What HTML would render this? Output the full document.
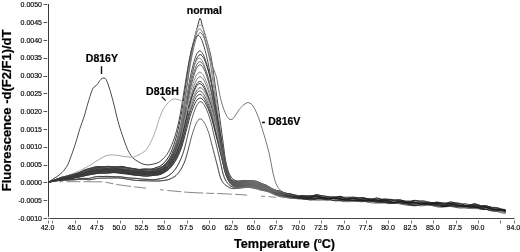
<!DOCTYPE html>
<html><head><meta charset="utf-8"><style>
html,body{margin:0;padding:0;background:#fff;}
svg{display:block;filter:grayscale(1);}
.tk{font-family:"Liberation Sans",sans-serif;font-size:7px;fill:#000;stroke:#000;stroke-width:0.15px;}
.lb{font-family:"Liberation Sans",sans-serif;font-weight:bold;font-size:10.5px;fill:#000;stroke:#000;stroke-width:0.2px;}
.ti{font-family:"Liberation Sans",sans-serif;font-weight:bold;font-size:12.7px;fill:#000;stroke:#000;stroke-width:0.2px;}
</style></head><body>
<svg width="520" height="252" viewBox="0 0 520 252">
<defs><linearGradient id="hg" gradientUnits="userSpaceOnUse" x1="48" y1="0" x2="506" y2="0"><stop offset="0" stop-color="#383838"/><stop offset="0.26" stop-color="#383838"/><stop offset="0.33" stop-color="#555"/><stop offset="0.40" stop-color="#555"/><stop offset="0.45" stop-color="#6a6a6a"/><stop offset="1" stop-color="#6a6a6a"/></linearGradient>
<linearGradient id="lg" gradientUnits="userSpaceOnUse" x1="0" y1="130" x2="0" y2="165"><stop offset="0" stop-color="#000"/><stop offset="1" stop-color="#fff"/></linearGradient><linearGradient id="xg" gradientUnits="userSpaceOnUse" x1="270" y1="0" x2="300" y2="0"><stop offset="0" stop-color="#fff"/><stop offset="1" stop-color="#000"/></linearGradient><mask id="low" maskUnits="userSpaceOnUse" x="0" y="0" width="520" height="252"><rect x="48" y="100" width="470" height="118" fill="url(#lg)"/></mask><mask id="lft" maskUnits="userSpaceOnUse" x="0" y="0" width="520" height="252"><rect x="48" y="0" width="470" height="252" fill="url(#xg)"/></mask><linearGradient id="xg2" gradientUnits="userSpaceOnUse" x1="270" y1="0" x2="300" y2="0"><stop offset="0" stop-color="#000"/><stop offset="1" stop-color="#fff"/></linearGradient><mask id="rgt" maskUnits="userSpaceOnUse" x="0" y="0" width="520" height="252"><rect x="48" y="100" width="470" height="118" fill="url(#xg2)"/></mask></defs>
<rect width="520" height="252" fill="#fff"/>
<path d="M48 182.3l1-.4l1-.4l1-.3l1-.4l1-.3l1-.3l1-.4l1-.3l1-.4l1-.4l1-.5l1-.4l1-.4l1-.3l1-.2l1-.3l1-.2l1-.2l1-.3l1-.3l1-.3l1-.3l1-.2l1-.2l1-.3l1-.2l1-.2l1-.2l1-.3l1-.3l1-.4l1-.5l1-.5l1-.5l1-.5l1-.5l1-.4l1-.3l1-.3l1-.3l1-.3l1-.3l1-.2l1-.3l1-.3l1-.3l1-.2l1-.2l1-.1l1-.1l1 0l1 0l1 .1l1 0l1 0l1-.1l1 0l1-.1l1-.1l1 0l1 0l1 .1l1 .1l1 .1l1 .1l1 .1l1-.1l1 0l1-.1l1-.1l1-.1l1-.1l1 0l1 .1l1 .1l1 .2l1 .2l1 .3l1 .2l1 .2l1 .2l1 .1l1 .2l1 .2l1 .1l1 .2l1 .2l1 .2l1 .2l1 .1l1 0l1 0l1-.1l1-.1l1-.1l1-.1l1 0l1 0l1 0l1 .1l1 0l1 0l1 0l1-.2l1-.2l1-.3l1-.3l1-.4l1-.3l1-.3l1-.4l1-.5l1-.6l1-.8l1-.9l1-1l1-1.1l1-1.2l1-1.3l1-1.4l1-1.6l1-2l1-2.1l1-2.4l1-2.7l1-2.7l1-3l1-3.5l1-3.8l1-4.2l1-4.5l1-4.8l1-5.1l1-5.8l1-6.4l1-6.8l1-6.7l1-6.5l1-6.9l1-6.9l1-6.7l1-5.9l1-5l1-4.3l1-4l1-3.8l1-3.9l1-3.9l1-3.8l1-3.5l1-4l1-2.4l1 2l1 4.1l1 3.4l1 3.4l1 3.5l1 3.5l1 3.3l1 3.3l1 3.5l1 3.9l1 4.5l1 5.6l1 6.9l1 7.5l1 7.4l1 7.1l1 7l1 7.1l1 7.1l1 7.3l1 7.5l1 7.5l1 7.6l1 8l1 7.3l1 5.4l1 4.2l1 3.5l1 2.6l1 2l1 1.7l1 1.4l1 .9l1 .6l1 .5l1 .4l1 .2l1 .1l1-.1l1-.1l1 0l1-.2l1-.1l1-.1l1 0l1 0l1 0l1 .1l1 0l1 .1l1 0l1 0l1 .1l1 0l1 .2l1 .2l1 .2l1 .4l1 .5l1 .4l1 .5l1 .4l1 .4l1 .4l1 .3l1 .4l1 .5l1 .6l1 .7l1 .7l1 .7l1 .6l1 .5l1 .4l1 .3l1 .2l1 .2l1 .1l1 .2l1 .2l1 .4l1 .4l1 .4l1 .4l1 .4l1 .2l1 .2l1 .2l1 .1l1 .1l1 .2l1 .3l1 .3l1 .3l1 .3l1 .3l1 .2l1 .1l1 0l1-.1l1-.1l1 0l1 0l1 .1l1 .3l1 .3l1 .2l1 .3l1 .1l1-.1l1-.2l1-.3l1-.4l1-.5l1-.3l1-.2l1-.1l1 .1l1 .2l1 .3l1 .2l1 .3l1 .1l1 .1l1 .1l1 .1l1 .1l1 .2l1 .3l1 .3l1 .3l1 .2l1 .1l1 0l1-.2l1-.3l1-.3l1-.4l1-.2l1 0l1 .1l1 .3l1 .4l1 .4l1 .3l1 .2l1 .1l1-.1l1-.2l1-.2l1-.3l1-.1l1-.1l1 0l1 .2l1 .1l1 .2l1 .1l1 0l1 0l1-.1l1 0l1 0l1 .2l1 .2l1 .4l1 .4l1 .3l1 .3l1 .1l1 0l1-.2l1-.3l1-.4l1-.3l1-.2l1-.1l1 .2l1 .2l1 .4l1 .4l1 .3l1 .2l1 0l1 0l1-.2l1-.1l1-.1l1-.1l1 .1l1 .1l1 .2l1 .2l1 .1l1 0l1 0l1-.1l1-.1l1 0l1 .1l1 .3l1 .4l1 .5l1 .5l1 .5l1 .3l1 .1l1 0l1-.3l1-.4l1-.4l1-.5l1-.3l1-.2l1 0l1 .1l1 .2l1 .2l1 .1l1 .1l1 0l1 0l1 0l1 .1l1 .1l1 .3l1 .3l1 .4l1 .4l1 .3l1 .1l1 0l1-.1l1-.3l1-.2l1-.2l1 0l1 .1l1 .2l1 .4l1 .4l1 .3l1 .2l1 0l1-.2l1-.3l1-.4l1-.4l1-.3l1-.2l1 0l1 .1l1 .2l1 .2l1 .2l1 .2l1 .1l1 .1l1 .1l1 .2l1 .2l1 .4l1 .4l1 .5l1 .5l1 .3l1 .2l1 0l1-.2l1-.4l1-.5l1-.4l1-.4l1-.2l1 0l1 .2l1 .3l1 .4l1 .4l1 .3l1 .2l1 .1l1 0l1 0l1 0l1 .1l1 .2l1 .3l1 .4l1 .3l1 .3l1 .2l1 .1l1 .1l1-.1l1 0l1 .1l1 .2l1 .4l1 .5l1 .5l1 .6l1 .4l1 .3l1 0l.5 0" stroke="#333" stroke-width="0.95" fill="none"/>
<path d="M48 182.3l1-.4l1-.4l1-.4l1-.3l1-.4l1-.4l1-.3l1-.3l1-.3l1-.3l1-.3l1-.3l1-.3l1-.3l1-.2l1-.3l1-.2l1-.3l1-.2l1-.3l1-.2l1-.3l1-.3l1-.2l1-.3l1-.3l1-.3l1-.4l1-.3l1-.4l1-.4l1-.4l1-.5l1-.4l1-.4l1-.4l1-.4l1-.3l1-.4l1-.3l1-.3l1-.3l1-.2l1-.1l1-.2l1-.1l1-.1l1-.1l1-.1l1-.1l1-.1l1-.1l1 0l1-.1l1-.1l1-.1l1-.1l1-.1l1-.1l1 0l1 0l1-.1l1 0l1 .1l1 0l1 0l1 0l1 .1l1 0l1 .1l1 .1l1 .1l1 .1l1 .1l1 .1l1 .1l1 .2l1 .2l1 .2l1 .1l1 .2l1 .2l1 .2l1 .2l1 .1l1 .1l1 .1l1 .1l1 0l1 0l1 0l1 .1l1 0l1 0l1 0l1 0l1 0l1 0l1 0l1 .1l1 0l1-.1l1 0l1-.1l1-.1l1-.1l1-.2l1-.1l1-.3l1-.2l1-.2l1-.4l1-.4l1-.6l1-.8l1-.9l1-1l1-1.1l1-1.2l1-1.3l1-1.3l1-1.6l1-2l1-2.1l1-2.5l1-2.6l1-2.8l1-2.9l1-3.4l1-3.7l1-4l1-4.4l1-4.8l1-5.2l1-6.1l1-6.8l1-7.1l1-7.1l1-7l1-7.3l1-7.3l1-6.9l1-6.2l1-5.5l1-5.3l1-4.8l1-4.2l1-3.6l1-3.1l1-2.1l1-1.3l1-.8l1 .3l1 1.3l1 1.7l1 2.4l1 3.1l1 3.5l1 3.8l1 4.3l1 4.7l1 5.2l1 5.5l1 6.5l1 7.3l1 7.9l1 7.7l1 7.3l1 7.1l1 7.2l1 7.2l1 7.3l1 7.4l1 7.4l1 7.8l1 7.8l1 6.5l1 4.5l1 3.8l1 3l1 2.2l1 1.8l1 1.5l1 1.1l1 .7l1 .5l1 .4l1 .3l1 .2l1 .1l1 0l1 0l1 0l1-.1l1-.1l1-.2l1-.2l1-.1l1-.1l1-.1l1 0l1 .1l1 .2l1 .2l1 .2l1 .2l1 .3l1 .2l1 .3l1 .3l1 .4l1 .4l1 .4l1 .4l1 .3l1 .3l1 .3l1 .3l1 .3l1 .4l1 .4l1 .5l1 .4l1 .5l1 .5l1 .5l1 .5l1 .5l1 .5l1 .4l1 .4l1 .4l1 .3l1 .3l1 .3l1 .2l1 .2l1 .1l1 .1l1 .1l1 0l1 .1l1 .1l1 .1l1 .1l1 .2l1 .2l1 .2l1 .3l1 .3l1 .2l1 .2l1 .3l1 .1l1 .2l1 .1l1 0l1 0l1-.1l1-.1l1-.2l1-.1l1-.1l1-.1l1-.1l1-.1l1 0l1 .1l1 .1l1 .1l1 .1l1 .1l1 0l1 .1l1 0l1 0l1 0l1-.1l1 0l1-.1l1 0l1 .1l1 .1l1 .1l1 .2l1 .3l1 .3l1 .2l1 .3l1 .3l1 .2l1 .1l1 .1l1-.1l1 0l1-.2l1-.2l1-.2l1-.2l1-.2l1-.2l1-.2l1 0l1-.1l1 .1l1 .1l1 .1l1 .2l1 .2l1 .2l1 .3l1 .2l1 .2l1 .1l1 .2l1 .1l1 .1l1 .1l1 .1l1 0l1 0l1 0l1 0l1 0l1 0l1 0l1-.1l1 0l1-.1l1 0l1 0l1 0l1 0l1 0l1 0l1 .1l1 .1l1 .1l1 .1l1 .1l1 .1l1 .1l1 .1l1 .1l1 .2l1 .1l1 .2l1 .2l1 .2l1 .2l1 .2l1 .2l1 .1l1 .2l1 .1l1 .1l1 0l1-.1l1-.1l1-.2l1-.2l1-.2l1-.3l1-.2l1-.2l1-.1l1 0l1 0l1 .1l1 .2l1 .3l1 .3l1 .4l1 .4l1 .3l1 .3l1 .3l1 .1l1 .2l1 0l1 0l1-.1l1-.1l1-.1l1-.1l1-.1l1-.1l1 0l1 0l1 .1l1 .1l1 .1l1 0l1 .1l1 0l1 0l1 0l1-.1l1 0l1-.1l1-.1l1 0l1 0l1 0l1 .2l1 .1l1 .3l1 .3l1 .3l1 .3l1 .4l1 .2l1 .3l1 .2l1 .1l1 0l1 0l1-.1l1-.2l1-.1l1-.2l1-.2l1-.2l1-.1l1-.1l1 0l1 0l1 .1l1 .2l1 .1l1 .2l1 .3l1 .2l1 .3l1 .3l1 .3l1 .3l1 .3l1 .2l1 .3l1 .2l1 .2l1 .2l1 .1l1 .1l1 .2l1 0l1 .1l1 .1l1 0l1 .1l1 0l1 .1l1 .1l1 .2l1 .1l1 .2l.5 .1" stroke="#999" stroke-width="0.95" fill="none"/>
<path d="M48 182.3l1-.4l1-.3l1-.4l1-.4l1-.4l1-.3l1-.4l1-.3l1-.4l1-.2l1-.3l1-.2l1-.3l1-.2l1-.2l1-.3l1-.3l1-.3l1-.3l1-.3l1-.3l1-.3l1-.3l1-.3l1-.2l1-.3l1-.3l1-.4l1-.4l1-.3l1-.4l1-.4l1-.4l1-.4l1-.3l1-.3l1-.3l1-.2l1-.4l1-.3l1-.4l1-.3l1-.4l1-.3l1-.3l1-.3l1-.2l1-.2l1-.1l1 0l1 0l1 .1l1 0l1 0l1 0l1 0l1-.1l1-.1l1 0l1-.1l1 0l1 0l1 .1l1 0l1 .1l1 0l1 .1l1 0l1 0l1 0l1 0l1 0l1 .1l1 .1l1 .1l1 .1l1 .1l1 .2l1 .2l1 .1l1 .1l1 .1l1 .1l1 .1l1 .1l1 .1l1 .2l1 .1l1 .2l1 .1l1 .2l1 .1l1 .1l1 .1l1 0l1 0l1-.1l1 0l1 0l1 0l1 0l1 .1l1 0l1 0l1-.1l1-.1l1-.2l1-.2l1-.3l1-.3l1-.4l1-.3l1-.5l1-.6l1-.7l1-.8l1-.9l1-1l1-1.1l1-1.2l1-1.3l1-1.5l1-1.8l1-2.2l1-2.4l1-2.6l1-2.8l1-2.9l1-3.3l1-3.6l1-4.1l1-4.4l1-4.7l1-5.2l1-6.2l1-6.8l1-7.1l1-7l1-7l1-7.2l1-7.2l1-6.6l1-5.8l1-5.4l1-5.1l1-4.6l1-4l1-3.4l1-2.9l1-1.7l1-1.2l1-.4l1 .8l1 1.5l1 1.9l1 2.9l1 3.4l1 3.6l1 4l1 4.5l1 4.9l1 5.3l1 5.9l1 7l1 7.5l1 7.6l1 7.1l1 7l1 7.1l1 7.1l1 7.2l1 7.4l1 7.3l1 7.6l1 7.8l1 6.5l1 4.5l1 3.7l1 3l1 2.2l1 1.9l1 1.5l1 1.2l1 .8l1 .5l1 .4l1 .2l1 .1l1-.1l1 0l1-.1l1 0l1-.1l1-.1l1 0l1-.1l1-.1l1-.1l1 0l1-.1l1 0l1 0l1 .1l1 .1l1 .1l1 .2l1 .2l1 .3l1 .3l1 .4l1 .5l1 .4l1 .4l1 .4l1 .3l1 .3l1 .3l1 .3l1 .4l1 .5l1 .5l1 .5l1 .6l1 .5l1 .5l1 .5l1 .5l1 .4l1 .4l1 .4l1 .3l1 .4l1 .5l1 .4l1 .5l1 .4l1 .4l1 .2l1 .1l1 .1l1 0l1 0l1 0l1 0l1 0l1 .1l1 .2l1 .2l1 .2l1 .3l1 .2l1 .1l1 0l1 0l1 0l1-.1l1 0l1 0l1 0l1 .1l1 .2l1 .1l1 .2l1 .1l1 .1l1 0l1 0l1-.1l1 0l1 0l1 0l1 .1l1 .1l1 .2l1 .2l1 .1l1 .1l1 0l1-.1l1-.2l1-.2l1-.2l1-.1l1 0l1 0l1 .2l1 .3l1 .3l1 .3l1 .2l1 .1l1 .1l1-.1l1-.2l1-.2l1-.2l1-.1l1-.1l1 0l1 .1l1 .2l1 .2l1 .2l1 .2l1 .1l1 .1l1 0l1 0l1 .1l1 0l1 .1l1 .1l1 .2l1 .2l1 .2l1 .1l1 .1l1 0l1-.1l1-.1l1-.1l1-.1l1-.1l1 0l1 .1l1 .2l1 .2l1 .2l1 .1l1 .1l1 0l1-.2l1-.2l1-.2l1-.2l1-.2l1 0l1 0l1 .3l1 .3l1 .3l1 .4l1 .3l1 .3l1 .2l1 .1l1 0l1 0l1-.1l1 0l1 .1l1 .1l1 .1l1 .2l1 .1l1 .2l1 0l1 0l1 0l1-.1l1-.1l1 0l1 0l1 .1l1 .1l1 .2l1 .2l1 .1l1 .1l1 0l1-.1l1-.1l1-.2l1-.2l1-.1l1-.1l1 .1l1 .1l1 .3l1 .3l1 .3l1 .2l1 .2l1 .1l1-.1l1-.1l1-.2l1-.2l1-.1l1 0l1 0l1 .2l1 .3l1 .3l1 .3l1 .2l1 .2l1 .2l1 0l1 .1l1-.1l1 0l1 .1l1 0l1 .1l1 .1l1 .1l1 .1l1 0l1-.1l1-.1l1-.2l1-.2l1-.2l1-.1l1 0l1 .1l1 .2l1 .3l1 .2l1 .3l1 .2l1 .1l1 0l1-.1l1-.1l1-.1l1 0l1 .1l1 .2l1 .3l1 .4l1 .4l1 .5l1 .4l1 .3l1 .2l1 .1l1 0l1 0l1-.1l1 0l1 0l1 .1l1 .1l1 .3l1 .2l1 .2l1 .2l1 .1l1 .1l1 .1l1 .1l1 .1l1 .1l1 .2l1 .3l.5 .1" stroke="#777" stroke-width="0.95" fill="none"/>
<path d="M48 182.3l1-.3l1-.3l1-.3l1-.3l1-.3l1-.4l1-.3l1-.4l1-.3l1-.4l1-.3l1-.3l1-.3l1-.2l1-.2l1-.1l1-.2l1-.1l1-.2l1-.1l1-.2l1-.2l1-.3l1-.3l1-.3l1-.3l1-.3l1-.3l1-.3l1-.4l1-.3l1-.3l1-.3l1-.3l1-.3l1-.3l1-.4l1-.3l1-.4l1-.3l1-.4l1-.4l1-.3l1-.3l1-.2l1-.2l1-.1l1-.1l1-.1l1 0l1 0l1 .1l1 0l1 0l1 0l1-.1l1-.1l1-.1l1-.1l1-.2l1-.1l1-.1l1 0l1 0l1 0l1 0l1 .1l1 .1l1 .2l1 .1l1 .2l1 .1l1 .2l1 .1l1 .2l1 .1l1 .1l1 .1l1 .1l1 .1l1 .1l1 .1l1 .2l1 .1l1 .1l1 0l1 .1l1 0l1 0l1 .1l1 0l1 0l1 0l1 0l1 .1l1 .1l1 .1l1 .2l1 .1l1 .1l1 .1l1 .1l1 0l1-.1l1-.1l1-.2l1-.3l1-.3l1-.3l1-.4l1-.5l1-.6l1-.6l1-.7l1-.8l1-.9l1-.8l1-.9l1-1l1-1l1-1.3l1-1.5l1-1.8l1-1.9l1-2.2l1-2.3l1-2.4l1-2.7l1-3l1-3.3l1-3.6l1-3.8l1-4.1l1-4.8l1-5.4l1-5.7l1-5.8l1-5.5l1-5.8l1-5.9l1-5.7l1-5.3l1-4.6l1-4.4l1-4.1l1-3.7l1-3.1l1-2.8l1-2.2l1-1.3l1-.9l1-.4l1 .6l1 1.3l1 1.5l1 2.1l1 2.7l1 2.9l1 3.2l1 3.5l1 3.9l1 4.1l1 4.5l1 5.2l1 6l1 6.3l1 6.4l1 6l1 5.9l1 5.9l1 5.9l1 6l1 6.1l1 6.2l1 6.1l1 6.5l1 5.9l1 4.4l1 3.4l1 2.8l1 2.1l1 1.6l1 1.4l1 1l1 .7l1 .5l1 .4l1 .3l1 .3l1 .1l1 .1l1 0l1 0l1-.1l1-.2l1-.1l1-.2l1-.2l1-.1l1-.1l1 .1l1 .1l1 .2l1 .2l1 .2l1 .3l1 .2l1 .2l1 .3l1 .3l1 .3l1 .4l1 .3l1 .3l1 .3l1 .4l1 .3l1 .4l1 .5l1 .5l1 .5l1 .5l1 .6l1 .4l1 .5l1 .3l1 .3l1 .2l1 .1l1 .1l1 .1l1 .1l1 .1l1 .2l1 .2l1 .3l1 .3l1 .4l1 .4l1 .5l1 .4l1 .5l1 .3l1 .4l1 .2l1 .2l1 .2l1 .1l1 .1l1 0l1 0l1 0l1 0l1 0l1 0l1 0l1-.1l1 0l1-.1l1-.2l1-.2l1-.1l1-.2l1-.2l1-.1l1-.1l1 .1l1 .1l1 .2l1 .2l1 .3l1 .4l1 .3l1 .3l1 .3l1 .2l1 0l1 0l1 0l1-.2l1-.2l1-.2l1-.1l1-.1l1-.1l1 .1l1 .1l1 .2l1 .2l1 .3l1 .2l1 .2l1 .2l1 0l1 0l1-.1l1-.2l1-.1l1-.2l1-.2l1-.2l1 0l1 0l1 0l1 .2l1 .2l1 .3l1 .2l1 .2l1 .2l1 .2l1 .1l1 0l1 0l1 0l1 0l1-.1l1 0l1 0l1 .1l1 .1l1 .1l1 .2l1 .1l1 .2l1 .1l1 0l1 0l1-.1l1-.2l1-.1l1-.1l1-.2l1 0l1 0l1 .1l1 .1l1 .3l1 .3l1 .4l1 .3l1 .3l1 .3l1 .1l1 .1l1 0l1-.2l1-.2l1-.2l1-.2l1-.3l1-.1l1-.1l1 0l1 .1l1 .3l1 .3l1 .4l1 .3l1 .4l1 .4l1 .3l1 .2l1 .1l1 0l1-.1l1-.1l1-.1l1-.2l1-.1l1-.1l1-.1l1-.1l1 0l1 0l1 0l1-.1l1 0l1 0l1-.1l1 0l1-.1l1 0l1 0l1 .1l1 .2l1 .2l1 .4l1 .4l1 .5l1 .4l1 .5l1 .4l1 .3l1 .2l1 0l1-.1l1-.2l1-.3l1-.4l1-.4l1-.4l1-.4l1-.3l1-.1l1-.1l1 .1l1 .2l1 .2l1 .3l1 .4l1 .3l1 .3l1 .2l1 .2l1 .1l1 0l1 0l1 0l1 0l1 .1l1 0l1 .1l1 .2l1 .2l1 .2l1 .2l1 .2l1 .2l1 .1l1 .1l1 0l1-.1l1 0l1-.1l1 0l1 0l1 0l1 .1l1 .2l1 .3l1 .3l1 .3l1 .3l1 .3l1 .2l1 .1l1 .1l1 .1l1-.1l1 0l1-.1l1 0l1 0l1 .1l1 .2l1 .4l.5 .2" stroke="#444" stroke-width="0.95" fill="none"/>
<path d="M48 182.3l1-.3l1-.3l1-.3l1-.3l1-.4l1-.3l1-.3l1-.3l1-.3l1-.3l1-.2l1-.3l1-.2l1-.2l1-.2l1-.1l1-.2l1-.2l1-.1l1-.2l1-.2l1-.2l1-.2l1-.3l1-.3l1-.3l1-.3l1-.4l1-.3l1-.4l1-.4l1-.4l1-.3l1-.4l1-.3l1-.3l1-.2l1-.3l1-.2l1-.3l1-.2l1-.3l1-.2l1-.2l1-.2l1-.2l1-.1l1-.2l1-.1l1-.2l1-.1l1 0l1-.1l1 0l1-.1l1 0l1-.1l1 0l1-.1l1 0l1 0l1-.1l1 0l1 0l1 0l1 0l1 0l1 0l1 0l1 .1l1 .1l1 .1l1 .1l1 .2l1 .1l1 .2l1 .2l1 .2l1 .2l1 .2l1 .2l1 .1l1 .2l1 .1l1 .2l1 0l1 .1l1 0l1 .1l1 0l1 0l1-.1l1 0l1 0l1 0l1 0l1 .1l1 0l1 0l1 0l1 .1l1-.1l1 0l1 0l1-.1l1-.1l1-.1l1-.1l1-.2l1-.2l1-.3l1-.4l1-.5l1-.7l1-.7l1-.8l1-.9l1-1l1-1l1-1l1-1.2l1-1.5l1-1.6l1-1.9l1-1.9l1-2.2l1-2.2l1-2.4l1-2.8l1-3l1-3.3l1-3.6l1-3.8l1-4.4l1-5l1-5.5l1-5.6l1-5.5l1-5.6l1-5.8l1-5.7l1-5.4l1-4.7l1-4.4l1-4.1l1-3.8l1-3.3l1-2.8l1-2.5l1-1.6l1-1.1l1-.6l1 .2l1 .9l1 1.3l1 1.7l1 2.4l1 2.6l1 2.9l1 3.2l1 3.5l1 3.8l1 4.2l1 4.5l1 5.4l1 5.9l1 6.1l1 5.8l1 5.7l1 5.6l1 5.7l1 5.7l1 5.9l1 6l1 5.9l1 6.4l1 6.1l1 5.1l1 3.6l1 3l1 2.5l1 1.7l1 1.5l1 1l1 .7l1 .4l1 .3l1 .2l1 .2l1 0l1 0l1 0l1 0l1-.1l1-.1l1-.1l1-.1l1 0l1 0l1 0l1 .1l1 .2l1 .1l1 .2l1 .2l1 .2l1 .2l1 .2l1 .2l1 .3l1 .3l1 .4l1 .3l1 .4l1 .3l1 .3l1 .4l1 .4l1 .4l1 .5l1 .5l1 .5l1 .6l1 .5l1 .5l1 .5l1 .5l1 .4l1 .3l1 .3l1 .2l1 .2l1 .2l1 .2l1 .2l1 .1l1 .2l1 .3l1 .2l1 .3l1 .3l1 .4l1 .4l1 .4l1 .3l1 .4l1 .3l1 .3l1 .2l1 .1l1 0l1 0l1-.1l1-.2l1-.2l1-.2l1-.2l1-.3l1-.1l1-.2l1-.1l1 0l1 0l1 .1l1 .1l1 .2l1 .3l1 .2l1 .3l1 .3l1 .3l1 .2l1 .2l1 .1l1 .1l1 .1l1-.1l1 0l1-.2l1-.1l1-.2l1-.1l1-.2l1-.1l1-.1l1-.1l1 0l1 0l1 .1l1 .1l1 .1l1 .2l1 .2l1 .2l1 .1l1 .2l1 .2l1 .1l1 .1l1 .1l1 .1l1 .1l1 0l1 0l1 .1l1 0l1 0l1 0l1 0l1 0l1 0l1 .1l1 0l1 0l1 0l1 0l1 0l1-.1l1 0l1 0l1 0l1-.1l1 0l1 .1l1 0l1 .1l1 .1l1 .1l1 .1l1 .2l1 .2l1 .2l1 .2l1 .2l1 .2l1 .2l1 .2l1 .1l1 .1l1 0l1 0l1 0l1-.1l1 0l1-.1l1-.1l1-.1l1-.1l1-.1l1 0l1 0l1 .1l1 0l1 .1l1 .2l1 .2l1 .1l1 .2l1 .2l1 .2l1 .2l1 .1l1 .2l1 .1l1 0l1 .1l1 0l1 .1l1 0l1-.1l1 0l1 0l1 0l1 0l1 0l1 .1l1 0l1 0l1 0l1 .1l1 0l1 0l1 0l1 .1l1 0l1 0l1 0l1 .1l1 0l1 .1l1 .1l1 .1l1 .1l1 .1l1 .2l1 .2l1 .2l1 .1l1 .2l1 .2l1 .1l1 .1l1 .1l1 0l1 0l1-.1l1-.1l1-.1l1-.2l1-.1l1-.2l1-.1l1-.1l1 0l1 0l1 .1l1 .1l1 .2l1 .2l1 .3l1 .3l1 .3l1 .4l1 .3l1 .3l1 .2l1 .2l1 .1l1 .1l1 0l1 0l1-.1l1-.1l1-.1l1-.1l1-.2l1 0l1 0l1 0l1 .1l1 .2l1 .2l1 .3l1 .4l1 .3l1 .4l1 .4l1 .4l1 .4l1 .3l1 .2l1 .2l1 .2l1 0l1 .1l1-.1l1 0l.5 0" stroke="#333" stroke-width="0.95" fill="none"/>
<path d="M48 182.3l1-.3l1-.3l1-.3l1-.3l1-.3l1-.4l1-.3l1-.3l1-.4l1-.3l1-.3l1-.4l1-.3l1-.2l1-.3l1-.2l1-.3l1-.2l1-.3l1-.2l1-.3l1-.2l1-.3l1-.2l1-.3l1-.2l1-.3l1-.3l1-.2l1-.3l1-.2l1-.3l1-.3l1-.3l1-.3l1-.4l1-.3l1-.4l1-.3l1-.4l1-.4l1-.4l1-.4l1-.3l1-.3l1-.2l1-.2l1-.2l1-.1l1 0l1-.1l1 0l1 .1l1 0l1 0l1 0l1 0l1 0l1 0l1 0l1 0l1 0l1-.1l1 0l1 0l1-.1l1 0l1 0l1 0l1 0l1 .1l1 .1l1 .1l1 .2l1 .1l1 .2l1 .2l1 .2l1 .2l1 .2l1 .1l1 .2l1 .1l1 .1l1 0l1 .1l1 0l1 0l1 0l1 .1l1 0l1 .1l1 .1l1 .1l1 .1l1 .1l1 .1l1 .1l1 .1l1 0l1 0l1-.1l1-.1l1-.2l1-.2l1-.2l1-.2l1-.3l1-.2l1-.3l1-.4l1-.4l1-.6l1-.6l1-.8l1-.8l1-.9l1-.9l1-1l1-1.1l1-1.4l1-1.6l1-1.7l1-2l1-2l1-2.2l1-2.3l1-2.6l1-2.9l1-3.1l1-3.5l1-3.6l1-4.1l1-4.8l1-5.3l1-5.5l1-5.4l1-5.3l1-5.6l1-5.6l1-5.2l1-4.7l1-4.2l1-4l1-3.6l1-3.2l1-2.7l1-2.4l1-1.7l1-.9l1-.6l1 .2l1 .9l1 1.4l1 1.7l1 2.3l1 2.7l1 2.9l1 3.2l1 3.5l1 3.8l1 4.2l1 4.5l1 5.3l1 5.8l1 6.1l1 5.9l1 5.5l1 5.5l1 5.5l1 5.6l1 5.6l1 5.8l1 5.8l1 6l1 6l1 5.2l1 3.7l1 3l1 2.6l1 1.9l1 1.6l1 1.3l1 .9l1 .7l1 .4l1 .3l1 .2l1 .2l1 0l1 0l1-.1l1-.1l1-.1l1-.2l1-.2l1-.2l1-.1l1-.1l1 0l1 .1l1 .1l1 .2l1 .2l1 .3l1 .2l1 .3l1 .2l1 .3l1 .3l1 .4l1 .3l1 .3l1 .3l1 .3l1 .2l1 .2l1 .3l1 .2l1 .4l1 .4l1 .4l1 .4l1 .5l1 .5l1 .5l1 .5l1 .5l1 .5l1 .4l1 .4l1 .3l1 .3l1 .2l1 .2l1 .1l1 .1l1 0l1 0l1 0l1 .1l1 0l1 .1l1 .1l1 .2l1 .2l1 .3l1 .2l1 .3l1 .3l1 .3l1 .2l1 .2l1 .2l1 .1l1 0l1 .1l1 0l1-.1l1 0l1-.1l1-.1l1 0l1-.1l1 0l1 0l1-.1l1 0l1-.1l1-.1l1-.1l1-.1l1-.1l1-.2l1 0l1 0l1 0l1 .1l1 .2l1 .3l1 .3l1 .4l1 .4l1 .4l1 .3l1 .3l1 .2l1 0l1 0l1-.2l1-.2l1-.3l1-.3l1-.3l1-.2l1-.2l1-.1l1 0l1 .1l1 .2l1 .3l1 .2l1 .3l1 .3l1 .2l1 .2l1 .1l1 0l1 0l1-.1l1-.1l1-.2l1-.1l1 0l1-.1l1 .1l1 .1l1 .1l1 .1l1 .2l1 .2l1 .2l1 .1l1 .1l1 .1l1 0l1 .1l1-.1l1 0l1 0l1 0l1 0l1 .1l1 .1l1 0l1 .1l1 .1l1 .1l1 .1l1 0l1 0l1 0l1 0l1-.1l1 0l1 0l1 0l1 .1l1 .1l1 .2l1 .2l1 .2l1 .3l1 .3l1 .3l1 .2l1 .2l1 .2l1 .1l1 0l1-.1l1 0l1-.2l1-.1l1-.2l1-.2l1-.2l1-.1l1-.1l1-.1l1-.1l1 0l1 .1l1 .1l1 .1l1 .2l1 .2l1 .3l1 .3l1 .3l1 .3l1 .3l1 .3l1 .2l1 .2l1 .2l1 0l1 0l1-.1l1-.2l1-.2l1-.3l1-.2l1-.3l1-.2l1-.1l1-.1l1 0l1 .1l1 .1l1 .2l1 .3l1 .3l1 .2l1 .3l1 .2l1 .1l1 .2l1 0l1 .1l1 0l1 0l1 .1l1 0l1 .1l1 0l1 .1l1 .2l1 .1l1 .1l1 .1l1 0l1 0l1 0l1-.1l1-.1l1-.1l1 0l1-.1l1 .1l1 .1l1 .1l1 .3l1 .3l1 .3l1 .4l1 .3l1 .3l1 .3l1 .2l1 .1l1 0l1 0l1-.1l1-.1l1-.1l1-.1l1 .1l1 .1l1 .2l1 .2l1 .4l1 .5l1 .4l1 .5l1 .5l1 .4l.5 .1" stroke="#888" stroke-width="0.95" fill="none"/>
<path d="M48 182.3l1-.3l1-.3l1-.2l1-.3l1-.3l1-.2l1-.3l1-.2l1-.2l1-.2l1-.3l1-.2l1-.2l1-.2l1-.2l1-.2l1-.2l1-.2l1-.2l1-.2l1-.2l1-.3l1-.2l1-.3l1-.2l1-.3l1-.3l1-.3l1-.3l1-.3l1-.3l1-.3l1-.3l1-.2l1-.3l1-.2l1-.3l1-.2l1-.2l1-.2l1-.3l1-.2l1-.3l1-.2l1-.2l1-.2l1-.2l1-.2l1-.2l1-.1l1-.1l1-.1l1 0l1-.1l1 0l1-.1l1 0l1-.1l1 0l1-.1l1 0l1 0l1 0l1 0l1 0l1 0l1 0l1 0l1 .1l1 0l1 .2l1 .1l1 .1l1 .2l1 .1l1 .2l1 .2l1 .2l1 .1l1 .2l1 .1l1 .2l1 .1l1 .1l1 .1l1 .1l1 .1l1 0l1 0l1 .1l1 0l1 .1l1 0l1 0l1 .1l1 0l1 .1l1 0l1 0l1 0l1 0l1-.1l1-.1l1-.1l1-.1l1-.1l1-.2l1-.2l1-.2l1-.2l1-.3l1-.4l1-.5l1-.6l1-.7l1-.7l1-.9l1-.8l1-1l1-1l1-1.2l1-1.4l1-1.7l1-1.8l1-2l1-2.1l1-2.2l1-2.5l1-2.7l1-3l1-3.3l1-3.5l1-3.8l1-4.4l1-5l1-5.2l1-5.3l1-5.2l1-5.4l1-5.4l1-5.3l1-4.8l1-4.3l1-4.1l1-3.8l1-3.4l1-2.9l1-2.6l1-2.1l1-1.3l1-.9l1-.3l1 .4l1 1.1l1 1.3l1 1.9l1 2.4l1 2.6l1 2.9l1 3.2l1 3.5l1 3.8l1 4.1l1 4.7l1 5.4l1 5.8l1 5.7l1 5.4l1 5.4l1 5.3l1 5.4l1 5.5l1 5.6l1 5.6l1 5.6l1 6l1 5.5l1 4.1l1 3.2l1 2.6l1 2.1l1 1.6l1 1.3l1 .9l1 .7l1 .4l1 .3l1 .3l1 .1l1 .1l1 .1l1 0l1 0l1-.1l1 0l1-.2l1-.1l1-.1l1 0l1-.1l1 .1l1 .1l1 .1l1 .2l1 .2l1 .2l1 .2l1 .2l1 .3l1 .3l1 .3l1 .4l1 .3l1 .3l1 .3l1 .3l1 .2l1 .3l1 .3l1 .4l1 .4l1 .4l1 .5l1 .5l1 .5l1 .5l1 .5l1 .5l1 .4l1 .5l1 .4l1 .4l1 .3l1 .3l1 .3l1 .3l1 .3l1 .2l1 .2l1 .2l1 .2l1 .1l1 .2l1 .2l1 .1l1 .1l1 .1l1 .1l1 .1l1 0l1 .1l1 0l1 0l1 0l1 0l1 0l1 0l1 .1l1 0l1 0l1 0l1 0l1 0l1 .1l1 0l1 0l1 .1l1 0l1 0l1 .1l1 0l1 .1l1 0l1 .1l1 .1l1 .1l1 .1l1 .1l1 .1l1 .1l1 .1l1 .1l1 .1l1 .1l1 .1l1 0l1 .1l1 .1l1 0l1 0l1 0l1 0l1 0l1 0l1-.1l1 0l1-.1l1 0l1-.1l1 0l1-.1l1 0l1 0l1 0l1 0l1 .1l1 0l1 .1l1 .1l1 .1l1 .2l1 .1l1 .2l1 .1l1 .2l1 .2l1 .1l1 .2l1 .2l1 .1l1 .1l1 .1l1 .1l1 .1l1 0l1 0l1 0l1 0l1 0l1-.1l1 0l1-.1l1-.1l1 0l1-.1l1-.1l1 0l1 0l1 0l1 0l1 0l1 .1l1 .1l1 .1l1 .1l1 .1l1 .2l1 .2l1 .2l1 .1l1 .2l1 .2l1 .2l1 .2l1 .1l1 .2l1 .1l1 .1l1 .1l1 .1l1 0l1 0l1 .1l1 0l1 0l1-.1l1 0l1 0l1-.1l1 0l1 0l1 0l1-.1l1 0l1 0l1 0l1 .1l1 0l1 0l1 .1l1 .1l1 0l1 .1l1 .1l1 .1l1 0l1 .1l1 .1l1 .1l1 .1l1 .1l1 .1l1 .1l1 .1l1 .1l1 0l1 .1l1 .1l1 .1l1 .1l1 .1l1 0l1 .1l1 .1l1 .1l1 .1l1 0l1 .1l1 0l1 .1l1 0l1 .1l1 0l1 0l1 0l1 0l1 0l1 0l1 0l1 0l1 0l1 0l1 0l1 .1l1 0l1 .1l1 0l1 .1l1 .1l1 .2l1 .1l1 .2l1 .2l1 .2l1 .2l1 .3l1 .2l1 .3l1 .2l1 .3l1 .2l1 .2l1 .2l1 .2l1 .2l1 .2l1 .1l1 .2l1 .1l1 .1l1 .1l1 .1l1 0l1 .1l1 0l1 .1l1 .1l.5 0" stroke="#666" stroke-width="0.95" fill="none"/>
<path d="M48 182.3l1-.3l1-.3l1-.3l1-.3l1-.3l1-.2l1-.3l1-.2l1-.2l1-.2l1-.2l1-.3l1-.2l1-.3l1-.2l1-.3l1-.2l1-.2l1-.1l1-.2l1-.2l1-.2l1-.2l1-.3l1-.3l1-.4l1-.3l1-.4l1-.4l1-.3l1-.3l1-.3l1-.2l1-.2l1-.2l1-.3l1-.2l1-.2l1-.3l1-.3l1-.3l1-.3l1-.3l1-.2l1-.3l1-.1l1-.2l1-.2l1-.1l1-.2l1-.1l1-.1l1-.1l1-.1l1-.1l1 0l1 0l1 0l1 .1l1 0l1 .1l1 .1l1 .1l1 0l1 0l1 0l1-.1l1 0l1 0l1 0l1 .1l1 .1l1 .2l1 .1l1 .1l1 .1l1 .1l1 0l1 .1l1 0l1 .1l1 0l1 .2l1 .1l1 .2l1 .2l1 .2l1 .2l1 .1l1 .2l1 .1l1 .1l1 0l1 .1l1 .1l1 0l1 .1l1 .1l1 .1l1 0l1 0l1-.1l1-.1l1-.2l1-.2l1-.3l1-.3l1-.2l1-.3l1-.2l1-.3l1-.3l1-.5l1-.5l1-.6l1-.7l1-.8l1-.8l1-.9l1-1l1-1.1l1-1.4l1-1.5l1-1.7l1-1.9l1-1.9l1-2.1l1-2.3l1-2.6l1-2.9l1-3.1l1-3.4l1-3.7l1-4.1l1-4.7l1-5.1l1-5.2l1-5l1-5.1l1-5.2l1-5.2l1-4.8l1-4.2l1-4l1-3.7l1-3.4l1-3l1-2.5l1-2.2l1-1.4l1-.8l1-.5l1 .3l1 1.1l1 1.3l1 1.8l1 2.3l1 2.6l1 2.8l1 3.1l1 3.5l1 3.7l1 4l1 4.5l1 5.3l1 5.7l1 5.8l1 5.5l1 5.2l1 5.3l1 5.2l1 5.4l1 5.4l1 5.5l1 5.4l1 5.9l1 5.7l1 4.5l1 3.4l1 2.9l1 2.3l1 1.7l1 1.3l1 1.1l1 .7l1 .4l1 .3l1 .3l1 .2l1 .1l1 0l1 0l1 0l1-.1l1-.1l1-.2l1-.3l1-.2l1-.2l1-.2l1-.1l1 0l1 .1l1 .2l1 .3l1 .3l1 .3l1 .4l1 .3l1 .4l1 .5l1 .4l1 .4l1 .3l1 .4l1 .3l1 .4l1 .4l1 .4l1 .4l1 .4l1 .4l1 .3l1 .3l1 .3l1 .2l1 .2l1 .3l1 .2l1 .3l1 .3l1 .3l1 .4l1 .3l1 .2l1 .2l1 .2l1 .1l1 .1l1 .2l1 .1l1 .2l1 .3l1 .3l1 .3l1 .3l1 .3l1 .2l1 .1l1 .1l1-.1l1 0l1-.1l1-.1l1 0l1 .1l1 .1l1 .1l1 .2l1 .1l1 .2l1 0l1 0l1-.1l1-.1l1-.1l1-.2l1 0l1 0l1 0l1 .2l1 .1l1 .2l1 .1l1 .1l1 0l1-.1l1-.1l1-.1l1-.1l1 0l1 0l1 .2l1 .1l1 .3l1 .2l1 .1l1 .1l1 0l1-.1l1-.1l1-.2l1-.2l1-.1l1 0l1 .1l1 .1l1 .3l1 .2l1 .3l1 .2l1 .2l1 .1l1 .1l1 0l1 0l1 .1l1 .1l1 .2l1 .2l1 .2l1 .2l1 .1l1 .1l1-.1l1-.2l1-.2l1-.4l1-.3l1-.3l1-.3l1-.1l1 0l1 0l1 .2l1 .2l1 .2l1 .1l1 .2l1 .1l1 .1l1 0l1 .2l1 .2l1 .2l1 .4l1 .4l1 .4l1 .3l1 .3l1 .2l1 0l1-.1l1-.1l1-.2l1-.3l1-.2l1-.1l1 0l1 0l1 .1l1 .1l1 .2l1 .1l1 0l1 0l1-.1l1 0l1-.1l1 0l1 .1l1 .1l1 .2l1 .3l1 .3l1 .2l1 .2l1 .1l1-.1l1-.1l1-.1l1-.2l1-.1l1-.1l1 0l1 .1l1 .2l1 .2l1 .3l1 .2l1 .1l1 .1l1 0l1 0l1-.1l1 0l1 0l1 0l1 .2l1 .2l1 .3l1 .2l1 .2l1 .1l1 .1l1-.1l1-.1l1-.2l1-.1l1-.2l1 0l1 .1l1 .1l1 .2l1 .2l1 .1l1 .1l1 0l1 0l1-.2l1-.2l1-.1l1-.2l1 0l1 .1l1 .1l1 .2l1 .3l1 .3l1 .2l1 .2l1 .2l1 .1l1 0l1 .1l1 .1l1 .2l1 .2l1 .3l1 .4l1 .4l1 .3l1 .2l1 .2l1 0l1-.1l1-.2l1-.3l1-.2l1-.2l1-.1l1-.1l1 .1l1 .1l1 .2l1 .2l1 .1l1 .2l1 .1l1 .1l1 .1l1 .1l1 .3l1 .3l1 .4l1 .5l1 .6l.5 .3" stroke="#555" stroke-width="0.95" fill="none"/>
<path d="M48 182.3l1-.3l1-.2l1-.3l1-.3l1-.2l1-.3l1-.3l1-.2l1-.3l1-.3l1-.2l1-.2l1-.1l1-.2l1-.1l1-.1l1-.1l1-.2l1-.1l1-.2l1-.2l1-.2l1-.3l1-.2l1-.3l1-.3l1-.3l1-.3l1-.3l1-.3l1-.3l1-.3l1-.2l1-.3l1-.2l1-.1l1-.2l1-.2l1-.3l1-.3l1-.3l1-.3l1-.3l1-.4l1-.2l1-.3l1-.1l1-.2l1 0l1-.1l1 0l1 0l1 0l1 0l1-.1l1-.1l1-.1l1-.1l1-.1l1-.1l1 0l1 0l1 .1l1 0l1 .1l1 0l1 .1l1 0l1 0l1 0l1 .1l1 0l1 .1l1 .2l1 .1l1 .2l1 .2l1 .2l1 .2l1 .2l1 .2l1 .1l1 .2l1 .1l1 .1l1 0l1 0l1 0l1 0l1 0l1 0l1 0l1 0l1 .1l1 .1l1 .1l1 .1l1 .2l1 .1l1 .1l1 .1l1 0l1-.1l1-.1l1-.2l1-.3l1-.2l1-.3l1-.3l1-.3l1-.3l1-.4l1-.4l1-.6l1-.5l1-.7l1-.7l1-.9l1-.8l1-1l1-1.1l1-1.4l1-1.5l1-1.6l1-1.8l1-1.8l1-2l1-2.2l1-2.5l1-2.8l1-3l1-3.2l1-3.5l1-4.2l1-4.6l1-4.9l1-4.8l1-4.8l1-5l1-5.1l1-4.7l1-4.3l1-3.9l1-3.6l1-3.4l1-3l1-2.6l1-2.2l1-1.8l1-1.1l1-.7l1-.3l1 .5l1 .9l1 1.2l1 1.8l1 2.1l1 2.3l1 2.5l1 2.9l1 3.1l1 3.4l1 3.7l1 4.4l1 4.9l1 5.2l1 5.1l1 4.9l1 4.8l1 4.9l1 4.9l1 5l1 5.2l1 5.2l1 5.3l1 5.5l1 4.9l1 3.6l1 2.9l1 2.4l1 1.8l1 1.4l1 1.1l1 .8l1 .4l1 .2l1 .1l1 .1l1 .1l1 0l1 .1l1 0l1 .1l1 0l1-.1l1 0l1-.1l1-.1l1-.1l1 0l1 0l1 .1l1 .1l1 .2l1 .2l1 .3l1 .2l1 .2l1 .3l1 .3l1 .3l1 .4l1 .4l1 .3l1 .3l1 .3l1 .3l1 .3l1 .4l1 .4l1 .4l1 .5l1 .5l1 .6l1 .6l1 .6l1 .6l1 .6l1 .5l1 .5l1 .3l1 .3l1 .2l1 .1l1 .1l1 0l1 .1l1 .1l1 .2l1 .3l1 .4l1 .3l1 .4l1 .4l1 .3l1 .2l1 .2l1 0l1 0l1 0l1-.1l1 0l1 0l1 0l1 .2l1 .1l1 .2l1 .2l1 .1l1 .1l1 0l1-.1l1-.1l1-.1l1-.2l1-.1l1-.1l1 0l1 0l1 .1l1 .1l1 .1l1 .1l1 .1l1 .1l1 .1l1 .1l1 .1l1 0l1 .1l1 0l1 0l1 0l1 .1l1 0l1 0l1 .1l1 .1l1 .2l1 .2l1 .2l1 .2l1 .1l1 .1l1 0l1-.1l1-.2l1-.3l1-.2l1-.3l1-.2l1 0l1 .1l1 .2l1 .3l1 .4l1 .4l1 .4l1 .3l1 .2l1 .1l1-.1l1-.1l1-.2l1-.2l1-.2l1-.1l1 0l1 0l1 .1l1 .1l1 .1l1 .1l1 0l1 0l1-.1l1-.1l1 0l1 0l1 0l1 .1l1 .2l1 .3l1 .3l1 .4l1 .3l1 .3l1 .2l1 .2l1 .1l1 .1l1-.1l1-.1l1-.2l1-.2l1-.2l1-.3l1-.2l1-.2l1-.1l1-.1l1 .1l1 .2l1 .3l1 .4l1 .5l1 .4l1 .4l1 .4l1 .2l1 .1l1 0l1-.1l1-.1l1-.2l1-.2l1-.1l1 0l1 0l1 0l1 .1l1 0l1 .1l1-.1l1-.1l1-.2l1-.1l1-.2l1 0l1 .1l1 .2l1 .3l1 .4l1 .5l1 .5l1 .5l1 .3l1 .3l1 0l1 0l1-.2l1-.3l1-.3l1-.4l1-.3l1-.3l1-.1l1-.1l1 0l1 0l1 .2l1 .2l1 .2l1 .3l1 .3l1 .3l1 .3l1 .2l1 .2l1 .2l1 .1l1 0l1 0l1 0l1-.1l1 0l1-.1l1 0l1 0l1 .1l1 0l1 .1l1 0l1-.1l1 0l1-.1l1-.1l1 0l1 0l1 .2l1 .2l1 .4l1 .5l1 .6l1 .5l1 .5l1 .4l1 .2l1 .1l1-.1l1-.2l1-.3l1-.2l1-.2l1-.1l1 0l1 .1l1 .3l1 .3l1 .4l1 .4l1 .3l1 .3l1 .3l1 .2l1 .1l1 .1l.5 .1" stroke="#888" stroke-width="0.95" fill="none"/>
<path d="M48 182.3l1-.3l1-.2l1-.3l1-.2l1-.3l1-.2l1-.2l1-.3l1-.2l1-.3l1-.2l1-.2l1-.1l1-.1l1-.1l1-.1l1-.1l1-.2l1-.2l1-.3l1-.3l1-.4l1-.3l1-.3l1-.2l1-.2l1-.1l1-.1l1-.1l1-.2l1-.2l1-.2l1-.3l1-.3l1-.3l1-.3l1-.3l1-.2l1-.2l1-.2l1-.1l1-.2l1-.2l1-.2l1-.3l1-.3l1-.3l1-.3l1-.3l1-.2l1-.1l1-.1l1 0l1-.1l1 0l1 0l1-.1l1 0l1 0l1 0l1 0l1 .1l1 .1l1 .1l1 .1l1 .1l1 0l1-.1l1 0l1-.1l1-.1l1-.1l1 .1l1 .1l1 .2l1 .3l1 .4l1 .3l1 .3l1 .3l1 .2l1 .1l1 .1l1 0l1 0l1 0l1 .1l1 0l1 .1l1 .2l1 0l1 .1l1 0l1 0l1-.1l1 0l1-.1l1 0l1 0l1 0l1 0l1 0l1-.1l1-.1l1-.1l1-.1l1-.2l1-.2l1-.1l1-.1l1-.1l1-.2l1-.3l1-.4l1-.6l1-.6l1-.8l1-.9l1-.9l1-1l1-1.1l1-1.3l1-1.4l1-1.5l1-1.6l1-1.7l1-1.8l1-2l1-2.3l1-2.6l1-2.8l1-3.1l1-3.3l1-3.8l1-4.3l1-4.6l1-4.6l1-4.5l1-4.7l1-4.8l1-4.7l1-4.3l1-3.9l1-3.6l1-3.4l1-3.1l1-2.6l1-2.3l1-1.9l1-1.2l1-.8l1-.4l1 .2l1 .9l1 1l1 1.6l1 2l1 2.3l1 2.5l1 2.8l1 3.1l1 3.4l1 3.5l1 4l1 4.7l1 4.9l1 4.9l1 4.7l1 4.6l1 4.7l1 4.7l1 4.8l1 4.9l1 5.1l1 5.1l1 5.4l1 5.1l1 3.9l1 3l1 2.4l1 1.9l1 1.4l1 1.2l1 .9l1 .5l1 .4l1 .3l1 .2l1 .1l1 0l1 0l1-.1l1 0l1-.1l1-.1l1-.1l1 0l1 0l1 0l1 .1l1 0l1 .1l1 .1l1 .2l1 .1l1 .2l1 .2l1 .3l1 .4l1 .5l1 .5l1 .6l1 .4l1 .3l1 .1l1 0l1 0l1 .1l1 .1l1 .2l1 .4l1 .5l1 .6l1 .7l1 .6l1 .7l1 .5l1 .4l1 .4l1 .3l1 .2l1 .2l1 .2l1 .3l1 .2l1 .3l1 .2l1 .2l1 .1l1 .2l1 .1l1 .2l1 .3l1 .3l1 .4l1 .5l1 .4l1 .4l1 .3l1 .1l1 0l1-.2l1-.2l1-.2l1-.2l1-.1l1 0l1 .2l1 .2l1 .2l1 .1l1 0l1-.1l1-.3l1-.3l1-.5l1-.3l1-.3l1-.1l1 .1l1 .3l1 .4l1 .4l1 .5l1 .3l1 .2l1 .1l1 0l1 0l1 0l1-.1l1 .1l1 0l1 .1l1 .1l1 0l1 0l1-.1l1-.1l1-.1l1 .1l1 .1l1 .3l1 .4l1 .4l1 .5l1 .3l1 .1l1 0l1-.2l1-.4l1-.5l1-.4l1-.4l1-.1l1 0l1 .2l1 .3l1 .3l1 .2l1 .1l1 0l1-.2l1-.3l1-.3l1-.2l1-.1l1 .1l1 .3l1 .4l1 .5l1 .4l1 .5l1 .3l1 .2l1 .1l1 0l1-.1l1 0l1 0l1 0l1 .1l1 0l1 0l1-.1l1-.1l1-.2l1-.2l1-.1l1 0l1 .2l1 .3l1 .5l1 .5l1 .4l1 .3l1 .1l1 0l1-.3l1-.5l1-.5l1-.4l1-.3l1-.1l1 0l1 .3l1 .4l1 .4l1 .4l1 .2l1 .1l1 0l1-.1l1-.1l1-.1l1 0l1 .2l1 .3l1 .4l1 .4l1 .4l1 .3l1 .1l1 .1l1-.1l1-.1l1-.1l1 0l1-.1l1 0l1 0l1 0l1-.1l1-.1l1-.3l1-.3l1-.2l1-.2l1 0l1 .2l1 .4l1 .5l1 .5l1 .5l1 .3l1 .2l1-.1l1-.3l1-.5l1-.5l1-.4l1-.2l1-.1l1 .2l1 .3l1 .5l1 .5l1 .4l1 .3l1 .2l1 .1l1-.1l1 0l1 0l1 0l1 .2l1 .3l1 .2l1 .3l1 .2l1 .1l1 0l1-.1l1-.2l1-.1l1-.1l1 0l1 0l1 .1l1 .1l1 .1l1 0l1-.2l1-.1l1-.2l1-.2l1 0l1 .2l1 .3l1 .6l1 .6l1 .8l1 .6l1 .5l1 .2l1 0l1-.2l1-.3l1-.3l1-.3l1-.1l1 .1l1 .4l1 .4l1 .6l1 .6l1 .6l.5 .2" stroke="#777" stroke-width="0.95" fill="none"/>
<path d="M48 182.3l1-.3l1-.3l1-.2l1-.3l1-.3l1-.2l1-.2l1-.2l1-.3l1-.2l1-.3l1-.4l1-.3l1-.3l1-.3l1-.2l1-.1l1-.1l1-.1l1 0l1-.1l1-.1l1-.2l1-.2l1-.3l1-.3l1-.4l1-.3l1-.3l1-.3l1-.3l1-.3l1-.2l1-.3l1-.3l1-.4l1-.3l1-.3l1-.4l1-.3l1-.2l1-.3l1-.1l1-.2l1-.1l1-.2l1-.1l1-.2l1-.2l1-.2l1-.1l1-.1l1 0l1 0l1 0l1 0l1 .1l1 0l1 0l1 0l1-.1l1-.2l1-.1l1-.1l1-.1l1-.1l1 0l1 .1l1 .1l1 .2l1 .2l1 .2l1 .1l1 .2l1 .1l1 .1l1 .1l1 .2l1 .2l1 .2l1 .2l1 .2l1 .1l1 .1l1 .1l1-.1l1 0l1-.1l1 0l1 0l1 .1l1 .1l1 .2l1 .2l1 .2l1 .2l1 .1l1 0l1 0l1-.1l1-.2l1-.1l1-.2l1-.1l1-.1l1-.1l1-.1l1-.1l1-.1l1-.2l1-.2l1-.4l1-.5l1-.5l1-.6l1-.6l1-.6l1-.6l1-.7l1-.8l1-1l1-1.2l1-1.4l1-1.6l1-1.7l1-1.8l1-1.9l1-2.1l1-2.2l1-2.5l1-2.6l1-2.9l1-3.1l1-3.6l1-4.1l1-4.4l1-4.4l1-4.3l1-4.5l1-4.5l1-4.3l1-4l1-3.4l1-3.3l1-3l1-2.8l1-2.3l1-2.1l1-1.8l1-1l1-.8l1-.3l1 .4l1 .9l1 1.2l1 1.7l1 2.1l1 2.2l1 2.5l1 2.8l1 2.9l1 3.2l1 3.5l1 4l1 4.6l1 4.9l1 4.9l1 4.7l1 4.6l1 4.6l1 4.6l1 4.6l1 4.7l1 4.7l1 4.6l1 5l1 4.5l1 3.4l1 2.7l1 2.4l1 1.8l1 1.4l1 1.2l1 .9l1 .6l1 .3l1 .3l1 .2l1 .1l1 0l1 .1l1 0l1 .1l1 0l1-.1l1-.1l1-.2l1-.2l1-.3l1-.2l1-.1l1 0l1 .1l1 .2l1 .3l1 .4l1 .3l1 .4l1 .4l1 .3l1 .4l1 .3l1 .3l1 .2l1 .3l1 .2l1 .3l1 .4l1 .4l1 .5l1 .4l1 .5l1 .3l1 .4l1 .3l1 .3l1 .3l1 .4l1 .4l1 .4l1 .5l1 .4l1 .4l1 .2l1 .2l1 .2l1 0l1 .1l1 .1l1 .2l1 .2l1 .3l1 .4l1 .3l1 .4l1 .2l1 .1l1 0l1-.1l1-.1l1-.1l1-.1l1-.1l1 .1l1 .3l1 .2l1 .3l1 .3l1 .2l1 .1l1 0l1-.1l1-.2l1-.2l1-.1l1 0l1 0l1 0l1 .1l1 0l1-.1l1-.1l1-.1l1-.3l1-.1l1-.1l1 0l1 .2l1 .4l1 .4l1 .6l1 .5l1 .4l1 .2l1 .1l1-.1l1-.3l1-.3l1-.3l1-.2l1-.1l1 0l1 .1l1 .1l1 .2l1 0l1 .1l1-.1l1-.1l1-.1l1-.1l1 0l1 .2l1 .2l1 .3l1 .4l1 .4l1 .2l1 .1l1 0l1-.1l1-.2l1-.2l1-.2l1 0l1 0l1 .2l1 .2l1 .2l1 .2l1 0l1 0l1-.2l1-.2l1-.3l1-.2l1-.1l1 .1l1 .2l1 .4l1 .4l1 .5l1 .3l1 .3l1 .1l1 0l1-.1l1-.2l1-.1l1-.1l1 0l1 .1l1 .2l1 .2l1 .1l1 .1l1 0l1-.1l1-.2l1-.1l1-.1l1 .1l1 .2l1 .3l1 .4l1 .4l1 .3l1 .2l1 .1l1-.1l1-.3l1-.3l1-.4l1-.2l1-.2l1 .1l1 .2l1 .3l1 .3l1 .4l1 .3l1 .2l1 .1l1 0l1-.1l1-.1l1 0l1 .1l1 .1l1 .2l1 .1l1 .2l1 0l1-.1l1-.2l1-.3l1-.3l1-.2l1-.2l1 .1l1 .2l1 .3l1 .4l1 .5l1 .4l1 .3l1 .1l1 0l1-.1l1-.2l1-.1l1-.1l1 0l1 .2l1 .2l1 .2l1 .3l1 .1l1 0l1-.1l1-.3l1-.3l1-.2l1-.2l1-.1l1 .1l1 .2l1 .3l1 .4l1 .3l1 .3l1 .1l1 .1l1 0l1 0l1 .1l1 .1l1 .3l1 .3l1 .3l1 .4l1 .2l1 .1l1 0l1-.3l1-.3l1-.3l1-.3l1-.2l1-.1l1 .2l1 .4l1 .5l1 .5l1 .5l1 .5l1 .3l1 .2l1 .1l1 0l1 .1l1 .1l1 .1l1 .3l1 .2l1 .3l1 .3l.5 .1" stroke="#444" stroke-width="0.95" fill="none"/>
<path d="M48 182.3l1-.2l1-.3l1-.2l1-.3l1-.2l1-.2l1-.3l1-.2l1-.1l1-.2l1-.2l1-.1l1-.2l1-.1l1-.1l1-.1l1-.2l1-.1l1-.2l1-.2l1-.2l1-.2l1-.3l1-.2l1-.3l1-.3l1-.3l1-.3l1-.3l1-.3l1-.2l1-.3l1-.2l1-.2l1-.2l1-.1l1-.1l1-.2l1-.1l1-.1l1-.2l1-.2l1-.3l1-.2l1-.3l1-.3l1-.2l1-.3l1-.3l1-.2l1-.2l1-.1l1-.1l1-.1l1-.1l1 0l1 0l1 0l1 0l1 .1l1 0l1 .1l1 .1l1 .1l1 .1l1 .1l1 0l1 .1l1 0l1 .1l1 0l1 .1l1 0l1 .1l1 .1l1 0l1 .1l1 .1l1 .1l1 .1l1 .2l1 .1l1 .2l1 .1l1 .2l1 .1l1 .1l1 .1l1 .1l1 .1l1 .1l1 .1l1 .1l1 0l1 0l1 .1l1 0l1 0l1 0l1-.1l1 0l1-.1l1 0l1-.1l1-.1l1-.1l1-.1l1-.1l1-.1l1-.2l1-.3l1-.3l1-.5l1-.5l1-.6l1-.7l1-.7l1-.8l1-.8l1-.9l1-1l1-1.3l1-1.4l1-1.5l1-1.6l1-1.7l1-1.8l1-2l1-2.2l1-2.5l1-2.6l1-2.9l1-3.1l1-3.7l1-4.1l1-4.2l1-4.2l1-4.3l1-4.5l1-4.4l1-4.3l1-3.9l1-3.4l1-3.4l1-3.1l1-2.7l1-2.3l1-2.1l1-1.7l1-.9l1-.7l1-.1l1 .5l1 .9l1 1.2l1 1.7l1 2l1 2.1l1 2.5l1 2.6l1 3l1 3.1l1 3.4l1 4l1 4.4l1 4.7l1 4.5l1 4.4l1 4.3l1 4.4l1 4.4l1 4.5l1 4.5l1 4.6l1 4.8l1 4.8l1 4.2l1 3.1l1 2.5l1 2.1l1 1.7l1 1.3l1 1l1 .8l1 .5l1 .4l1 .2l1 .2l1 .2l1 0l1 0l1 .1l1-.1l1 0l1-.1l1-.1l1-.1l1-.2l1 0l1-.1l1 0l1 .1l1 .1l1 .1l1 .2l1 .1l1 .2l1 .1l1 .2l1 .2l1 .3l1 .4l1 .3l1 .4l1 .3l1 .4l1 .4l1 .4l1 .5l1 .5l1 .6l1 .6l1 .7l1 .6l1 .6l1 .6l1 .5l1 .5l1 .3l1 .3l1 .3l1 .1l1 .1l1 0l1 0l1 0l1 0l1 0l1 .1l1 .1l1 .1l1 .3l1 .3l1 .3l1 .4l1 .4l1 .5l1 .4l1 .4l1 .4l1 .3l1 .3l1 .2l1 .1l1 0l1 0l1-.2l1-.1l1-.3l1-.3l1-.2l1-.3l1-.3l1-.3l1-.2l1-.1l1-.1l1 0l1 .1l1 .2l1 .2l1 .2l1 .3l1 .3l1 .3l1 .3l1 .2l1 .3l1 .1l1 .2l1 0l1 .1l1-.1l1 0l1-.1l1-.1l1-.1l1-.1l1-.1l1 0l1 0l1 0l1 0l1 0l1 .1l1 .1l1 .1l1 .1l1 .1l1 .1l1 0l1 .1l1 0l1 0l1 .1l1 0l1 0l1 0l1 0l1 .1l1 0l1 .1l1 .1l1 .2l1 .1l1 .1l1 .2l1 .1l1 .1l1 .1l1 .1l1 0l1 .1l1-.1l1 0l1-.1l1-.1l1-.1l1-.1l1-.1l1 0l1-.1l1 .1l1 0l1 .1l1 .1l1 .2l1 .2l1 .3l1 .2l1 .3l1 .2l1 .2l1 .2l1 .2l1 .1l1 .1l1 0l1 0l1 0l1-.1l1-.1l1-.1l1-.1l1-.1l1 0l1-.1l1 0l1 .1l1 0l1 .1l1 .2l1 .1l1 .2l1 .2l1 .1l1 .2l1 .1l1 .1l1 .1l1 0l1 0l1 .1l1-.1l1 0l1 0l1 0l1 0l1 0l1 .1l1 0l1 .1l1 .1l1 .2l1 .1l1 .2l1 .1l1 .1l1 .1l1 .1l1 .1l1 0l1-.1l1 0l1-.1l1-.1l1-.1l1-.1l1-.1l1 0l1 0l1 0l1 .1l1 .1l1 .2l1 .2l1 .2l1 .3l1 .3l1 .2l1 .3l1 .2l1 .2l1 .1l1 0l1 .1l1-.1l1-.1l1-.1l1-.2l1-.2l1-.1l1-.2l1-.1l1 0l1 0l1 0l1 .2l1 .2l1 .2l1 .4l1 .3l1 .4l1 .4l1 .3l1 .4l1 .3l1 .2l1 .2l1 .1l1 .1l1 0l1 0l1-.1l1-.1l1 0l1-.1l1 0l1 0l1 .1l1 .1l1 .2l1 .2l1 .3l1 .3l1 .4l1 .4l.5 .2" stroke="#333" stroke-width="0.95" fill="none"/>
<path d="M48 182.3l1-.2l1-.2l1-.2l1-.2l1-.2l1-.3l1-.2l1-.2l1-.2l1-.2l1-.2l1-.2l1-.1l1-.2l1-.1l1-.1l1-.1l1-.1l1-.1l1-.1l1-.2l1-.2l1-.2l1-.2l1-.2l1-.3l1-.3l1-.3l1-.3l1-.3l1-.3l1-.3l1-.2l1-.3l1-.1l1-.2l1-.1l1-.1l1-.2l1-.1l1-.2l1-.1l1-.3l1-.2l1-.2l1-.3l1-.2l1-.2l1-.2l1-.2l1-.2l1-.1l1 0l1-.1l1-.1l1 0l1 0l1-.1l1 0l1 0l1 0l1 0l1-.1l1 0l1 0l1 0l1 0l1 0l1 .1l1 0l1 .2l1 .1l1 .2l1 .2l1 .2l1 .2l1 .2l1 .2l1 .2l1 .2l1 .2l1 .1l1 .1l1 .1l1 0l1 .1l1-.1l1 0l1 0l1 0l1 0l1 0l1 0l1 .1l1 0l1 .1l1 .2l1 .1l1 .1l1 0l1 .1l1 0l1-.1l1 0l1-.1l1-.2l1-.2l1-.2l1-.2l1-.2l1-.2l1-.3l1-.4l1-.5l1-.5l1-.5l1-.6l1-.6l1-.7l1-.7l1-.9l1-1.1l1-1.3l1-1.4l1-1.5l1-1.7l1-1.7l1-2l1-2.1l1-2.4l1-2.6l1-2.7l1-2.9l1-3.4l1-3.8l1-4.2l1-4.2l1-4l1-4.2l1-4.3l1-4.2l1-3.8l1-3.5l1-3.2l1-3l1-2.7l1-2.4l1-2l1-1.8l1-1.1l1-.7l1-.4l1 .2l1 .8l1 1l1 1.4l1 1.9l1 2.1l1 2.3l1 2.5l1 2.8l1 3l1 3.2l1 3.6l1 4.2l1 4.5l1 4.6l1 4.5l1 4.3l1 4.3l1 4.3l1 4.4l1 4.5l1 4.6l1 4.6l1 4.9l1 4.7l1 3.8l1 2.9l1 2.4l1 2l1 1.4l1 1.2l1 .9l1 .6l1 .3l1 .3l1 .1l1 .1l1-.1l1 0l1-.1l1-.2l1-.1l1-.2l1-.1l1-.2l1-.1l1-.1l1 .1l1 0l1 .2l1 .2l1 .2l1 .3l1 .2l1 .2l1 .3l1 .2l1 .3l1 .3l1 .4l1 .3l1 .3l1 .3l1 .2l1 .3l1 .3l1 .3l1 .4l1 .5l1 .4l1 .5l1 .4l1 .5l1 .4l1 .4l1 .3l1 .4l1 .2l1 .2l1 .2l1 .2l1 .1l1 .2l1 .1l1 .2l1 .1l1 .2l1 .2l1 .2l1 .2l1 .2l1 .2l1 .2l1 .1l1 .1l1 .2l1 .1l1 .1l1 .1l1 .1l1 .1l1 .1l1 .2l1 .1l1 .2l1 .2l1 .2l1 .2l1 .1l1 .1l1 0l1-.1l1-.1l1-.1l1-.2l1-.3l1-.3l1-.3l1-.2l1-.3l1-.2l1-.1l1 0l1 .1l1 .1l1 .2l1 .3l1 .3l1 .4l1 .4l1 .3l1 .4l1 .2l1 .3l1 .1l1 .1l1-.1l1 0l1-.1l1-.2l1-.1l1-.2l1-.1l1-.1l1 0l1 0l1 0l1 .1l1 .1l1 .2l1 .1l1 .1l1 .1l1 .1l1 .1l1 0l1 0l1 0l1-.1l1-.1l1 0l1-.1l1 0l1 0l1 0l1 0l1 .1l1 .2l1 .1l1 .2l1 .2l1 .1l1 .2l1 .1l1 .1l1 .2l1 0l1 .1l1 .1l1 0l1 .1l1 0l1 .1l1 .1l1 .1l1 .1l1 0l1 .1l1 .1l1 0l1 0l1 0l1 0l1-.1l1-.2l1-.1l1-.1l1-.2l1-.1l1 0l1 0l1 0l1 .2l1 .2l1 .3l1 .3l1 .4l1 .4l1 .4l1 .4l1 .4l1 .3l1 .2l1 .1l1 0l1 0l1-.2l1-.2l1-.3l1-.4l1-.3l1-.3l1-.3l1-.2l1-.1l1-.1l1 .1l1 .1l1 .2l1 .2l1 .3l1 .4l1 .3l1 .3l1 .2l1 .3l1 .1l1 .1l1 .1l1 0l1 0l1-.1l1 0l1-.1l1 0l1 0l1 0l1 0l1 .1l1 .1l1 .1l1 .1l1 .1l1 .2l1 0l1 .1l1 .1l1 0l1 0l1 0l1-.1l1 0l1 0l1 0l1 0l1 0l1 .1l1 .1l1 0l1 .2l1 .1l1 .1l1 .1l1 .1l1 .1l1 .1l1 0l1 .1l1 .1l1 .1l1 .1l1 .2l1 .2l1 .2l1 .3l1 .3l1 .3l1 .3l1 .4l1 .2l1 .3l1 .2l1 .1l1 .1l1 0l1-.1l1-.2l1-.2l1-.2l1-.2l1-.2l1-.1l1-.1l1 .1l1 .1l.5 .1" stroke="#666" stroke-width="0.95" fill="none"/>
<path d="M48 182.3l1-.3l1-.2l1-.3l1-.2l1-.2l1-.2l1-.3l1-.2l1-.3l1-.3l1-.3l1-.3l1-.2l1-.2l1-.1l1-.1l1-.1l1 0l1-.1l1-.1l1-.1l1-.2l1-.2l1-.3l1-.3l1-.3l1-.3l1-.3l1-.2l1-.2l1-.2l1-.2l1-.2l1-.2l1-.3l1-.3l1-.3l1-.3l1-.3l1-.3l1-.3l1-.2l1-.3l1-.2l1-.1l1-.2l1-.2l1-.1l1-.2l1-.2l1-.1l1-.2l1-.1l1-.1l1 0l1 0l1 0l1 .1l1 .1l1 0l1 .1l1 0l1-.1l1-.1l1-.1l1-.1l1 0l1-.1l1 .1l1 .1l1 .1l1 .2l1 .3l1 .2l1 .2l1 .2l1 .2l1 .1l1 .1l1 .1l1 .1l1 .1l1 .2l1 .1l1 .2l1 .1l1 .1l1 .1l1 0l1 0l1-.1l1-.1l1-.1l1 0l1-.1l1 0l1 .1l1 .1l1 .1l1 .2l1 .1l1 .1l1 0l1 0l1-.1l1-.1l1-.2l1-.1l1-.2l1-.2l1-.2l1-.2l1-.3l1-.5l1-.5l1-.5l1-.7l1-.7l1-.8l1-.8l1-1l1-1.2l1-1.2l1-1.4l1-1.4l1-1.5l1-1.6l1-1.7l1-2l1-2.3l1-2.4l1-2.6l1-2.9l1-3.3l1-3.8l1-3.9l1-4l1-3.9l1-4l1-4.1l1-3.9l1-3.6l1-3.1l1-3.1l1-2.8l1-2.6l1-2.2l1-1.9l1-1.6l1-.9l1-.7l1-.2l1 .4l1 .9l1 1.1l1 1.5l1 1.9l1 2l1 2.2l1 2.4l1 2.6l1 2.8l1 3.1l1 3.5l1 4.1l1 4.3l1 4.4l1 4.2l1 4.1l1 4.2l1 4.1l1 4.2l1 4.2l1 4.3l1 4.3l1 4.5l1 4.2l1 3.2l1 2.5l1 2.1l1 1.8l1 1.3l1 1.2l1 .8l1 .6l1 .3l1 .2l1 .1l1 .1l1 0l1 0l1 0l1 0l1-.1l1 0l1 0l1-.1l1-.1l1-.1l1-.1l1-.1l1-.1l1 0l1 .1l1 .1l1 .1l1 .3l1 .2l1 .4l1 .4l1 .5l1 .4l1 .4l1 .4l1 .2l1 .3l1 .2l1 .3l1 .3l1 .4l1 .5l1 .6l1 .6l1 .6l1 .5l1 .4l1 .4l1 .3l1 .2l1 .1l1 .2l1 .1l1 .2l1 .3l1 .4l1 .4l1 .4l1 .4l1 .3l1 .3l1 .2l1 .2l1 .1l1 .1l1 .1l1 .1l1 .1l1 .2l1 .2l1 .2l1 .2l1 0l1 0l1-.1l1-.2l1-.3l1-.3l1-.2l1-.2l1-.1l1 .1l1 .2l1 .3l1 .3l1 .4l1 .3l1 .3l1 .1l1 .1l1-.1l1 0l1-.1l1 0l1 0l1 .1l1 .1l1 .2l1 .2l1 .2l1 0l1-.1l1-.1l1-.3l1-.3l1-.3l1-.2l1-.1l1 0l1 .1l1 .3l1 .3l1 .3l1 .3l1 .1l1 .1l1 0l1-.1l1-.1l1-.2l1-.1l1 .1l1 .1l1 .2l1 .3l1 .4l1 .3l1 .2l1 .2l1 0l1-.1l1-.2l1-.2l1-.2l1-.1l1 0l1 .1l1 .1l1 .2l1 .3l1 .2l1 .1l1 0l1-.1l1-.1l1-.2l1-.2l1-.2l1 0l1 .1l1 .2l1 .3l1 .3l1 .4l1 .3l1 .1l1 .1l1-.1l1-.2l1-.2l1-.2l1-.2l1-.1l1 .1l1 .1l1 .3l1 .3l1 .3l1 .3l1 .2l1 .1l1 .1l1-.1l1 0l1 0l1 .1l1 .1l1 .3l1 .3l1 .3l1 .4l1 .2l1 .1l1-.1l1-.2l1-.3l1-.4l1-.5l1-.3l1-.3l1-.2l1 0l1 .2l1 .2l1 .3l1 .3l1 .2l1 .2l1 .1l1 0l1 0l1 .1l1 .1l1 .2l1 .2l1 .4l1 .3l1 .4l1 .3l1 .2l1 .1l1-.1l1-.2l1-.3l1-.4l1-.3l1-.3l1-.1l1 .1l1 .1l1 .3l1 .3l1 .3l1 .2l1 .1l1 0l1 0l1-.2l1-.1l1-.1l1-.1l1 .1l1 .2l1 .2l1 .3l1 .2l1 .3l1 .1l1 0l1-.1l1-.2l1-.2l1-.2l1-.1l1 0l1 .2l1 .3l1 .4l1 .5l1 .4l1 .4l1 .2l1 .2l1 0l1-.1l1-.1l1-.1l1 0l1 .1l1 .2l1 .2l1 .4l1 .3l1 .3l1 .3l1 .1l1 0l1-.1l1-.2l1-.2l1-.1l1-.1l1 .1l1 .2l1 .3l1 .4l1 .4l1 .4l.5 .1" stroke="#555" stroke-width="0.95" fill="none"/>
<path d="M48 182.3l1-.2l1-.2l1-.2l1-.1l1-.2l1-.2l1-.1l1-.2l1-.3l1-.2l1-.3l1-.2l1-.2l1-.1l1-.1l1-.1l1-.1l1-.1l1 0l1-.1l1-.2l1-.2l1-.2l1-.2l1-.2l1-.3l1-.2l1-.3l1-.2l1-.2l1-.2l1-.2l1-.2l1-.2l1-.2l1-.3l1-.2l1-.2l1-.3l1-.2l1-.2l1-.2l1-.1l1-.2l1-.2l1-.1l1-.2l1-.2l1-.2l1-.2l1-.2l1-.1l1-.2l1-.1l1 0l1-.1l1 0l1 .1l1 0l1 .1l1 .1l1 0l1 0l1 0l1 0l1-.1l1 0l1 0l1 0l1 .1l1 .1l1 .1l1 .2l1 .2l1 .1l1 .1l1 .1l1 .1l1 .1l1 .1l1 0l1 .1l1 .2l1 .2l1 .2l1 .2l1 .2l1 .2l1 .1l1 .1l1 .1l1 0l1 0l1-.1l1 0l1 0l1-.1l1 .1l1 0l1 0l1 0l1 .1l1-.1l1 0l1-.1l1-.2l1-.1l1-.2l1-.2l1-.2l1-.3l1-.3l1-.3l1-.4l1-.4l1-.6l1-.5l1-.7l1-.7l1-.8l1-.9l1-1.1l1-1.3l1-1.4l1-1.4l1-1.5l1-1.5l1-1.8l1-1.9l1-2.2l1-2.3l1-2.5l1-2.8l1-3.3l1-3.7l1-3.8l1-3.8l1-3.9l1-4l1-4l1-3.9l1-3.4l1-3.1l1-2.9l1-2.7l1-2.5l1-2.1l1-1.9l1-1.5l1-.9l1-.6l1-.3l1 .4l1 .8l1 1l1 1.5l1 1.8l1 1.9l1 2.1l1 2.4l1 2.5l1 2.7l1 2.9l1 3.4l1 3.9l1 4.1l1 4.1l1 3.9l1 4l1 4l1 4.1l1 4.1l1 4.2l1 4.2l1 4.3l1 4.4l1 3.9l1 2.8l1 2.2l1 2l1 1.5l1 1.1l1 1l1 .8l1 .5l1 .3l1 .2l1 .2l1 0l1 0l1 0l1-.1l1-.1l1-.1l1-.1l1-.1l1-.1l1 0l1 .1l1 0l1 .2l1 .1l1 .2l1 .1l1 .1l1 .1l1 .1l1 .1l1 .2l1 .3l1 .3l1 .5l1 .4l1 .5l1 .4l1 .3l1 .4l1 .2l1 .3l1 .3l1 .4l1 .3l1 .4l1 .5l1 .5l1 .6l1 .5l1 .6l1 .5l1 .4l1 .3l1 .3l1 .1l1 .2l1 .2l1 .1l1 .2l1 .3l1 .3l1 .4l1 .4l1 .3l1 .4l1 .3l1 .2l1 .1l1 0l1-.1l1-.1l1-.1l1-.1l1-.1l1 0l1 .1l1 .1l1 .2l1 .1l1 .2l1 0l1 .1l1-.1l1 0l1-.1l1 0l1 0l1 .1l1 .1l1 .2l1 .2l1 .2l1 .1l1 .1l1-.1l1-.1l1-.2l1-.2l1-.3l1-.2l1 0l1 0l1 .2l1 .2l1 .4l1 .4l1 .3l1 .3l1 .2l1 0l1 0l1-.1l1-.1l1-.2l1-.1l1-.1l1 .1l1 0l1 .2l1 .1l1 .2l1 .1l1 0l1-.1l1-.1l1-.1l1-.1l1-.1l1 0l1 .1l1 .2l1 .2l1 .3l1 .3l1 .2l1 .2l1 0l1-.1l1-.1l1-.3l1-.2l1-.2l1-.1l1 .1l1 .1l1 .2l1 .4l1 .3l1 .4l1 .3l1 .2l1 .1l1 0l1-.1l1-.1l1-.2l1-.1l1-.1l1 .1l1 0l1 .1l1 .2l1 .1l1 0l1 0l1-.1l1-.1l1-.1l1-.1l1-.1l1 .1l1 .1l1 .3l1 .4l1 .4l1 .4l1 .4l1 .3l1 .2l1 0l1 0l1-.2l1-.2l1-.2l1-.2l1-.1l1 0l1 .1l1 .2l1 .2l1 .2l1 .2l1 .1l1 0l1-.1l1-.1l1-.1l1-.2l1-.1l1 0l1 .1l1 .1l1 .2l1 .2l1 .2l1 .2l1 0l1 0l1-.1l1-.1l1-.2l1 0l1 0l1 .1l1 .3l1 .3l1 .5l1 .4l1 .4l1 .3l1 .2l1 0l1-.1l1-.2l1-.3l1-.3l1-.3l1-.1l1-.1l1 0l1 .1l1 .1l1 .2l1 .1l1 .1l1 0l1 0l1 0l1-.1l1 0l1 .1l1 .1l1 .2l1 .4l1 .3l1 .4l1 .3l1 .3l1 .1l1 0l1 0l1-.2l1-.2l1-.1l1-.1l1 .1l1 .1l1 .3l1 .4l1 .4l1 .4l1 .4l1 .2l1 .2l1 0l1-.1l1-.1l1-.1l1-.1l1 0l1 .1l1 .2l1 .2l1 .3l1 .4l1 .2l1 .3l1 .2l1 .1l.5 0" stroke="#444" stroke-width="0.95" fill="none"/>
<path d="M48 182.3l1-.2l1-.2l1-.2l1-.2l1-.2l1-.1l1-.2l1-.1l1-.1l1-.1l1-.2l1-.1l1-.1l1-.1l1-.1l1-.1l1-.2l1-.1l1-.1l1-.2l1-.2l1-.2l1-.2l1-.3l1-.2l1-.3l1-.2l1-.2l1-.2l1-.1l1-.2l1-.2l1-.2l1-.3l1-.2l1-.2l1-.3l1-.2l1-.2l1-.3l1-.1l1-.2l1-.2l1-.2l1-.2l1-.1l1-.2l1-.1l1-.2l1-.1l1 0l1-.1l1 0l1 0l1 0l1 0l1 0l1 0l1-.1l1-.1l1-.1l1-.1l1-.1l1-.1l1-.1l1 0l1 0l1 .1l1 .1l1 .2l1 .1l1 .1l1 .2l1 .1l1 .1l1 .1l1 .1l1 .1l1 .1l1 .1l1 .2l1 .2l1 .1l1 .2l1 .1l1 .2l1 0l1 .1l1 .1l1 .1l1 .1l1 .1l1 .1l1 .1l1 .2l1 .1l1 0l1 .1l1-.1l1 0l1-.1l1-.2l1-.1l1-.1l1-.2l1-.1l1 0l1-.1l1-.1l1-.1l1-.2l1-.3l1-.3l1-.5l1-.5l1-.6l1-.6l1-.7l1-.6l1-.7l1-.8l1-1l1-1.1l1-1.2l1-1.3l1-1.5l1-1.5l1-1.6l1-1.9l1-2l1-2.2l1-2.4l1-2.5l1-3l1-3.4l1-3.6l1-3.7l1-3.7l1-3.7l1-3.9l1-3.9l1-3.5l1-3.1l1-2.9l1-2.7l1-2.4l1-2.1l1-1.8l1-1.6l1-1l1-.6l1-.4l1 .2l1 .6l1 .9l1 1.2l1 1.6l1 1.8l1 2l1 2.2l1 2.5l1 2.6l1 2.9l1 3.2l1 3.7l1 4l1 4.1l1 4l1 3.8l1 3.9l1 4l1 4l1 4.1l1 4.1l1 4.1l1 4.4l1 4.1l1 3.2l1 2.4l1 2l1 1.6l1 1.2l1 1l1 .8l1 .5l1 .4l1 .2l1 .2l1 .2l1 0l1 0l1 0l1-.1l1-.1l1-.2l1-.2l1-.1l1-.2l1-.1l1 0l1 0l1 0l1 .1l1 .1l1 .1l1 .2l1 .2l1 .2l1 .3l1 .5l1 .5l1 .6l1 .5l1 .5l1 .4l1 .3l1 .2l1 .3l1 .2l1 .3l1 .3l1 .3l1 .4l1 .5l1 .4l1 .5l1 .5l1 .4l1 .3l1 .3l1 .3l1 .2l1 .2l1 .2l1 .2l1 .2l1 .2l1 .2l1 .2l1 .1l1 .1l1 .1l1 .1l1 0l1 0l1 .1l1 .2l1 .2l1 .3l1 .3l1 .3l1 .3l1 .3l1 .2l1 .1l1 0l1 0l1-.1l1-.1l1-.1l1 0l1-.1l1 0l1 .1l1 0l1 0l1 .1l1 0l1-.1l1 0l1 0l1 0l1 0l1 .1l1 .2l1 .1l1 .2l1 .1l1 0l1 0l1-.2l1-.2l1-.2l1-.2l1-.1l1-.1l1 0l1 .2l1 .2l1 .3l1 .2l1 .3l1 .2l1 .2l1 .1l1 0l1 0l1-.1l1 0l1 .1l1 0l1 .2l1 .1l1 .1l1 .2l1 .1l1 0l1 0l1 0l1 0l1 .1l1 .1l1 .1l1 .1l1 .2l1 .1l1 .1l1 0l1-.1l1-.2l1-.2l1-.4l1-.3l1-.2l1-.2l1 0l1 0l1 .2l1 .2l1 .3l1 .4l1 .2l1 .3l1 .2l1 .1l1 .1l1 .1l1 .1l1 .1l1 .2l1 .2l1 .1l1 .2l1 .1l1 0l1 0l1 0l1-.1l1 0l1 0l1 0l1 .2l1 .2l1 .2l1 .2l1 .2l1 .1l1 0l1-.1l1-.1l1-.3l1-.2l1-.3l1-.1l1-.1l1 0l1 .2l1 .1l1 .3l1 .2l1 .2l1 .1l1 .1l1 .1l1 0l1 0l1 .1l1 .1l1 .1l1 .1l1 .1l1 .1l1 .1l1 0l1 0l1-.1l1 0l1 0l1 0l1 .1l1 .2l1 .3l1 .4l1 .3l1 .3l1 .3l1 .1l1 0l1-.1l1-.2l1-.3l1-.3l1-.2l1-.2l1-.1l1 0l1 0l1 .1l1 .1l1 0l1 .1l1 0l1 0l1 .1l1 0l1 .2l1 .1l1 .3l1 .2l1 .3l1 .2l1 .1l1 .2l1 0l1 0l1 0l1 0l1 0l1 .2l1 .2l1 .3l1 .4l1 .4l1 .3l1 .3l1 .2l1 .1l1 0l1-.1l1-.2l1-.1l1-.2l1-.1l1 0l1 0l1 .2l1 .1l1 .2l1 .1l1 .2l1 .1l1 .2l1 .2l1 .2l1 .2l1 .4l1 .3l.5 .2" stroke="#333" stroke-width="0.95" fill="none"/>
<path d="M48 182.3l1-.3l1-.3l1-.2l1-.3l1-.2l1-.2l1-.3l1-.1l1-.2l1-.1l1-.1l1-.1l1 0l1-.1l1-.1l1 0l1-.1l1-.1l1 0l1-.1l1 0l1 0l1 0l1 0l1 0l1-.1l1 0l1-.1l1-.1l1-.2l1-.1l1-.1l1-.1l1-.1l1-.1l1 0l1 0l1 0l1 0l1 0l1 0l1-.1l1-.3l1-.3l1-.3l1-.3l1-.2l1-.2l1-.1l1-.1l1-.1l1 0l1 .1l1 0l1 0l1 0l1-.1l1 0l1 0l1 0l1 .1l1 0l1 .1l1 0l1 .1l1 0l1 .1l1 0l1 0l1 0l1 0l1 .1l1 0l1 .1l1 .1l1 .2l1 .1l1 .2l1 .1l1 .1l1 .2l1 0l1 .1l1 .1l1 0l1 .1l1 0l1 .1l1 .1l1 .1l1 .2l1 .1l1 .1l1 .1l1 0l1 .1l1 0l1 .1l1 0l1 .1l1 .1l1 .1l1 0l1 .1l1 0l1 0l1-.1l1-.1l1-.2l1-.2l1-.2l1-.2l1-.2l1-.2l1-.2l1-.3l1-.3l1-.4l1-.5l1-.6l1-.7l1-.7l1-.7l1-.8l1-1.1l1-1.2l1-1.3l1-1.4l1-1.6l1-1.6l1-1.9l1-2.1l1-2.3l1-2.6l1-2.7l1-3.1l1-3.7l1-4.2l1-4.1l1-4.1l1-4.2l1-4.3l1-3.9l1-3.5l1-3.2l1-3l1-2.7l1-2.4l1-2l1-1.6l1-.9l1-.6l1 0l1 .5l1 .9l1 1.4l1 1.8l1 2l1 2.3l1 2.5l1 2.8l1 3l1 3.4l1 4l1 4.4l1 4.4l1 4.3l1 4l1 4.1l1 4.2l1 4.2l1 4.4l1 4.3l1 4.6l1 4.3l1 3.1l1 2.3l1 1.9l1 1.5l1 1.2l1 1.1l1 .9l1 .6l1 .5l1 .4l1 .1l1 .1l1 0l1 0l1 0l1-.1l1 0l1-.1l1-.1l1-.1l1-.1l1-.1l1-.1l1 0l1 0l1 0l1 .1l1 .1l1 .1l1 .1l1 .2l1 .2l1 .3l1 .2l1 .4l1 .4l1 .3l1 .3l1 .3l1 .2l1 .1l1 .1l1 .2l1 .2l1 .3l1 .3l1 .4l1 .5l1 .4l1 .5l1 .5l1 .5l1 .4l1 .4l1 .3l1 .3l1 .3l1 .3l1 .3l1 .3l1 .3l1 .3l1 .3l1 .3l1 .2l1 .2l1 .1l1 .1l1 0l1 .1l1 0l1 .1l1 .1l1 0l1 .1l1 .1l1 0l1-.1l1 0l1-.1l1-.1l1-.2l1 0l1-.1l1 0l1 .1l1 .1l1 .2l1 .2l1 .1l1 .2l1 .1l1 .1l1 0l1 0l1 0l1 .1l1 .1l1 .1l1 .1l1 .2l1 .2l1 .1l1 .1l1 0l1 0l1-.1l1-.1l1-.1l1-.1l1 0l1 0l1 0l1 .1l1 .1l1 .1l1 .1l1 0l1 0l1 0l1-.1l1-.1l1 0l1 0l1 .1l1 .1l1 .2l1 .1l1 .2l1 .2l1 .1l1 0l1 0l1 0l1-.1l1-.1l1 0l1 0l1 .1l1 .1l1 .2l1 .1l1 .2l1 .1l1 0l1 0l1 0l1-.1l1 0l1 0l1 .1l1 .1l1 .2l1 .2l1 .2l1 .2l1 .2l1 .1l1 0l1 0l1 0l1-.1l1 0l1 0l1 0l1 .1l1 .1l1 .1l1 .1l1 0l1 0l1 0l1-.1l1-.1l1-.1l1-.1l1-.1l1 0l1 .1l1 .2l1 .2l1 .2l1 .2l1 .2l1 .2l1 .1l1 .1l1 0l1 .1l1 .1l1 .2l1 .2l1 .2l1 .3l1 .2l1 .2l1 .2l1 0l1 0l1-.1l1-.1l1-.2l1-.1l1-.1l1-.1l1 0l1 0l1 0l1 0l1-.1l1 0l1-.1l1-.1l1-.2l1-.1l1-.1l1 0l1 .1l1 .2l1 .2l1 .3l1 .3l1 .3l1 .2l1 .2l1 .2l1 .1l1 .1l1 .1l1 .1l1 .2l1 .2l1 .2l1 .2l1 .2l1 .1l1 .1l1 0l1 0l1-.2l1-.2l1-.1l1-.2l1-.1l1-.1l1 0l1 0l1 .1l1 .1l1 0l1 0l1 0l1 0l1 0l1-.1l1 .1l1 .1l1 .2l1 .3l1 .3l1 .3l1 .4l1 .3l1 .3l1 .2l1 .2l1 .1l1 .1l1 .1l1 .2l1 .1l1 .2l1 .3l1 .2l1 .3l1 .2l1 .1l1 .1l1 .1l1 0l1-.1l1 0l.5 0" stroke="#555" stroke-width="0.95" fill="none"/>
<path d="M48 182.3l1-.3l1-.2l1-.3l1-.2l1-.3l1-.2l1-.2l1-.1l1-.2l1-.1l1-.1l1 0l1 0l1 0l1-.1l1 0l1 0l1 .1l1 0l1 0l1 0l1-.1l1 0l1 0l1-.1l1-.1l1 0l1-.1l1-.1l1-.1l1-.1l1 0l1-.1l1 0l1 0l1 0l1 .1l1 .1l1 .1l1 .1l1 0l1 .1l1-.2l1-.2l1-.2l1-.3l1-.1l1-.2l1-.2l1-.1l1-.1l1 0l1 0l1-.1l1 0l1 0l1 0l1 0l1-.1l1 0l1 0l1 0l1 0l1 0l1-.1l1 0l1 0l1 0l1 0l1 0l1 .1l1 .1l1 .1l1 .1l1 .1l1 .2l1 .1l1 .2l1 .2l1 .2l1 .1l1 .2l1 .2l1 .1l1 .2l1 .1l1 .1l1 .1l1 0l1 .1l1 .1l1 0l1 0l1 .1l1 0l1 0l1 0l1 .1l1 0l1 0l1 .1l1 0l1 .1l1 0l1 0l1 0l1 0l1 0l1 0l1 0l1 0l1-.1l1-.1l1-.1l1-.1l1-.2l1-.2l1-.1l1-.2l1-.2l1-.3l1-.4l1-.4l1-.5l1-.6l1-.6l1-.6l1-.8l1-1l1-1.1l1-1.3l1-1.4l1-1.5l1-1.8l1-2l1-2.2l1-2.5l1-3l1-3.5l1-3.9l1-3.7l1-3.9l1-3.9l1-3.7l1-3.3l1-2.9l1-2.7l1-2.3l1-2l1-1.6l1-.8l1-.6l1 .1l1 .7l1 .9l1 1.5l1 1.8l1 2l1 2.3l1 2.7l1 2.8l1 3.5l1 4l1 4l1 3.9l1 3.8l1 3.8l1 3.8l1 3.9l1 3.9l1 4.2l1 3.9l1 2.6l1 2l1 1.6l1 1.1l1 1l1 .8l1 .6l1 .7l1 .6l1 .5l1 .3l1 .3l1 .1l1 0l1-.1l1-.1l1 0l1-.1l1-.1l1-.1l1-.1l1-.1l1-.2l1-.1l1-.1l1-.1l1-.1l1 0l1 .1l1 .1l1 .2l1 .2l1 .2l1 .2l1 .2l1 .2l1 .2l1 .3l1 .3l1 .4l1 .2l1 .3l1 .2l1 .1l1 .2l1 .3l1 .2l1 .3l1 .4l1 .4l1 .5l1 .4l1 .5l1 .5l1 .4l1 .5l1 .4l1 .3l1 .3l1 .3l1 .2l1 .2l1 .1l1 .1l1 .1l1 .1l1 .1l1 .2l1 .1l1 .1l1 .1l1 .1l1 .2l1 .1l1 .1l1 .1l1 .1l1 .1l1 .1l1 0l1 .1l1 .1l1 0l1 .1l1 .1l1 0l1 .1l1 .1l1 .1l1 .1l1 .1l1 0l1 .1l1 .1l1 0l1 .1l1 0l1 0l1 0l1 0l1 0l1-.1l1-.1l1 0l1-.1l1-.1l1-.1l1-.1l1 0l1 0l1 0l1 0l1 .1l1 .1l1 .2l1 .2l1 .2l1 .2l1 .2l1 .2l1 .2l1 .2l1 .1l1 .2l1 0l1 .1l1 0l1 0l1-.1l1-.1l1-.1l1-.2l1-.1l1-.1l1-.1l1-.1l1-.1l1 0l1 0l1 .1l1 0l1 .2l1 .1l1 .2l1 .2l1 .3l1 .2l1 .2l1 .2l1 .2l1 .1l1 .2l1 .1l1 0l1 .1l1 0l1 0l1-.1l1 0l1-.1l1 0l1-.1l1-.1l1 0l1-.1l1 0l1 0l1 0l1 0l1 0l1 .1l1 0l1 .1l1 .1l1 .1l1 .2l1 .1l1 .2l1 .2l1 .2l1 .2l1 .2l1 .2l1 .2l1 .2l1 .2l1 .1l1 .2l1 .1l1 0l1 .1l1 0l1 0l1-.1l1-.1l1-.1l1-.2l1-.1l1-.2l1-.1l1-.2l1-.1l1-.1l1 0l1 0l1 0l1 .1l1 .2l1 .2l1 .2l1 .2l1 .3l1 .3l1 .3l1 .2l1 .3l1 .2l1 .2l1 .1l1 .1l1 0l1 0l1-.1l1-.1l1-.1l1-.1l1-.1l1-.2l1-.1l1-.1l1-.1l1 0l1 0l1 0l1 .1l1 .1l1 .2l1 .1l1 .2l1 .2l1 .2l1 .2l1 .2l1 .2l1 .1l1 .2l1 .1l1 .1l1 .1l1 0l1 .1l1 0l1 0l1 0l1 0l1 0l1 0l1 0l1 0l1 0l1 .1l1 0l1 0l1 .1l1 .1l1 .1l1 .1l1 .1l1 .2l1 .1l1 .2l1 .2l1 .3l1 .3l1 .2l1 .3l1 .4l1 .3l1 .3l1 .3l1 .3l1 .2l1 .3l1 .2l1 .1l.5 .1" stroke="#666" stroke-width="0.95" fill="none"/>
<path d="M48 182.3l1-.6l1-.7l1-.6l1-.7l1-.6l1-.7l1-.6l1-.6l1-.6l1-.7l1-.8l1-.8l1-.9l1-.9l1-1.1l1-1.1l1-1.3l1-1.4l1-1.5l1-1.9l1-2.4l1-2.6l1-2.8l1-2.7l1-2.8l1-3l1-3l1-3.1l1-3.2l1-3.5l1-3.5l1-3.3l1-2.9l1-2.7l1-2.8l1-2.9l1-3.4l1-3.6l1-3.6l1-3.5l1-3.2l1-3.2l1-3.3l1-2.8l1-2.1l1-1.2l1-.8l1-.7l1-.9l1-1.3l1-1.6l1-1.5l1-1.1l1-.8l1-.4l1 .1l1 .1l1 1.2l1 2.1l1 2.5l1 3l1 3.2l1 3.4l1 3.6l1 3.8l1 3.9l1 4.1l1 4.2l1 4.2l1 3.9l1 3.5l1 3.3l1 3.1l1 3l1 2.9l1 2.9l1 2.9l1 2.7l1 2.6l1 2.2l1 1.9l1 1.7l1 1.5l1 1.4l1 1.1l1 .9l1 .7l1 .7l1 .6l1 .7l1 .5l1 .6l1 .5l1 .5l1 .3l1 .3l1 .3l1 .1l1 .1l1 0l1 0l1-.2l1-.1l1-.2l1-.2l1-.2l1-.2l1-.3l1-.3l1-.4l1-.5l1-.8l1-.7l1-.9l1-.9l1-1l1-1.1l1-1.1l1-1.3l1-1.6l1-1.8l1-2.1l1-2.2l1-2.3l1-2.5l1-2.8l1-3.1l1-3.4l1-3.7l1-4.1l1-4.4l1-4.8l1-5.7l1-6.1l1-6.3l1-6.2l1-6.2l1-6.3l1-6.2l1-5.9l1-5.1l1-4.7l1-4.5l1-4.1l1-3.6l1-3.1l1-2.7l1-1.8l1-1.1l1-.6l1 .2l1 1.1l1 1.7l1 2.1l1 2.9l1 3.2l1 3.5l1 3.8l1 4.2l1 4.5l1 4.9l1 5.3l1 6.1l1 6.9l1 7l1 6.8l1 6.5l1 6.3l1 6.3l1 6.4l1 6.5l1 6.6l1 6.6l1 7l1 6.9l1 5.8l1 3.9l1 3.4l1 2.7l1 2.1l1 1.7l1 1.5l1 1.1l1 .9l1 .6l1 .4l1 .3l1 .2l1 0l1 0l1 0l1-.1l1-.1l1-.2l1-.3l1-.2l1-.2l1-.1l1-.1l1 0l1 .1l1 .1l1 .2l1 .2l1 .2l1 .2l1 .2l1 .2l1 .3l1 .3l1 .4l1 .5l1 .5l1 .5l1 .5l1 .4l1 .4l1 .4l1 .4l1 .3l1 .4l1 .3l1 .3l1 .3l1 .4l1 .3l1 .4l1 .4l1 .5l1 .4l1 .4l1 .4l1 .3l1 .3l1 .2l1 .2l1 .2l1 .1l1 .1l1 .2l1 .2l1 .3l1 .3l1 .3l1 .4l1 .3l1 .3l1 .3l1 .2l1 .2l1 0l1 0l1-.1l1-.2l1-.1l1-.1l1 0l1 0l1 0l1 .1l1 .1l1 .1l1 .1l1 0l1 0l1-.1l1-.1l1-.1l1-.1l1-.1l1-.1l1 0l1 .1l1 .2l1 .2l1 .2l1 .3l1 .2l1 .2l1 .1l1 0l1-.1l1-.1l1-.1l1-.1l1-.1l1 0l1 0l1 .2l1 .1l1 .3l1 .2l1 .2l1 .1l1 .1l1 0l1 0l1-.1l1-.1l1-.1l1 0l1 0l1 .1l1 .2l1 .2l1 .2l1 .2l1 .2l1 .1l1 .1l1-.1l1-.1l1-.2l1-.2l1-.2l1-.2l1-.1l1-.1l1 .1l1 .1l1 .1l1 .2l1 .2l1 .2l1 .1l1 .1l1 .1l1 0l1 0l1 0l1 0l1 .1l1 .2l1 .3l1 .3l1 .3l1 .3l1 .3l1 .3l1 .1l1 .1l1-.1l1-.1l1-.2l1-.2l1-.3l1-.1l1-.2l1 0l1 0l1 .1l1 .1l1 .1l1 .1l1 .1l1 0l1-.1l1 0l1-.1l1 0l1 0l1 0l1 .2l1 .2l1 .3l1 .4l1 .4l1 .4l1 .3l1 .3l1 .2l1 0l1 0l1-.1l1-.1l1-.2l1-.1l1-.1l1-.1l1 0l1 .1l1 .1l1 .1l1 0l1 0l1 0l1-.1l1-.2l1-.2l1-.1l1-.2l1 0l1 0l1 .1l1 .2l1 .3l1 .3l1 .4l1 .3l1 .3l1 .2l1 .2l1 0l1 0l1-.1l1 0l1-.1l1 0l1 0l1 .1l1 .2l1 .2l1 .1l1 .2l1 .1l1 0l1 0l1-.1l1-.1l1-.2l1-.1l1-.2l1 0l1 .1l1 .1l1 .2l1 .3l1 .3l1 .3l1 .3l1 .2l1 .2l1 0l1 .1l1-.1l1 0l1-.1l1 .1l1 .1l1 .1l1 .3l1 .3l1 .3l1 .3l1 .3l1 .2l1 .2l1 .1l1 0l1 .1l1 0l1 0l1 .1l1 .2l1 .3l1 .3l1 .4l.5 .2" stroke="#4a4a4a" stroke-width="1.0" fill="none"/>
<path d="M48 182.3l1-.3l1-.3l1-.3l1-.3l1-.3l1-.3l1-.3l1-.4l1-.3l1-.3l1-.4l1-.3l1-.3l1-.4l1-.4l1-.3l1-.4l1-.4l1-.3l1-.4l1-.4l1-.4l1-.4l1-.4l1-.4l1-.4l1-.5l1-.4l1-.4l1-.5l1-.4l1-.5l1-.5l1-.5l1-.5l1-.5l1-.5l1-.5l1-.6l1-.5l1-.6l1-.6l1-.6l1-.7l1-.6l1-.7l1-.7l1-.6l1-.6l1-.6l1-.6l1-.6l1-.6l1-.6l1-.6l1-.5l1-.4l1-.4l1-.3l1-.2l1-.1l1-.2l1-.1l1 0l1 0l1 .1l1 .1l1 .1l1 .1l1 .1l1 .1l1 .2l1 .3l1 .2l1 .2l1 .1l1 .1l1 .1l1 .1l1 .1l1 .1l1 .1l1 .1l1 0l1 0l1-.2l1-.4l1-.5l1-.4l1-.4l1-.5l1-.6l1-.5l1-.6l1-.7l1-.7l1-.8l1-1l1-1.3l1-1.5l1-1.7l1-1.8l1-1.9l1-2.2l1-2.2l1-2.5l1-2.6l1-2.9l1-3.2l1-3.5l1-3.2l1-2.7l1-2.5l1-2.3l1-2l1-1.8l1-1.5l1-1.4l1-1.2l1-1.1l1-1l1-.9l1-.8l1-.7l1-.3l1-.1l1-.1l1 0l1 .2l1 .3l1 .3l1 .4l1 .6l1 .6l1 .8l1-.1l1 1.4l1 1.5l1 1.9l1 2l1 2.3l1-2.4l1-3.4l1-3.1l1-2.9l1-2.8l1-2.3l1-2l1-1.8l1-1.3l1-.7l1-.5l1 .1l1 .7l1 1l1 1.3l1 1.7l1 2l1 2.2l1 2.4l1 2.7l1 2.8l1 3.1l1 3.4l1 4l1 4.4l1 4.6l1 4.3l1 4.2l1 4.3l1 4.2l1 4.3l1 4.4l1 4.4l1 4.5l1 4.6l1 4.6l1 3.9l1 2.8l1 2.3l1 1.9l1 1.4l1 1.1l1 .8l1 .5l1 .3l1 .3l1 .1l1 .2l1 .1l1 0l1 0l1 .1l1-.1l1-.1l1-.1l1-.1l1-.2l1-.1l1-.1l1-.1l1 0l1 .1l1 .2l1 .2l1 .2l1 .4l1 .3l1 .4l1 .6l1 .5l1 .6l1 .5l1 .4l1 .3l1 .2l1 .2l1 .1l1 .1l1 .2l1 .2l1 .2l1 .3l1 .4l1 .5l1 .5l1 .5l1 .6l1 .6l1 .5l1 .4l1 .4l1 .4l1 .2l1 .2l1 .1l1 0l1 .1l1 0l1 .2l1 .1l1 .3l1 .3l1 .4l1 .4l1 .5l1 .4l1 .4l1 .3l1 .3l1 .1l1 0l1-.2l1-.2l1-.3l1-.3l1-.3l1-.2l1-.3l1-.1l1-.1l1 .1l1 .1l1 .2l1 .2l1 .2l1 .2l1 .2l1 .1l1 0l1 0l1-.2l1-.1l1-.1l1-.2l1 0l1 0l1 .1l1 .2l1 .2l1 .4l1 .4l1 .4l1 .4l1 .3l1 .3l1 .1l1 0l1 0l1-.2l1-.2l1-.3l1-.3l1-.3l1-.2l1-.2l1-.1l1 0l1 .1l1 .1l1 .1l1 .1l1 .2l1 .1l1 .1l1 .1l1 0l1 0l1 0l1 0l1 0l1 .1l1 0l1 .2l1 .1l1 .2l1 .3l1 .2l1 .2l1 .3l1 .2l1 .2l1 .1l1 .1l1 0l1 0l1-.1l1 0l1-.1l1-.1l1-.1l1-.1l1-.1l1-.1l1-.1l1-.1l1 0l1-.1l1 0l1 0l1 .1l1 .1l1 .1l1 .2l1 .1l1 .3l1 .2l1 .2l1 .3l1 .2l1 .2l1 .1l1 .2l1 .1l1 0l1 .1l1 0l1 .1l1 0l1 .1l1 .1l1 .2l1 .1l1 .1l1 .1l1 .1l1 .1l1 0l1-.1l1-.2l1-.2l1-.2l1-.3l1-.3l1-.2l1-.2l1-.1l1 0l1 .1l1 .2l1 .3l1 .4l1 .4l1 .3l1 .4l1 .3l1 .3l1 .1l1 .1l1-.1l1 0l1-.2l1-.1l1-.1l1 0l1 0l1 .2l1 .1l1 .3l1 .3l1 .3l1 .2l1 .2l1 .2l1 0l1-.1l1-.3l1-.3l1-.4l1-.4l1-.3l1-.3l1-.2l1-.1l1 0l1 .2l1 .4l1 .4l1 .5l1 .5l1 .5l1 .4l1 .3l1 .2l1 .1l1 0l1-.1l1-.2l1-.1l1-.1l1-.1l1 0l1 .2l1 .2l1 .4l1 .4l1 .4l1 .4l1 .4l1 .3l1 .1l1 .1l1-.1l1-.2l1-.2l1-.3l1-.3l1-.2l1-.2l1 0l1 .1l1 .2l1 .4l1 .5l1 .5l1 .6l1 .6l.5 .2" stroke="#aaa" stroke-width="1.0" fill="none"/>
<path d="M48 182.3l1-.3l1-.3l1-.3l1-.3l1-.2l1-.3l1-.3l1-.3l1-.2l1-.2l1-.3l1-.2l1-.3l1-.2l1-.2l1-.2l1-.1l1-.2l1-.1l1-.1l1-.1l1-.1l1-.2l1-.1l1-.2l1-.3l1-.3l1-.3l1-.4l1-.4l1-.4l1-.5l1-.4l1-.4l1-.3l1-.3l1-.2l1-.2l1-.2l1-.2l1-.1l1-.2l1-.2l1-.1l1-.3l1-.2l1-.2l1-.2l1-.2l1-.2l1-.1l1-.1l1 0l1-.1l1 0l1 0l1 0l1 0l1 0l1 0l1 0l1-.1l1 0l1-.1l1 0l1 0l1 0l1 0l1 .1l1 .1l1 .1l1 .2l1 .2l1 .2l1 .1l1 .2l1 .1l1 0l1 .1l1 0l1 .1l1 0l1 .1l1 .1l1 .1l1 .2l1 .1l1 .2l1 .2l1 .2l1 .2l1 .2l1 .1l1 .1l1 0l1 0l1 0l1 0l1-.1l1-.2l1-.1l1-.2l1-.2l1-.1l1-.2l1-.2l1-.2l1-.3l1-.2l1-.3l1-.3l1-.5l1-.6l1-.8l1-.8l1-.9l1-.9l1-1.1l1-1.1l1-1.1l1-1.4l1-1.7l1-2l1-2.2l1-2.5l1-2.6l1-2.8l1-3.1l1-3.5l1-3.8l1-4.1l1-4.4l1-4.7l1-5.3l1-6.1l1-6.6l1-6.7l1-6.4l1-6.6l1-6.8l1-6.7l1-6.2l1-5.5l1-5.2l1-4.8l1-4.4l1-3.9l1-3.4l1-2.9l1-1.9l1-1.2l1-.7l1 .2l1 1.2l1 1.6l1 2.5l1 2.4l1 3.6l1 3.8l1 3.9l1 3.6l1 3.2l1 2.7l1 3l1 2.9l1 2.9l1 2.8l1 2.7l1 3.7l1 5.7l1 6l1 4.8l1 4.4l1 3.7l1 3.1l1 2.8l1 2.5l1 2.1l1 1.9l1 1.5l1 1.2l1 .5l1-.1l1-.1l1-.7l1-1.3l1-1.3l1-1.5l1-1.6l1-1.6l1-1.5l1-1.2l1-1.2l1-1l1-1l1-.8l1-.7l1-.7l1-.5l1-.1l1 .2l1 .4l1 .6l1 .8l1 1.4l1 1.7l1 1.8l1 2l1 2.3l1 2.5l1 2.7l1 2.9l1 3.2l1 3.2l1 3.2l1 3.3l1 3.3l1 3.5l1 3.5l1 3.7l1 4l1 4.7l1 5.2l1 5.1l1 5.2l1 4.1l1 3.6l1 2.9l1 2.2l1 1.5l1 1.3l1 1.1l1 1l1 .9l1 .8l1 .8l1 .6l1 .5l1 .4l1 .4l1 .3l1 .3l1 .3l1 .4l1 .2l1 .2l1 .1l1 .1l1 .1l1 0l1 .1l1 .2l1 .1l1 .1l1 .2l1 .1l1 .1l1 0l1 .1l1-.1l1 0l1 0l1 0l1 0l1 .1l1 0l1 .2l1 .1l1 .1l1 .1l1 .1l1 0l1-.1l1-.1l1-.2l1-.3l1-.2l1-.3l1-.2l1-.1l1 0l1 .1l1 .2l1 .4l1 .4l1 .5l1 .4l1 .5l1 .3l1 .3l1 .2l1 0l1-.1l1-.1l1-.3l1-.2l1-.2l1-.2l1-.1l1-.1l1 0l1 0l1 0l1 .1l1 .1l1 .1l1 0l1 0l1 0l1 0l1 0l1 0l1 .1l1 .2l1 .1l1 .3l1 .3l1 .3l1 .2l1 .2l1 .2l1 0l1 0l1-.1l1-.2l1-.3l1-.2l1-.2l1-.2l1-.1l1 .1l1 .1l1 .3l1 .3l1 .3l1 .4l1 .4l1 .2l1 .2l1 .1l1 0l1-.1l1-.1l1-.2l1-.2l1-.2l1-.2l1 0l1 0l1 .1l1 .2l1 .2l1 .2l1 .3l1 .2l1 .1l1 .2l1 .1l1 0l1 .1l1 0l1 .1l1 .1l1 .1l1 .1l1 .2l1 .2l1 .1l1 .2l1 0l1-.1l1-.1l1-.2l1-.3l1-.3l1-.3l1-.2l1-.2l1-.1l1 .1l1 .1l1 .3l1 .4l1 .5l1 .5l1 .5l1 .4l1 .3l1 .2l1 .1l1-.1l1-.1l1-.2l1-.2l1-.2l1-.2l1-.1l1-.1l1 0l1 0l1 .1l1 .2l1 .1l1 .1l1 0l1 .1l1 0l1 0l1 0l1 0l1 0l1 .1l1 .1l1 .2l1 .3l1 .3l1 .2l1 .3l1 .2l1 .1l1 0l1 0l1-.2l1-.1l1-.2l1-.2l1-.1l1 0l1 0l1 .2l1 .3l1 .4l1 .4l1 .4l1 .5l1 .3l1 .3l1 .2l1 0l1 0l1-.1l1-.2l1-.2l1-.2l1-.1l1-.1l1 .1l1 .1l1 .3l1 .3l1 .3l1 .4l1 .4l1 .3l1 .3l1 .3l1 .2l.5 .1" stroke="#777" stroke-width="1.0" fill="none"/>
<g mask="url(#low)"><g mask="url(#lft)" fill="none" stroke="url(#hg)" stroke-width="0.65"><path d="M48 182.3l1-.4l1-.4l1-.3l1-.4l1-.3l1-.3l1-.4l1-.3l1-.4l1-.4l1-.5l1-.4l1-.4l1-.3l1-.2l1-.3l1-.2l1-.2l1-.3l1-.3l1-.3l1-.3l1-.2l1-.2l1-.3l1-.2l1-.2l1-.2l1-.3l1-.3l1-.4l1-.5l1-.5l1-.5l1-.5l1-.5l1-.4l1-.3l1-.3l1-.3l1-.3l1-.3l1-.2l1-.3l1-.3l1-.3l1-.2l1-.2l1-.1l1-.1l1 0l1 0l1 .1l1 0l1 0l1-.1l1 0l1-.1l1-.1l1 0l1 0l1 .1l1 .1l1 .1l1 .1l1 .1l1-.1l1 0l1-.1l1-.1l1-.1l1-.1l1 0l1 .1l1 .1l1 .2l1 .2l1 .3l1 .2l1 .2l1 .2l1 .1l1 .2l1 .2l1 .1l1 .2l1 .2l1 .2l1 .2l1 .1l1 0l1 0l1-.1l1-.1l1-.1l1-.1l1 0l1 0l1 0l1 .1l1 0l1 0l1 0l1-.2l1-.2l1-.3l1-.3l1-.4l1-.3l1-.3l1-.4l1-.5l1-.6l1-.8l1-.9l1-1l1-1.1l1-1.2l1-1.3l1-1.4l1-1.6l1-2l1-2.1l1-2.4l1-2.7l1-2.7l1-3l1-3.5l1-3.8l1-4.2l1-4.5l1-4.8l1-5.1l1-5.8l1-6.4l1-6.8l1-6.7l1-6.5l1-6.9l1-6.9l1-6.7l1-5.9l1-5l1-4.3l1-4l1-3.8l1-3.9l1-3.9l1-3.8l1-3.5l1-4l1-2.4l1 2l1 4.1l1 3.4l1 3.4l1 3.5l1 3.5l1 3.3l1 3.3l1 3.5l1 3.9l1 4.5l1 5.6l1 6.9l1 7.5l1 7.4l1 7.1l1 7l1 7.1l1 7.1l1 7.3l1 7.5l1 7.5l1 7.6l1 8l1 7.3l1 5.4l1 4.2l1 3.5l1 2.6l1 2l1 1.7l1 1.4l1 .9l1 .6l1 .5l1 .4l1 .2l1 .1l1-.1l1-.1l1 0l1-.2l1-.1l1-.1l1 0l1 0l1 0l1 .1l1 0l1 .1l1 0l1 0l1 .1l1 0l1 .2l1 .2l1 .2l1 .4l1 .5l1 .4l1 .5l1 .4l1 .4l1 .4l1 .3l1 .4l1 .5l1 .6l1 .7l1 .7l1 .7l1 .6l1 .5l1 .4l1 .3l1 .2l1 .2l1 .1l1 .2l1 .2l1 .4l1 .4l1 .4l1 .4l1 .4l1 .2l1 .2l1 .2l1 .1l1 .1l1 .2l1 .3l1 .3l1 .3l1 .3l1 .3l1 .2l1 .1l1 0l1-.1l1-.1l1 0l1 0l1 .1l1 .3l1 .3l1 .2l1 .3l1 .1l1-.1l1-.2l1-.3l1-.4l1-.5l1-.3l1-.2l1-.1l1 .1l1 .2l1 .3l1 .2l1 .3l1 .1l1 .1l1 .1l1 .1l1 .1l1 .2l1 .3l1 .3l1 .3l1 .2l1 .1l1 0l1-.2l1-.3l1-.3l1-.4l1-.2l1 0l1 .1l1 .3l1 .4l1 .4l1 .3l1 .2l1 .1l1-.1l1-.2l1-.2l1-.3l1-.1l1-.1l1 0l1 .2l1 .1l1 .2l1 .1l1 0l1 0l1-.1l1 0l1 0l1 .2l1 .2l1 .4l1 .4l1 .3l1 .3l1 .1l1 0l1-.2l1-.3l1-.4l1-.3l1-.2l1-.1l1 .2l1 .2l1 .4l1 .4l1 .3l1 .2l1 0l1 0l1-.2l1-.1l1-.1l1-.1l1 .1l1 .1l1 .2l1 .2l1 .1l1 0l1 0l1-.1l1-.1l1 0l1 .1l1 .3l1 .4l1 .5l1 .5l1 .5l1 .3l1 .1l1 0l1-.3l1-.4l1-.4l1-.5l1-.3l1-.2l1 0l1 .1l1 .2l1 .2l1 .1l1 .1l1 0l1 0l1 0l1 .1l1 .1l1 .3l1 .3l1 .4l1 .4l1 .3l1 .1l1 0l1-.1l1-.3l1-.2l1-.2l1 0l1 .1l1 .2l1 .4l1 .4l1 .3l1 .2l1 0l1-.2l1-.3l1-.4l1-.4l1-.3l1-.2l1 0l1 .1l1 .2l1 .2l1 .2l1 .2l1 .1l1 .1l1 .1l1 .2l1 .2l1 .4l1 .4l1 .5l1 .5l1 .3l1 .2l1 0l1-.2l1-.4l1-.5l1-.4l1-.4l1-.2l1 0l1 .2l1 .3l1 .4l1 .4l1 .3l1 .2l1 .1l1 0l1 0l1 0l1 .1l1 .2l1 .3l1 .4l1 .3l1 .3l1 .2l1 .1l1 .1l1-.1l1 0l1 .1l1 .2l1 .4l1 .5l1 .5l1 .6l1 .4l1 .3l1 0l.5 0"/><path d="M48 182.3l1-.4l1-.4l1-.4l1-.3l1-.4l1-.4l1-.3l1-.3l1-.3l1-.3l1-.3l1-.3l1-.3l1-.3l1-.2l1-.3l1-.2l1-.3l1-.2l1-.3l1-.2l1-.3l1-.3l1-.2l1-.3l1-.3l1-.3l1-.4l1-.3l1-.4l1-.4l1-.4l1-.5l1-.4l1-.4l1-.4l1-.4l1-.3l1-.4l1-.3l1-.3l1-.3l1-.2l1-.1l1-.2l1-.1l1-.1l1-.1l1-.1l1-.1l1-.1l1-.1l1 0l1-.1l1-.1l1-.1l1-.1l1-.1l1-.1l1 0l1 0l1-.1l1 0l1 .1l1 0l1 0l1 0l1 .1l1 0l1 .1l1 .1l1 .1l1 .1l1 .1l1 .1l1 .1l1 .2l1 .2l1 .2l1 .1l1 .2l1 .2l1 .2l1 .2l1 .1l1 .1l1 .1l1 .1l1 0l1 0l1 0l1 .1l1 0l1 0l1 0l1 0l1 0l1 0l1 0l1 .1l1 0l1-.1l1 0l1-.1l1-.1l1-.1l1-.2l1-.1l1-.3l1-.2l1-.2l1-.4l1-.4l1-.6l1-.8l1-.9l1-1l1-1.1l1-1.2l1-1.3l1-1.3l1-1.6l1-2l1-2.1l1-2.5l1-2.6l1-2.8l1-2.9l1-3.4l1-3.7l1-4l1-4.4l1-4.8l1-5.2l1-6.1l1-6.8l1-7.1l1-7.1l1-7l1-7.3l1-7.3l1-6.9l1-6.2l1-5.5l1-5.3l1-4.8l1-4.2l1-3.6l1-3.1l1-2.1l1-1.3l1-.8l1 .3l1 1.3l1 1.7l1 2.4l1 3.1l1 3.5l1 3.8l1 4.3l1 4.7l1 5.2l1 5.5l1 6.5l1 7.3l1 7.9l1 7.7l1 7.3l1 7.1l1 7.2l1 7.2l1 7.3l1 7.4l1 7.4l1 7.8l1 7.8l1 6.5l1 4.5l1 3.8l1 3l1 2.2l1 1.8l1 1.5l1 1.1l1 .7l1 .5l1 .4l1 .3l1 .2l1 .1l1 0l1 0l1 0l1-.1l1-.1l1-.2l1-.2l1-.1l1-.1l1-.1l1 0l1 .1l1 .2l1 .2l1 .2l1 .2l1 .3l1 .2l1 .3l1 .3l1 .4l1 .4l1 .4l1 .4l1 .3l1 .3l1 .3l1 .3l1 .3l1 .4l1 .4l1 .5l1 .4l1 .5l1 .5l1 .5l1 .5l1 .5l1 .5l1 .4l1 .4l1 .4l1 .3l1 .3l1 .3l1 .2l1 .2l1 .1l1 .1l1 .1l1 0l1 .1l1 .1l1 .1l1 .1l1 .2l1 .2l1 .2l1 .3l1 .3l1 .2l1 .2l1 .3l1 .1l1 .2l1 .1l1 0l1 0l1-.1l1-.1l1-.2l1-.1l1-.1l1-.1l1-.1l1-.1l1 0l1 .1l1 .1l1 .1l1 .1l1 .1l1 0l1 .1l1 0l1 0l1 0l1-.1l1 0l1-.1l1 0l1 .1l1 .1l1 .1l1 .2l1 .3l1 .3l1 .2l1 .3l1 .3l1 .2l1 .1l1 .1l1-.1l1 0l1-.2l1-.2l1-.2l1-.2l1-.2l1-.2l1-.2l1 0l1-.1l1 .1l1 .1l1 .1l1 .2l1 .2l1 .2l1 .3l1 .2l1 .2l1 .1l1 .2l1 .1l1 .1l1 .1l1 .1l1 0l1 0l1 0l1 0l1 0l1 0l1 0l1-.1l1 0l1-.1l1 0l1 0l1 0l1 0l1 0l1 0l1 .1l1 .1l1 .1l1 .1l1 .1l1 .1l1 .1l1 .1l1 .1l1 .2l1 .1l1 .2l1 .2l1 .2l1 .2l1 .2l1 .2l1 .1l1 .2l1 .1l1 .1l1 0l1-.1l1-.1l1-.2l1-.2l1-.2l1-.3l1-.2l1-.2l1-.1l1 0l1 0l1 .1l1 .2l1 .3l1 .3l1 .4l1 .4l1 .3l1 .3l1 .3l1 .1l1 .2l1 0l1 0l1-.1l1-.1l1-.1l1-.1l1-.1l1-.1l1 0l1 0l1 .1l1 .1l1 .1l1 0l1 .1l1 0l1 0l1 0l1-.1l1 0l1-.1l1-.1l1 0l1 0l1 0l1 .2l1 .1l1 .3l1 .3l1 .3l1 .3l1 .4l1 .2l1 .3l1 .2l1 .1l1 0l1 0l1-.1l1-.2l1-.1l1-.2l1-.2l1-.2l1-.1l1-.1l1 0l1 0l1 .1l1 .2l1 .1l1 .2l1 .3l1 .2l1 .3l1 .3l1 .3l1 .3l1 .3l1 .2l1 .3l1 .2l1 .2l1 .2l1 .1l1 .1l1 .2l1 0l1 .1l1 .1l1 0l1 .1l1 0l1 .1l1 .1l1 .2l1 .1l1 .2l.5 .1"/><path d="M48 182.3l1-.4l1-.3l1-.4l1-.4l1-.4l1-.3l1-.4l1-.3l1-.4l1-.2l1-.3l1-.2l1-.3l1-.2l1-.2l1-.3l1-.3l1-.3l1-.3l1-.3l1-.3l1-.3l1-.3l1-.3l1-.2l1-.3l1-.3l1-.4l1-.4l1-.3l1-.4l1-.4l1-.4l1-.4l1-.3l1-.3l1-.3l1-.2l1-.4l1-.3l1-.4l1-.3l1-.4l1-.3l1-.3l1-.3l1-.2l1-.2l1-.1l1 0l1 0l1 .1l1 0l1 0l1 0l1 0l1-.1l1-.1l1 0l1-.1l1 0l1 0l1 .1l1 0l1 .1l1 0l1 .1l1 0l1 0l1 0l1 0l1 0l1 .1l1 .1l1 .1l1 .1l1 .1l1 .2l1 .2l1 .1l1 .1l1 .1l1 .1l1 .1l1 .1l1 .1l1 .2l1 .1l1 .2l1 .1l1 .2l1 .1l1 .1l1 .1l1 0l1 0l1-.1l1 0l1 0l1 0l1 0l1 .1l1 0l1 0l1-.1l1-.1l1-.2l1-.2l1-.3l1-.3l1-.4l1-.3l1-.5l1-.6l1-.7l1-.8l1-.9l1-1l1-1.1l1-1.2l1-1.3l1-1.5l1-1.8l1-2.2l1-2.4l1-2.6l1-2.8l1-2.9l1-3.3l1-3.6l1-4.1l1-4.4l1-4.7l1-5.2l1-6.2l1-6.8l1-7.1l1-7l1-7l1-7.2l1-7.2l1-6.6l1-5.8l1-5.4l1-5.1l1-4.6l1-4l1-3.4l1-2.9l1-1.7l1-1.2l1-.4l1 .8l1 1.5l1 1.9l1 2.9l1 3.4l1 3.6l1 4l1 4.5l1 4.9l1 5.3l1 5.9l1 7l1 7.5l1 7.6l1 7.1l1 7l1 7.1l1 7.1l1 7.2l1 7.4l1 7.3l1 7.6l1 7.8l1 6.5l1 4.5l1 3.7l1 3l1 2.2l1 1.9l1 1.5l1 1.2l1 .8l1 .5l1 .4l1 .2l1 .1l1-.1l1 0l1-.1l1 0l1-.1l1-.1l1 0l1-.1l1-.1l1-.1l1 0l1-.1l1 0l1 0l1 .1l1 .1l1 .1l1 .2l1 .2l1 .3l1 .3l1 .4l1 .5l1 .4l1 .4l1 .4l1 .3l1 .3l1 .3l1 .3l1 .4l1 .5l1 .5l1 .5l1 .6l1 .5l1 .5l1 .5l1 .5l1 .4l1 .4l1 .4l1 .3l1 .4l1 .5l1 .4l1 .5l1 .4l1 .4l1 .2l1 .1l1 .1l1 0l1 0l1 0l1 0l1 0l1 .1l1 .2l1 .2l1 .2l1 .3l1 .2l1 .1l1 0l1 0l1 0l1-.1l1 0l1 0l1 0l1 .1l1 .2l1 .1l1 .2l1 .1l1 .1l1 0l1 0l1-.1l1 0l1 0l1 0l1 .1l1 .1l1 .2l1 .2l1 .1l1 .1l1 0l1-.1l1-.2l1-.2l1-.2l1-.1l1 0l1 0l1 .2l1 .3l1 .3l1 .3l1 .2l1 .1l1 .1l1-.1l1-.2l1-.2l1-.2l1-.1l1-.1l1 0l1 .1l1 .2l1 .2l1 .2l1 .2l1 .1l1 .1l1 0l1 0l1 .1l1 0l1 .1l1 .1l1 .2l1 .2l1 .2l1 .1l1 .1l1 0l1-.1l1-.1l1-.1l1-.1l1-.1l1 0l1 .1l1 .2l1 .2l1 .2l1 .1l1 .1l1 0l1-.2l1-.2l1-.2l1-.2l1-.2l1 0l1 0l1 .3l1 .3l1 .3l1 .4l1 .3l1 .3l1 .2l1 .1l1 0l1 0l1-.1l1 0l1 .1l1 .1l1 .1l1 .2l1 .1l1 .2l1 0l1 0l1 0l1-.1l1-.1l1 0l1 0l1 .1l1 .1l1 .2l1 .2l1 .1l1 .1l1 0l1-.1l1-.1l1-.2l1-.2l1-.1l1-.1l1 .1l1 .1l1 .3l1 .3l1 .3l1 .2l1 .2l1 .1l1-.1l1-.1l1-.2l1-.2l1-.1l1 0l1 0l1 .2l1 .3l1 .3l1 .3l1 .2l1 .2l1 .2l1 0l1 .1l1-.1l1 0l1 .1l1 0l1 .1l1 .1l1 .1l1 .1l1 0l1-.1l1-.1l1-.2l1-.2l1-.2l1-.1l1 0l1 .1l1 .2l1 .3l1 .2l1 .3l1 .2l1 .1l1 0l1-.1l1-.1l1-.1l1 0l1 .1l1 .2l1 .3l1 .4l1 .4l1 .5l1 .4l1 .3l1 .2l1 .1l1 0l1 0l1-.1l1 0l1 0l1 .1l1 .1l1 .3l1 .2l1 .2l1 .2l1 .1l1 .1l1 .1l1 .1l1 .1l1 .1l1 .2l1 .3l.5 .1"/><path d="M48 182.3l1-.3l1-.3l1-.3l1-.3l1-.3l1-.4l1-.3l1-.4l1-.3l1-.4l1-.3l1-.3l1-.3l1-.2l1-.2l1-.1l1-.2l1-.1l1-.2l1-.1l1-.2l1-.2l1-.3l1-.3l1-.3l1-.3l1-.3l1-.3l1-.3l1-.4l1-.3l1-.3l1-.3l1-.3l1-.3l1-.3l1-.4l1-.3l1-.4l1-.3l1-.4l1-.4l1-.3l1-.3l1-.2l1-.2l1-.1l1-.1l1-.1l1 0l1 0l1 .1l1 0l1 0l1 0l1-.1l1-.1l1-.1l1-.1l1-.2l1-.1l1-.1l1 0l1 0l1 0l1 0l1 .1l1 .1l1 .2l1 .1l1 .2l1 .1l1 .2l1 .1l1 .2l1 .1l1 .1l1 .1l1 .1l1 .1l1 .1l1 .1l1 .2l1 .1l1 .1l1 0l1 .1l1 0l1 0l1 .1l1 0l1 0l1 0l1 0l1 .1l1 .1l1 .1l1 .2l1 .1l1 .1l1 .1l1 .1l1 0l1-.1l1-.1l1-.2l1-.3l1-.3l1-.3l1-.4l1-.5l1-.6l1-.6l1-.7l1-.8l1-.9l1-.8l1-.9l1-1l1-1l1-1.3l1-1.5l1-1.8l1-1.9l1-2.2l1-2.3l1-2.4l1-2.7l1-3l1-3.3l1-3.6l1-3.8l1-4.1l1-4.8l1-5.4l1-5.7l1-5.8l1-5.5l1-5.8l1-5.9l1-5.7l1-5.3l1-4.6l1-4.4l1-4.1l1-3.7l1-3.1l1-2.8l1-2.2l1-1.3l1-.9l1-.4l1 .6l1 1.3l1 1.5l1 2.1l1 2.7l1 2.9l1 3.2l1 3.5l1 3.9l1 4.1l1 4.5l1 5.2l1 6l1 6.3l1 6.4l1 6l1 5.9l1 5.9l1 5.9l1 6l1 6.1l1 6.2l1 6.1l1 6.5l1 5.9l1 4.4l1 3.4l1 2.8l1 2.1l1 1.6l1 1.4l1 1l1 .7l1 .5l1 .4l1 .3l1 .3l1 .1l1 .1l1 0l1 0l1-.1l1-.2l1-.1l1-.2l1-.2l1-.1l1-.1l1 .1l1 .1l1 .2l1 .2l1 .2l1 .3l1 .2l1 .2l1 .3l1 .3l1 .3l1 .4l1 .3l1 .3l1 .3l1 .4l1 .3l1 .4l1 .5l1 .5l1 .5l1 .5l1 .6l1 .4l1 .5l1 .3l1 .3l1 .2l1 .1l1 .1l1 .1l1 .1l1 .1l1 .2l1 .2l1 .3l1 .3l1 .4l1 .4l1 .5l1 .4l1 .5l1 .3l1 .4l1 .2l1 .2l1 .2l1 .1l1 .1l1 0l1 0l1 0l1 0l1 0l1 0l1 0l1-.1l1 0l1-.1l1-.2l1-.2l1-.1l1-.2l1-.2l1-.1l1-.1l1 .1l1 .1l1 .2l1 .2l1 .3l1 .4l1 .3l1 .3l1 .3l1 .2l1 0l1 0l1 0l1-.2l1-.2l1-.2l1-.1l1-.1l1-.1l1 .1l1 .1l1 .2l1 .2l1 .3l1 .2l1 .2l1 .2l1 0l1 0l1-.1l1-.2l1-.1l1-.2l1-.2l1-.2l1 0l1 0l1 0l1 .2l1 .2l1 .3l1 .2l1 .2l1 .2l1 .2l1 .1l1 0l1 0l1 0l1 0l1-.1l1 0l1 0l1 .1l1 .1l1 .1l1 .2l1 .1l1 .2l1 .1l1 0l1 0l1-.1l1-.2l1-.1l1-.1l1-.2l1 0l1 0l1 .1l1 .1l1 .3l1 .3l1 .4l1 .3l1 .3l1 .3l1 .1l1 .1l1 0l1-.2l1-.2l1-.2l1-.2l1-.3l1-.1l1-.1l1 0l1 .1l1 .3l1 .3l1 .4l1 .3l1 .4l1 .4l1 .3l1 .2l1 .1l1 0l1-.1l1-.1l1-.1l1-.2l1-.1l1-.1l1-.1l1-.1l1 0l1 0l1 0l1-.1l1 0l1 0l1-.1l1 0l1-.1l1 0l1 0l1 .1l1 .2l1 .2l1 .4l1 .4l1 .5l1 .4l1 .5l1 .4l1 .3l1 .2l1 0l1-.1l1-.2l1-.3l1-.4l1-.4l1-.4l1-.4l1-.3l1-.1l1-.1l1 .1l1 .2l1 .2l1 .3l1 .4l1 .3l1 .3l1 .2l1 .2l1 .1l1 0l1 0l1 0l1 0l1 .1l1 0l1 .1l1 .2l1 .2l1 .2l1 .2l1 .2l1 .2l1 .1l1 .1l1 0l1-.1l1 0l1-.1l1 0l1 0l1 0l1 .1l1 .2l1 .3l1 .3l1 .3l1 .3l1 .3l1 .2l1 .1l1 .1l1 .1l1-.1l1 0l1-.1l1 0l1 0l1 .1l1 .2l1 .4l.5 .2"/><path d="M48 182.3l1-.3l1-.3l1-.3l1-.3l1-.4l1-.3l1-.3l1-.3l1-.3l1-.3l1-.2l1-.3l1-.2l1-.2l1-.2l1-.1l1-.2l1-.2l1-.1l1-.2l1-.2l1-.2l1-.2l1-.3l1-.3l1-.3l1-.3l1-.4l1-.3l1-.4l1-.4l1-.4l1-.3l1-.4l1-.3l1-.3l1-.2l1-.3l1-.2l1-.3l1-.2l1-.3l1-.2l1-.2l1-.2l1-.2l1-.1l1-.2l1-.1l1-.2l1-.1l1 0l1-.1l1 0l1-.1l1 0l1-.1l1 0l1-.1l1 0l1 0l1-.1l1 0l1 0l1 0l1 0l1 0l1 0l1 0l1 .1l1 .1l1 .1l1 .1l1 .2l1 .1l1 .2l1 .2l1 .2l1 .2l1 .2l1 .2l1 .1l1 .2l1 .1l1 .2l1 0l1 .1l1 0l1 .1l1 0l1 0l1-.1l1 0l1 0l1 0l1 0l1 .1l1 0l1 0l1 0l1 .1l1-.1l1 0l1 0l1-.1l1-.1l1-.1l1-.1l1-.2l1-.2l1-.3l1-.4l1-.5l1-.7l1-.7l1-.8l1-.9l1-1l1-1l1-1l1-1.2l1-1.5l1-1.6l1-1.9l1-1.9l1-2.2l1-2.2l1-2.4l1-2.8l1-3l1-3.3l1-3.6l1-3.8l1-4.4l1-5l1-5.5l1-5.6l1-5.5l1-5.6l1-5.8l1-5.7l1-5.4l1-4.7l1-4.4l1-4.1l1-3.8l1-3.3l1-2.8l1-2.5l1-1.6l1-1.1l1-.6l1 .2l1 .9l1 1.3l1 1.7l1 2.4l1 2.6l1 2.9l1 3.2l1 3.5l1 3.8l1 4.2l1 4.5l1 5.4l1 5.9l1 6.1l1 5.8l1 5.7l1 5.6l1 5.7l1 5.7l1 5.9l1 6l1 5.9l1 6.4l1 6.1l1 5.1l1 3.6l1 3l1 2.5l1 1.7l1 1.5l1 1l1 .7l1 .4l1 .3l1 .2l1 .2l1 0l1 0l1 0l1 0l1-.1l1-.1l1-.1l1-.1l1 0l1 0l1 0l1 .1l1 .2l1 .1l1 .2l1 .2l1 .2l1 .2l1 .2l1 .2l1 .3l1 .3l1 .4l1 .3l1 .4l1 .3l1 .3l1 .4l1 .4l1 .4l1 .5l1 .5l1 .5l1 .6l1 .5l1 .5l1 .5l1 .5l1 .4l1 .3l1 .3l1 .2l1 .2l1 .2l1 .2l1 .2l1 .1l1 .2l1 .3l1 .2l1 .3l1 .3l1 .4l1 .4l1 .4l1 .3l1 .4l1 .3l1 .3l1 .2l1 .1l1 0l1 0l1-.1l1-.2l1-.2l1-.2l1-.2l1-.3l1-.1l1-.2l1-.1l1 0l1 0l1 .1l1 .1l1 .2l1 .3l1 .2l1 .3l1 .3l1 .3l1 .2l1 .2l1 .1l1 .1l1 .1l1-.1l1 0l1-.2l1-.1l1-.2l1-.1l1-.2l1-.1l1-.1l1-.1l1 0l1 0l1 .1l1 .1l1 .1l1 .2l1 .2l1 .2l1 .1l1 .2l1 .2l1 .1l1 .1l1 .1l1 .1l1 .1l1 0l1 0l1 .1l1 0l1 0l1 0l1 0l1 0l1 0l1 .1l1 0l1 0l1 0l1 0l1 0l1-.1l1 0l1 0l1 0l1-.1l1 0l1 .1l1 0l1 .1l1 .1l1 .1l1 .1l1 .2l1 .2l1 .2l1 .2l1 .2l1 .2l1 .2l1 .2l1 .1l1 .1l1 0l1 0l1 0l1-.1l1 0l1-.1l1-.1l1-.1l1-.1l1-.1l1 0l1 0l1 .1l1 0l1 .1l1 .2l1 .2l1 .1l1 .2l1 .2l1 .2l1 .2l1 .1l1 .2l1 .1l1 0l1 .1l1 0l1 .1l1 0l1-.1l1 0l1 0l1 0l1 0l1 0l1 .1l1 0l1 0l1 0l1 .1l1 0l1 0l1 0l1 .1l1 0l1 0l1 0l1 .1l1 0l1 .1l1 .1l1 .1l1 .1l1 .1l1 .2l1 .2l1 .2l1 .1l1 .2l1 .2l1 .1l1 .1l1 .1l1 0l1 0l1-.1l1-.1l1-.1l1-.2l1-.1l1-.2l1-.1l1-.1l1 0l1 0l1 .1l1 .1l1 .2l1 .2l1 .3l1 .3l1 .3l1 .4l1 .3l1 .3l1 .2l1 .2l1 .1l1 .1l1 0l1 0l1-.1l1-.1l1-.1l1-.1l1-.2l1 0l1 0l1 0l1 .1l1 .2l1 .2l1 .3l1 .4l1 .3l1 .4l1 .4l1 .4l1 .4l1 .3l1 .2l1 .2l1 .2l1 0l1 .1l1-.1l1 0l.5 0"/><path d="M48 182.3l1-.3l1-.3l1-.3l1-.3l1-.3l1-.4l1-.3l1-.3l1-.4l1-.3l1-.3l1-.4l1-.3l1-.2l1-.3l1-.2l1-.3l1-.2l1-.3l1-.2l1-.3l1-.2l1-.3l1-.2l1-.3l1-.2l1-.3l1-.3l1-.2l1-.3l1-.2l1-.3l1-.3l1-.3l1-.3l1-.4l1-.3l1-.4l1-.3l1-.4l1-.4l1-.4l1-.4l1-.3l1-.3l1-.2l1-.2l1-.2l1-.1l1 0l1-.1l1 0l1 .1l1 0l1 0l1 0l1 0l1 0l1 0l1 0l1 0l1 0l1-.1l1 0l1 0l1-.1l1 0l1 0l1 0l1 0l1 .1l1 .1l1 .1l1 .2l1 .1l1 .2l1 .2l1 .2l1 .2l1 .2l1 .1l1 .2l1 .1l1 .1l1 0l1 .1l1 0l1 0l1 0l1 .1l1 0l1 .1l1 .1l1 .1l1 .1l1 .1l1 .1l1 .1l1 .1l1 0l1 0l1-.1l1-.1l1-.2l1-.2l1-.2l1-.2l1-.3l1-.2l1-.3l1-.4l1-.4l1-.6l1-.6l1-.8l1-.8l1-.9l1-.9l1-1l1-1.1l1-1.4l1-1.6l1-1.7l1-2l1-2l1-2.2l1-2.3l1-2.6l1-2.9l1-3.1l1-3.5l1-3.6l1-4.1l1-4.8l1-5.3l1-5.5l1-5.4l1-5.3l1-5.6l1-5.6l1-5.2l1-4.7l1-4.2l1-4l1-3.6l1-3.2l1-2.7l1-2.4l1-1.7l1-.9l1-.6l1 .2l1 .9l1 1.4l1 1.7l1 2.3l1 2.7l1 2.9l1 3.2l1 3.5l1 3.8l1 4.2l1 4.5l1 5.3l1 5.8l1 6.1l1 5.9l1 5.5l1 5.5l1 5.5l1 5.6l1 5.6l1 5.8l1 5.8l1 6l1 6l1 5.2l1 3.7l1 3l1 2.6l1 1.9l1 1.6l1 1.3l1 .9l1 .7l1 .4l1 .3l1 .2l1 .2l1 0l1 0l1-.1l1-.1l1-.1l1-.2l1-.2l1-.2l1-.1l1-.1l1 0l1 .1l1 .1l1 .2l1 .2l1 .3l1 .2l1 .3l1 .2l1 .3l1 .3l1 .4l1 .3l1 .3l1 .3l1 .3l1 .2l1 .2l1 .3l1 .2l1 .4l1 .4l1 .4l1 .4l1 .5l1 .5l1 .5l1 .5l1 .5l1 .5l1 .4l1 .4l1 .3l1 .3l1 .2l1 .2l1 .1l1 .1l1 0l1 0l1 0l1 .1l1 0l1 .1l1 .1l1 .2l1 .2l1 .3l1 .2l1 .3l1 .3l1 .3l1 .2l1 .2l1 .2l1 .1l1 0l1 .1l1 0l1-.1l1 0l1-.1l1-.1l1 0l1-.1l1 0l1 0l1-.1l1 0l1-.1l1-.1l1-.1l1-.1l1-.1l1-.2l1 0l1 0l1 0l1 .1l1 .2l1 .3l1 .3l1 .4l1 .4l1 .4l1 .3l1 .3l1 .2l1 0l1 0l1-.2l1-.2l1-.3l1-.3l1-.3l1-.2l1-.2l1-.1l1 0l1 .1l1 .2l1 .3l1 .2l1 .3l1 .3l1 .2l1 .2l1 .1l1 0l1 0l1-.1l1-.1l1-.2l1-.1l1 0l1-.1l1 .1l1 .1l1 .1l1 .1l1 .2l1 .2l1 .2l1 .1l1 .1l1 .1l1 0l1 .1l1-.1l1 0l1 0l1 0l1 0l1 .1l1 .1l1 0l1 .1l1 .1l1 .1l1 .1l1 0l1 0l1 0l1 0l1-.1l1 0l1 0l1 0l1 .1l1 .1l1 .2l1 .2l1 .2l1 .3l1 .3l1 .3l1 .2l1 .2l1 .2l1 .1l1 0l1-.1l1 0l1-.2l1-.1l1-.2l1-.2l1-.2l1-.1l1-.1l1-.1l1-.1l1 0l1 .1l1 .1l1 .1l1 .2l1 .2l1 .3l1 .3l1 .3l1 .3l1 .3l1 .3l1 .2l1 .2l1 .2l1 0l1 0l1-.1l1-.2l1-.2l1-.3l1-.2l1-.3l1-.2l1-.1l1-.1l1 0l1 .1l1 .1l1 .2l1 .3l1 .3l1 .2l1 .3l1 .2l1 .1l1 .2l1 0l1 .1l1 0l1 0l1 .1l1 0l1 .1l1 0l1 .1l1 .2l1 .1l1 .1l1 .1l1 0l1 0l1 0l1-.1l1-.1l1-.1l1 0l1-.1l1 .1l1 .1l1 .1l1 .3l1 .3l1 .3l1 .4l1 .3l1 .3l1 .3l1 .2l1 .1l1 0l1 0l1-.1l1-.1l1-.1l1-.1l1 .1l1 .1l1 .2l1 .2l1 .4l1 .5l1 .4l1 .5l1 .5l1 .4l.5 .1"/><path d="M48 182.3l1-.3l1-.3l1-.2l1-.3l1-.3l1-.2l1-.3l1-.2l1-.2l1-.2l1-.3l1-.2l1-.2l1-.2l1-.2l1-.2l1-.2l1-.2l1-.2l1-.2l1-.2l1-.3l1-.2l1-.3l1-.2l1-.3l1-.3l1-.3l1-.3l1-.3l1-.3l1-.3l1-.3l1-.2l1-.3l1-.2l1-.3l1-.2l1-.2l1-.2l1-.3l1-.2l1-.3l1-.2l1-.2l1-.2l1-.2l1-.2l1-.2l1-.1l1-.1l1-.1l1 0l1-.1l1 0l1-.1l1 0l1-.1l1 0l1-.1l1 0l1 0l1 0l1 0l1 0l1 0l1 0l1 0l1 .1l1 0l1 .2l1 .1l1 .1l1 .2l1 .1l1 .2l1 .2l1 .2l1 .1l1 .2l1 .1l1 .2l1 .1l1 .1l1 .1l1 .1l1 .1l1 0l1 0l1 .1l1 0l1 .1l1 0l1 0l1 .1l1 0l1 .1l1 0l1 0l1 0l1 0l1-.1l1-.1l1-.1l1-.1l1-.1l1-.2l1-.2l1-.2l1-.2l1-.3l1-.4l1-.5l1-.6l1-.7l1-.7l1-.9l1-.8l1-1l1-1l1-1.2l1-1.4l1-1.7l1-1.8l1-2l1-2.1l1-2.2l1-2.5l1-2.7l1-3l1-3.3l1-3.5l1-3.8l1-4.4l1-5l1-5.2l1-5.3l1-5.2l1-5.4l1-5.4l1-5.3l1-4.8l1-4.3l1-4.1l1-3.8l1-3.4l1-2.9l1-2.6l1-2.1l1-1.3l1-.9l1-.3l1 .4l1 1.1l1 1.3l1 1.9l1 2.4l1 2.6l1 2.9l1 3.2l1 3.5l1 3.8l1 4.1l1 4.7l1 5.4l1 5.8l1 5.7l1 5.4l1 5.4l1 5.3l1 5.4l1 5.5l1 5.6l1 5.6l1 5.6l1 6l1 5.5l1 4.1l1 3.2l1 2.6l1 2.1l1 1.6l1 1.3l1 .9l1 .7l1 .4l1 .3l1 .3l1 .1l1 .1l1 .1l1 0l1 0l1-.1l1 0l1-.2l1-.1l1-.1l1 0l1-.1l1 .1l1 .1l1 .1l1 .2l1 .2l1 .2l1 .2l1 .2l1 .3l1 .3l1 .3l1 .4l1 .3l1 .3l1 .3l1 .3l1 .2l1 .3l1 .3l1 .4l1 .4l1 .4l1 .5l1 .5l1 .5l1 .5l1 .5l1 .5l1 .4l1 .5l1 .4l1 .4l1 .3l1 .3l1 .3l1 .3l1 .3l1 .2l1 .2l1 .2l1 .2l1 .1l1 .2l1 .2l1 .1l1 .1l1 .1l1 .1l1 .1l1 0l1 .1l1 0l1 0l1 0l1 0l1 0l1 0l1 .1l1 0l1 0l1 0l1 0l1 0l1 .1l1 0l1 0l1 .1l1 0l1 0l1 .1l1 0l1 .1l1 0l1 .1l1 .1l1 .1l1 .1l1 .1l1 .1l1 .1l1 .1l1 .1l1 .1l1 .1l1 .1l1 0l1 .1l1 .1l1 0l1 0l1 0l1 0l1 0l1 0l1-.1l1 0l1-.1l1 0l1-.1l1 0l1-.1l1 0l1 0l1 0l1 0l1 .1l1 0l1 .1l1 .1l1 .1l1 .2l1 .1l1 .2l1 .1l1 .2l1 .2l1 .1l1 .2l1 .2l1 .1l1 .1l1 .1l1 .1l1 .1l1 0l1 0l1 0l1 0l1 0l1-.1l1 0l1-.1l1-.1l1 0l1-.1l1-.1l1 0l1 0l1 0l1 0l1 0l1 .1l1 .1l1 .1l1 .1l1 .1l1 .2l1 .2l1 .2l1 .1l1 .2l1 .2l1 .2l1 .2l1 .1l1 .2l1 .1l1 .1l1 .1l1 .1l1 0l1 0l1 .1l1 0l1 0l1-.1l1 0l1 0l1-.1l1 0l1 0l1 0l1-.1l1 0l1 0l1 0l1 .1l1 0l1 0l1 .1l1 .1l1 0l1 .1l1 .1l1 .1l1 0l1 .1l1 .1l1 .1l1 .1l1 .1l1 .1l1 .1l1 .1l1 .1l1 0l1 .1l1 .1l1 .1l1 .1l1 .1l1 0l1 .1l1 .1l1 .1l1 .1l1 0l1 .1l1 0l1 .1l1 0l1 .1l1 0l1 0l1 0l1 0l1 0l1 0l1 0l1 0l1 0l1 0l1 0l1 .1l1 0l1 .1l1 0l1 .1l1 .1l1 .2l1 .1l1 .2l1 .2l1 .2l1 .2l1 .3l1 .2l1 .3l1 .2l1 .3l1 .2l1 .2l1 .2l1 .2l1 .2l1 .2l1 .1l1 .2l1 .1l1 .1l1 .1l1 .1l1 0l1 .1l1 0l1 .1l1 .1l.5 0"/><path d="M48 182.3l1-.3l1-.3l1-.3l1-.3l1-.3l1-.2l1-.3l1-.2l1-.2l1-.2l1-.2l1-.3l1-.2l1-.3l1-.2l1-.3l1-.2l1-.2l1-.1l1-.2l1-.2l1-.2l1-.2l1-.3l1-.3l1-.4l1-.3l1-.4l1-.4l1-.3l1-.3l1-.3l1-.2l1-.2l1-.2l1-.3l1-.2l1-.2l1-.3l1-.3l1-.3l1-.3l1-.3l1-.2l1-.3l1-.1l1-.2l1-.2l1-.1l1-.2l1-.1l1-.1l1-.1l1-.1l1-.1l1 0l1 0l1 0l1 .1l1 0l1 .1l1 .1l1 .1l1 0l1 0l1 0l1-.1l1 0l1 0l1 0l1 .1l1 .1l1 .2l1 .1l1 .1l1 .1l1 .1l1 0l1 .1l1 0l1 .1l1 0l1 .2l1 .1l1 .2l1 .2l1 .2l1 .2l1 .1l1 .2l1 .1l1 .1l1 0l1 .1l1 .1l1 0l1 .1l1 .1l1 .1l1 0l1 0l1-.1l1-.1l1-.2l1-.2l1-.3l1-.3l1-.2l1-.3l1-.2l1-.3l1-.3l1-.5l1-.5l1-.6l1-.7l1-.8l1-.8l1-.9l1-1l1-1.1l1-1.4l1-1.5l1-1.7l1-1.9l1-1.9l1-2.1l1-2.3l1-2.6l1-2.9l1-3.1l1-3.4l1-3.7l1-4.1l1-4.7l1-5.1l1-5.2l1-5l1-5.1l1-5.2l1-5.2l1-4.8l1-4.2l1-4l1-3.7l1-3.4l1-3l1-2.5l1-2.2l1-1.4l1-.8l1-.5l1 .3l1 1.1l1 1.3l1 1.8l1 2.3l1 2.6l1 2.8l1 3.1l1 3.5l1 3.7l1 4l1 4.5l1 5.3l1 5.7l1 5.8l1 5.5l1 5.2l1 5.3l1 5.2l1 5.4l1 5.4l1 5.5l1 5.4l1 5.9l1 5.7l1 4.5l1 3.4l1 2.9l1 2.3l1 1.7l1 1.3l1 1.1l1 .7l1 .4l1 .3l1 .3l1 .2l1 .1l1 0l1 0l1 0l1-.1l1-.1l1-.2l1-.3l1-.2l1-.2l1-.2l1-.1l1 0l1 .1l1 .2l1 .3l1 .3l1 .3l1 .4l1 .3l1 .4l1 .5l1 .4l1 .4l1 .3l1 .4l1 .3l1 .4l1 .4l1 .4l1 .4l1 .4l1 .4l1 .3l1 .3l1 .3l1 .2l1 .2l1 .3l1 .2l1 .3l1 .3l1 .3l1 .4l1 .3l1 .2l1 .2l1 .2l1 .1l1 .1l1 .2l1 .1l1 .2l1 .3l1 .3l1 .3l1 .3l1 .3l1 .2l1 .1l1 .1l1-.1l1 0l1-.1l1-.1l1 0l1 .1l1 .1l1 .1l1 .2l1 .1l1 .2l1 0l1 0l1-.1l1-.1l1-.1l1-.2l1 0l1 0l1 0l1 .2l1 .1l1 .2l1 .1l1 .1l1 0l1-.1l1-.1l1-.1l1-.1l1 0l1 0l1 .2l1 .1l1 .3l1 .2l1 .1l1 .1l1 0l1-.1l1-.1l1-.2l1-.2l1-.1l1 0l1 .1l1 .1l1 .3l1 .2l1 .3l1 .2l1 .2l1 .1l1 .1l1 0l1 0l1 .1l1 .1l1 .2l1 .2l1 .2l1 .2l1 .1l1 .1l1-.1l1-.2l1-.2l1-.4l1-.3l1-.3l1-.3l1-.1l1 0l1 0l1 .2l1 .2l1 .2l1 .1l1 .2l1 .1l1 .1l1 0l1 .2l1 .2l1 .2l1 .4l1 .4l1 .4l1 .3l1 .3l1 .2l1 0l1-.1l1-.1l1-.2l1-.3l1-.2l1-.1l1 0l1 0l1 .1l1 .1l1 .2l1 .1l1 0l1 0l1-.1l1 0l1-.1l1 0l1 .1l1 .1l1 .2l1 .3l1 .3l1 .2l1 .2l1 .1l1-.1l1-.1l1-.1l1-.2l1-.1l1-.1l1 0l1 .1l1 .2l1 .2l1 .3l1 .2l1 .1l1 .1l1 0l1 0l1-.1l1 0l1 0l1 0l1 .2l1 .2l1 .3l1 .2l1 .2l1 .1l1 .1l1-.1l1-.1l1-.2l1-.1l1-.2l1 0l1 .1l1 .1l1 .2l1 .2l1 .1l1 .1l1 0l1 0l1-.2l1-.2l1-.1l1-.2l1 0l1 .1l1 .1l1 .2l1 .3l1 .3l1 .2l1 .2l1 .2l1 .1l1 0l1 .1l1 .1l1 .2l1 .2l1 .3l1 .4l1 .4l1 .3l1 .2l1 .2l1 0l1-.1l1-.2l1-.3l1-.2l1-.2l1-.1l1-.1l1 .1l1 .1l1 .2l1 .2l1 .1l1 .2l1 .1l1 .1l1 .1l1 .1l1 .3l1 .3l1 .4l1 .5l1 .6l.5 .3"/><path d="M48 182.3l1-.3l1-.2l1-.3l1-.3l1-.2l1-.3l1-.3l1-.2l1-.3l1-.3l1-.2l1-.2l1-.1l1-.2l1-.1l1-.1l1-.1l1-.2l1-.1l1-.2l1-.2l1-.2l1-.3l1-.2l1-.3l1-.3l1-.3l1-.3l1-.3l1-.3l1-.3l1-.3l1-.2l1-.3l1-.2l1-.1l1-.2l1-.2l1-.3l1-.3l1-.3l1-.3l1-.3l1-.4l1-.2l1-.3l1-.1l1-.2l1 0l1-.1l1 0l1 0l1 0l1 0l1-.1l1-.1l1-.1l1-.1l1-.1l1-.1l1 0l1 0l1 .1l1 0l1 .1l1 0l1 .1l1 0l1 0l1 0l1 .1l1 0l1 .1l1 .2l1 .1l1 .2l1 .2l1 .2l1 .2l1 .2l1 .2l1 .1l1 .2l1 .1l1 .1l1 0l1 0l1 0l1 0l1 0l1 0l1 0l1 0l1 .1l1 .1l1 .1l1 .1l1 .2l1 .1l1 .1l1 .1l1 0l1-.1l1-.1l1-.2l1-.3l1-.2l1-.3l1-.3l1-.3l1-.3l1-.4l1-.4l1-.6l1-.5l1-.7l1-.7l1-.9l1-.8l1-1l1-1.1l1-1.4l1-1.5l1-1.6l1-1.8l1-1.8l1-2l1-2.2l1-2.5l1-2.8l1-3l1-3.2l1-3.5l1-4.2l1-4.6l1-4.9l1-4.8l1-4.8l1-5l1-5.1l1-4.7l1-4.3l1-3.9l1-3.6l1-3.4l1-3l1-2.6l1-2.2l1-1.8l1-1.1l1-.7l1-.3l1 .5l1 .9l1 1.2l1 1.8l1 2.1l1 2.3l1 2.5l1 2.9l1 3.1l1 3.4l1 3.7l1 4.4l1 4.9l1 5.2l1 5.1l1 4.9l1 4.8l1 4.9l1 4.9l1 5l1 5.2l1 5.2l1 5.3l1 5.5l1 4.9l1 3.6l1 2.9l1 2.4l1 1.8l1 1.4l1 1.1l1 .8l1 .4l1 .2l1 .1l1 .1l1 .1l1 0l1 .1l1 0l1 .1l1 0l1-.1l1 0l1-.1l1-.1l1-.1l1 0l1 0l1 .1l1 .1l1 .2l1 .2l1 .3l1 .2l1 .2l1 .3l1 .3l1 .3l1 .4l1 .4l1 .3l1 .3l1 .3l1 .3l1 .3l1 .4l1 .4l1 .4l1 .5l1 .5l1 .6l1 .6l1 .6l1 .6l1 .6l1 .5l1 .5l1 .3l1 .3l1 .2l1 .1l1 .1l1 0l1 .1l1 .1l1 .2l1 .3l1 .4l1 .3l1 .4l1 .4l1 .3l1 .2l1 .2l1 0l1 0l1 0l1-.1l1 0l1 0l1 0l1 .2l1 .1l1 .2l1 .2l1 .1l1 .1l1 0l1-.1l1-.1l1-.1l1-.2l1-.1l1-.1l1 0l1 0l1 .1l1 .1l1 .1l1 .1l1 .1l1 .1l1 .1l1 .1l1 .1l1 0l1 .1l1 0l1 0l1 0l1 .1l1 0l1 0l1 .1l1 .1l1 .2l1 .2l1 .2l1 .2l1 .1l1 .1l1 0l1-.1l1-.2l1-.3l1-.2l1-.3l1-.2l1 0l1 .1l1 .2l1 .3l1 .4l1 .4l1 .4l1 .3l1 .2l1 .1l1-.1l1-.1l1-.2l1-.2l1-.2l1-.1l1 0l1 0l1 .1l1 .1l1 .1l1 .1l1 0l1 0l1-.1l1-.1l1 0l1 0l1 0l1 .1l1 .2l1 .3l1 .3l1 .4l1 .3l1 .3l1 .2l1 .2l1 .1l1 .1l1-.1l1-.1l1-.2l1-.2l1-.2l1-.3l1-.2l1-.2l1-.1l1-.1l1 .1l1 .2l1 .3l1 .4l1 .5l1 .4l1 .4l1 .4l1 .2l1 .1l1 0l1-.1l1-.1l1-.2l1-.2l1-.1l1 0l1 0l1 0l1 .1l1 0l1 .1l1-.1l1-.1l1-.2l1-.1l1-.2l1 0l1 .1l1 .2l1 .3l1 .4l1 .5l1 .5l1 .5l1 .3l1 .3l1 0l1 0l1-.2l1-.3l1-.3l1-.4l1-.3l1-.3l1-.1l1-.1l1 0l1 0l1 .2l1 .2l1 .2l1 .3l1 .3l1 .3l1 .3l1 .2l1 .2l1 .2l1 .1l1 0l1 0l1 0l1-.1l1 0l1-.1l1 0l1 0l1 .1l1 0l1 .1l1 0l1-.1l1 0l1-.1l1-.1l1 0l1 0l1 .2l1 .2l1 .4l1 .5l1 .6l1 .5l1 .5l1 .4l1 .2l1 .1l1-.1l1-.2l1-.3l1-.2l1-.2l1-.1l1 0l1 .1l1 .3l1 .3l1 .4l1 .4l1 .3l1 .3l1 .3l1 .2l1 .1l1 .1l.5 .1"/><path d="M48 182.3l1-.3l1-.2l1-.3l1-.2l1-.3l1-.2l1-.2l1-.3l1-.2l1-.3l1-.2l1-.2l1-.1l1-.1l1-.1l1-.1l1-.1l1-.2l1-.2l1-.3l1-.3l1-.4l1-.3l1-.3l1-.2l1-.2l1-.1l1-.1l1-.1l1-.2l1-.2l1-.2l1-.3l1-.3l1-.3l1-.3l1-.3l1-.2l1-.2l1-.2l1-.1l1-.2l1-.2l1-.2l1-.3l1-.3l1-.3l1-.3l1-.3l1-.2l1-.1l1-.1l1 0l1-.1l1 0l1 0l1-.1l1 0l1 0l1 0l1 0l1 .1l1 .1l1 .1l1 .1l1 .1l1 0l1-.1l1 0l1-.1l1-.1l1-.1l1 .1l1 .1l1 .2l1 .3l1 .4l1 .3l1 .3l1 .3l1 .2l1 .1l1 .1l1 0l1 0l1 0l1 .1l1 0l1 .1l1 .2l1 0l1 .1l1 0l1 0l1-.1l1 0l1-.1l1 0l1 0l1 0l1 0l1 0l1-.1l1-.1l1-.1l1-.1l1-.2l1-.2l1-.1l1-.1l1-.1l1-.2l1-.3l1-.4l1-.6l1-.6l1-.8l1-.9l1-.9l1-1l1-1.1l1-1.3l1-1.4l1-1.5l1-1.6l1-1.7l1-1.8l1-2l1-2.3l1-2.6l1-2.8l1-3.1l1-3.3l1-3.8l1-4.3l1-4.6l1-4.6l1-4.5l1-4.7l1-4.8l1-4.7l1-4.3l1-3.9l1-3.6l1-3.4l1-3.1l1-2.6l1-2.3l1-1.9l1-1.2l1-.8l1-.4l1 .2l1 .9l1 1l1 1.6l1 2l1 2.3l1 2.5l1 2.8l1 3.1l1 3.4l1 3.5l1 4l1 4.7l1 4.9l1 4.9l1 4.7l1 4.6l1 4.7l1 4.7l1 4.8l1 4.9l1 5.1l1 5.1l1 5.4l1 5.1l1 3.9l1 3l1 2.4l1 1.9l1 1.4l1 1.2l1 .9l1 .5l1 .4l1 .3l1 .2l1 .1l1 0l1 0l1-.1l1 0l1-.1l1-.1l1-.1l1 0l1 0l1 0l1 .1l1 0l1 .1l1 .1l1 .2l1 .1l1 .2l1 .2l1 .3l1 .4l1 .5l1 .5l1 .6l1 .4l1 .3l1 .1l1 0l1 0l1 .1l1 .1l1 .2l1 .4l1 .5l1 .6l1 .7l1 .6l1 .7l1 .5l1 .4l1 .4l1 .3l1 .2l1 .2l1 .2l1 .3l1 .2l1 .3l1 .2l1 .2l1 .1l1 .2l1 .1l1 .2l1 .3l1 .3l1 .4l1 .5l1 .4l1 .4l1 .3l1 .1l1 0l1-.2l1-.2l1-.2l1-.2l1-.1l1 0l1 .2l1 .2l1 .2l1 .1l1 0l1-.1l1-.3l1-.3l1-.5l1-.3l1-.3l1-.1l1 .1l1 .3l1 .4l1 .4l1 .5l1 .3l1 .2l1 .1l1 0l1 0l1 0l1-.1l1 .1l1 0l1 .1l1 .1l1 0l1 0l1-.1l1-.1l1-.1l1 .1l1 .1l1 .3l1 .4l1 .4l1 .5l1 .3l1 .1l1 0l1-.2l1-.4l1-.5l1-.4l1-.4l1-.1l1 0l1 .2l1 .3l1 .3l1 .2l1 .1l1 0l1-.2l1-.3l1-.3l1-.2l1-.1l1 .1l1 .3l1 .4l1 .5l1 .4l1 .5l1 .3l1 .2l1 .1l1 0l1-.1l1 0l1 0l1 0l1 .1l1 0l1 0l1-.1l1-.1l1-.2l1-.2l1-.1l1 0l1 .2l1 .3l1 .5l1 .5l1 .4l1 .3l1 .1l1 0l1-.3l1-.5l1-.5l1-.4l1-.3l1-.1l1 0l1 .3l1 .4l1 .4l1 .4l1 .2l1 .1l1 0l1-.1l1-.1l1-.1l1 0l1 .2l1 .3l1 .4l1 .4l1 .4l1 .3l1 .1l1 .1l1-.1l1-.1l1-.1l1 0l1-.1l1 0l1 0l1 0l1-.1l1-.1l1-.3l1-.3l1-.2l1-.2l1 0l1 .2l1 .4l1 .5l1 .5l1 .5l1 .3l1 .2l1-.1l1-.3l1-.5l1-.5l1-.4l1-.2l1-.1l1 .2l1 .3l1 .5l1 .5l1 .4l1 .3l1 .2l1 .1l1-.1l1 0l1 0l1 0l1 .2l1 .3l1 .2l1 .3l1 .2l1 .1l1 0l1-.1l1-.2l1-.1l1-.1l1 0l1 0l1 .1l1 .1l1 .1l1 0l1-.2l1-.1l1-.2l1-.2l1 0l1 .2l1 .3l1 .6l1 .6l1 .8l1 .6l1 .5l1 .2l1 0l1-.2l1-.3l1-.3l1-.3l1-.1l1 .1l1 .4l1 .4l1 .6l1 .6l1 .6l.5 .2"/><path d="M48 182.3l1-.3l1-.3l1-.2l1-.3l1-.3l1-.2l1-.2l1-.2l1-.3l1-.2l1-.3l1-.4l1-.3l1-.3l1-.3l1-.2l1-.1l1-.1l1-.1l1 0l1-.1l1-.1l1-.2l1-.2l1-.3l1-.3l1-.4l1-.3l1-.3l1-.3l1-.3l1-.3l1-.2l1-.3l1-.3l1-.4l1-.3l1-.3l1-.4l1-.3l1-.2l1-.3l1-.1l1-.2l1-.1l1-.2l1-.1l1-.2l1-.2l1-.2l1-.1l1-.1l1 0l1 0l1 0l1 0l1 .1l1 0l1 0l1 0l1-.1l1-.2l1-.1l1-.1l1-.1l1-.1l1 0l1 .1l1 .1l1 .2l1 .2l1 .2l1 .1l1 .2l1 .1l1 .1l1 .1l1 .2l1 .2l1 .2l1 .2l1 .2l1 .1l1 .1l1 .1l1-.1l1 0l1-.1l1 0l1 0l1 .1l1 .1l1 .2l1 .2l1 .2l1 .2l1 .1l1 0l1 0l1-.1l1-.2l1-.1l1-.2l1-.1l1-.1l1-.1l1-.1l1-.1l1-.1l1-.2l1-.2l1-.4l1-.5l1-.5l1-.6l1-.6l1-.6l1-.6l1-.7l1-.8l1-1l1-1.2l1-1.4l1-1.6l1-1.7l1-1.8l1-1.9l1-2.1l1-2.2l1-2.5l1-2.6l1-2.9l1-3.1l1-3.6l1-4.1l1-4.4l1-4.4l1-4.3l1-4.5l1-4.5l1-4.3l1-4l1-3.4l1-3.3l1-3l1-2.8l1-2.3l1-2.1l1-1.8l1-1l1-.8l1-.3l1 .4l1 .9l1 1.2l1 1.7l1 2.1l1 2.2l1 2.5l1 2.8l1 2.9l1 3.2l1 3.5l1 4l1 4.6l1 4.9l1 4.9l1 4.7l1 4.6l1 4.6l1 4.6l1 4.6l1 4.7l1 4.7l1 4.6l1 5l1 4.5l1 3.4l1 2.7l1 2.4l1 1.8l1 1.4l1 1.2l1 .9l1 .6l1 .3l1 .3l1 .2l1 .1l1 0l1 .1l1 0l1 .1l1 0l1-.1l1-.1l1-.2l1-.2l1-.3l1-.2l1-.1l1 0l1 .1l1 .2l1 .3l1 .4l1 .3l1 .4l1 .4l1 .3l1 .4l1 .3l1 .3l1 .2l1 .3l1 .2l1 .3l1 .4l1 .4l1 .5l1 .4l1 .5l1 .3l1 .4l1 .3l1 .3l1 .3l1 .4l1 .4l1 .4l1 .5l1 .4l1 .4l1 .2l1 .2l1 .2l1 0l1 .1l1 .1l1 .2l1 .2l1 .3l1 .4l1 .3l1 .4l1 .2l1 .1l1 0l1-.1l1-.1l1-.1l1-.1l1-.1l1 .1l1 .3l1 .2l1 .3l1 .3l1 .2l1 .1l1 0l1-.1l1-.2l1-.2l1-.1l1 0l1 0l1 0l1 .1l1 0l1-.1l1-.1l1-.1l1-.3l1-.1l1-.1l1 0l1 .2l1 .4l1 .4l1 .6l1 .5l1 .4l1 .2l1 .1l1-.1l1-.3l1-.3l1-.3l1-.2l1-.1l1 0l1 .1l1 .1l1 .2l1 0l1 .1l1-.1l1-.1l1-.1l1-.1l1 0l1 .2l1 .2l1 .3l1 .4l1 .4l1 .2l1 .1l1 0l1-.1l1-.2l1-.2l1-.2l1 0l1 0l1 .2l1 .2l1 .2l1 .2l1 0l1 0l1-.2l1-.2l1-.3l1-.2l1-.1l1 .1l1 .2l1 .4l1 .4l1 .5l1 .3l1 .3l1 .1l1 0l1-.1l1-.2l1-.1l1-.1l1 0l1 .1l1 .2l1 .2l1 .1l1 .1l1 0l1-.1l1-.2l1-.1l1-.1l1 .1l1 .2l1 .3l1 .4l1 .4l1 .3l1 .2l1 .1l1-.1l1-.3l1-.3l1-.4l1-.2l1-.2l1 .1l1 .2l1 .3l1 .3l1 .4l1 .3l1 .2l1 .1l1 0l1-.1l1-.1l1 0l1 .1l1 .1l1 .2l1 .1l1 .2l1 0l1-.1l1-.2l1-.3l1-.3l1-.2l1-.2l1 .1l1 .2l1 .3l1 .4l1 .5l1 .4l1 .3l1 .1l1 0l1-.1l1-.2l1-.1l1-.1l1 0l1 .2l1 .2l1 .2l1 .3l1 .1l1 0l1-.1l1-.3l1-.3l1-.2l1-.2l1-.1l1 .1l1 .2l1 .3l1 .4l1 .3l1 .3l1 .1l1 .1l1 0l1 0l1 .1l1 .1l1 .3l1 .3l1 .3l1 .4l1 .2l1 .1l1 0l1-.3l1-.3l1-.3l1-.3l1-.2l1-.1l1 .2l1 .4l1 .5l1 .5l1 .5l1 .5l1 .3l1 .2l1 .1l1 0l1 .1l1 .1l1 .1l1 .3l1 .2l1 .3l1 .3l.5 .1"/><path d="M48 182.3l1-.2l1-.3l1-.2l1-.3l1-.2l1-.2l1-.3l1-.2l1-.1l1-.2l1-.2l1-.1l1-.2l1-.1l1-.1l1-.1l1-.2l1-.1l1-.2l1-.2l1-.2l1-.2l1-.3l1-.2l1-.3l1-.3l1-.3l1-.3l1-.3l1-.3l1-.2l1-.3l1-.2l1-.2l1-.2l1-.1l1-.1l1-.2l1-.1l1-.1l1-.2l1-.2l1-.3l1-.2l1-.3l1-.3l1-.2l1-.3l1-.3l1-.2l1-.2l1-.1l1-.1l1-.1l1-.1l1 0l1 0l1 0l1 0l1 .1l1 0l1 .1l1 .1l1 .1l1 .1l1 .1l1 0l1 .1l1 0l1 .1l1 0l1 .1l1 0l1 .1l1 .1l1 0l1 .1l1 .1l1 .1l1 .1l1 .2l1 .1l1 .2l1 .1l1 .2l1 .1l1 .1l1 .1l1 .1l1 .1l1 .1l1 .1l1 .1l1 0l1 0l1 .1l1 0l1 0l1 0l1-.1l1 0l1-.1l1 0l1-.1l1-.1l1-.1l1-.1l1-.1l1-.1l1-.2l1-.3l1-.3l1-.5l1-.5l1-.6l1-.7l1-.7l1-.8l1-.8l1-.9l1-1l1-1.3l1-1.4l1-1.5l1-1.6l1-1.7l1-1.8l1-2l1-2.2l1-2.5l1-2.6l1-2.9l1-3.1l1-3.7l1-4.1l1-4.2l1-4.2l1-4.3l1-4.5l1-4.4l1-4.3l1-3.9l1-3.4l1-3.4l1-3.1l1-2.7l1-2.3l1-2.1l1-1.7l1-.9l1-.7l1-.1l1 .5l1 .9l1 1.2l1 1.7l1 2l1 2.1l1 2.5l1 2.6l1 3l1 3.1l1 3.4l1 4l1 4.4l1 4.7l1 4.5l1 4.4l1 4.3l1 4.4l1 4.4l1 4.5l1 4.5l1 4.6l1 4.8l1 4.8l1 4.2l1 3.1l1 2.5l1 2.1l1 1.7l1 1.3l1 1l1 .8l1 .5l1 .4l1 .2l1 .2l1 .2l1 0l1 0l1 .1l1-.1l1 0l1-.1l1-.1l1-.1l1-.2l1 0l1-.1l1 0l1 .1l1 .1l1 .1l1 .2l1 .1l1 .2l1 .1l1 .2l1 .2l1 .3l1 .4l1 .3l1 .4l1 .3l1 .4l1 .4l1 .4l1 .5l1 .5l1 .6l1 .6l1 .7l1 .6l1 .6l1 .6l1 .5l1 .5l1 .3l1 .3l1 .3l1 .1l1 .1l1 0l1 0l1 0l1 0l1 0l1 .1l1 .1l1 .1l1 .3l1 .3l1 .3l1 .4l1 .4l1 .5l1 .4l1 .4l1 .4l1 .3l1 .3l1 .2l1 .1l1 0l1 0l1-.2l1-.1l1-.3l1-.3l1-.2l1-.3l1-.3l1-.3l1-.2l1-.1l1-.1l1 0l1 .1l1 .2l1 .2l1 .2l1 .3l1 .3l1 .3l1 .3l1 .2l1 .3l1 .1l1 .2l1 0l1 .1l1-.1l1 0l1-.1l1-.1l1-.1l1-.1l1-.1l1 0l1 0l1 0l1 0l1 0l1 .1l1 .1l1 .1l1 .1l1 .1l1 .1l1 0l1 .1l1 0l1 0l1 .1l1 0l1 0l1 0l1 0l1 .1l1 0l1 .1l1 .1l1 .2l1 .1l1 .1l1 .2l1 .1l1 .1l1 .1l1 .1l1 0l1 .1l1-.1l1 0l1-.1l1-.1l1-.1l1-.1l1-.1l1 0l1-.1l1 .1l1 0l1 .1l1 .1l1 .2l1 .2l1 .3l1 .2l1 .3l1 .2l1 .2l1 .2l1 .2l1 .1l1 .1l1 0l1 0l1 0l1-.1l1-.1l1-.1l1-.1l1-.1l1 0l1-.1l1 0l1 .1l1 0l1 .1l1 .2l1 .1l1 .2l1 .2l1 .1l1 .2l1 .1l1 .1l1 .1l1 0l1 0l1 .1l1-.1l1 0l1 0l1 0l1 0l1 0l1 .1l1 0l1 .1l1 .1l1 .2l1 .1l1 .2l1 .1l1 .1l1 .1l1 .1l1 .1l1 0l1-.1l1 0l1-.1l1-.1l1-.1l1-.1l1-.1l1 0l1 0l1 0l1 .1l1 .1l1 .2l1 .2l1 .2l1 .3l1 .3l1 .2l1 .3l1 .2l1 .2l1 .1l1 0l1 .1l1-.1l1-.1l1-.1l1-.2l1-.2l1-.1l1-.2l1-.1l1 0l1 0l1 0l1 .2l1 .2l1 .2l1 .4l1 .3l1 .4l1 .4l1 .3l1 .4l1 .3l1 .2l1 .2l1 .1l1 .1l1 0l1 0l1-.1l1-.1l1 0l1-.1l1 0l1 0l1 .1l1 .1l1 .2l1 .2l1 .3l1 .3l1 .4l1 .4l.5 .2"/><path d="M48 182.3l1-.2l1-.2l1-.2l1-.2l1-.2l1-.3l1-.2l1-.2l1-.2l1-.2l1-.2l1-.2l1-.1l1-.2l1-.1l1-.1l1-.1l1-.1l1-.1l1-.1l1-.2l1-.2l1-.2l1-.2l1-.2l1-.3l1-.3l1-.3l1-.3l1-.3l1-.3l1-.3l1-.2l1-.3l1-.1l1-.2l1-.1l1-.1l1-.2l1-.1l1-.2l1-.1l1-.3l1-.2l1-.2l1-.3l1-.2l1-.2l1-.2l1-.2l1-.2l1-.1l1 0l1-.1l1-.1l1 0l1 0l1-.1l1 0l1 0l1 0l1 0l1-.1l1 0l1 0l1 0l1 0l1 0l1 .1l1 0l1 .2l1 .1l1 .2l1 .2l1 .2l1 .2l1 .2l1 .2l1 .2l1 .2l1 .2l1 .1l1 .1l1 .1l1 0l1 .1l1-.1l1 0l1 0l1 0l1 0l1 0l1 0l1 .1l1 0l1 .1l1 .2l1 .1l1 .1l1 0l1 .1l1 0l1-.1l1 0l1-.1l1-.2l1-.2l1-.2l1-.2l1-.2l1-.2l1-.3l1-.4l1-.5l1-.5l1-.5l1-.6l1-.6l1-.7l1-.7l1-.9l1-1.1l1-1.3l1-1.4l1-1.5l1-1.7l1-1.7l1-2l1-2.1l1-2.4l1-2.6l1-2.7l1-2.9l1-3.4l1-3.8l1-4.2l1-4.2l1-4l1-4.2l1-4.3l1-4.2l1-3.8l1-3.5l1-3.2l1-3l1-2.7l1-2.4l1-2l1-1.8l1-1.1l1-.7l1-.4l1 .2l1 .8l1 1l1 1.4l1 1.9l1 2.1l1 2.3l1 2.5l1 2.8l1 3l1 3.2l1 3.6l1 4.2l1 4.5l1 4.6l1 4.5l1 4.3l1 4.3l1 4.3l1 4.4l1 4.5l1 4.6l1 4.6l1 4.9l1 4.7l1 3.8l1 2.9l1 2.4l1 2l1 1.4l1 1.2l1 .9l1 .6l1 .3l1 .3l1 .1l1 .1l1-.1l1 0l1-.1l1-.2l1-.1l1-.2l1-.1l1-.2l1-.1l1-.1l1 .1l1 0l1 .2l1 .2l1 .2l1 .3l1 .2l1 .2l1 .3l1 .2l1 .3l1 .3l1 .4l1 .3l1 .3l1 .3l1 .2l1 .3l1 .3l1 .3l1 .4l1 .5l1 .4l1 .5l1 .4l1 .5l1 .4l1 .4l1 .3l1 .4l1 .2l1 .2l1 .2l1 .2l1 .1l1 .2l1 .1l1 .2l1 .1l1 .2l1 .2l1 .2l1 .2l1 .2l1 .2l1 .2l1 .1l1 .1l1 .2l1 .1l1 .1l1 .1l1 .1l1 .1l1 .1l1 .2l1 .1l1 .2l1 .2l1 .2l1 .2l1 .1l1 .1l1 0l1-.1l1-.1l1-.1l1-.2l1-.3l1-.3l1-.3l1-.2l1-.3l1-.2l1-.1l1 0l1 .1l1 .1l1 .2l1 .3l1 .3l1 .4l1 .4l1 .3l1 .4l1 .2l1 .3l1 .1l1 .1l1-.1l1 0l1-.1l1-.2l1-.1l1-.2l1-.1l1-.1l1 0l1 0l1 0l1 .1l1 .1l1 .2l1 .1l1 .1l1 .1l1 .1l1 .1l1 0l1 0l1 0l1-.1l1-.1l1 0l1-.1l1 0l1 0l1 0l1 0l1 .1l1 .2l1 .1l1 .2l1 .2l1 .1l1 .2l1 .1l1 .1l1 .2l1 0l1 .1l1 .1l1 0l1 .1l1 0l1 .1l1 .1l1 .1l1 .1l1 0l1 .1l1 .1l1 0l1 0l1 0l1 0l1-.1l1-.2l1-.1l1-.1l1-.2l1-.1l1 0l1 0l1 0l1 .2l1 .2l1 .3l1 .3l1 .4l1 .4l1 .4l1 .4l1 .4l1 .3l1 .2l1 .1l1 0l1 0l1-.2l1-.2l1-.3l1-.4l1-.3l1-.3l1-.3l1-.2l1-.1l1-.1l1 .1l1 .1l1 .2l1 .2l1 .3l1 .4l1 .3l1 .3l1 .2l1 .3l1 .1l1 .1l1 .1l1 0l1 0l1-.1l1 0l1-.1l1 0l1 0l1 0l1 0l1 .1l1 .1l1 .1l1 .1l1 .1l1 .2l1 0l1 .1l1 .1l1 0l1 0l1 0l1-.1l1 0l1 0l1 0l1 0l1 0l1 .1l1 .1l1 0l1 .2l1 .1l1 .1l1 .1l1 .1l1 .1l1 .1l1 0l1 .1l1 .1l1 .1l1 .1l1 .2l1 .2l1 .2l1 .3l1 .3l1 .3l1 .3l1 .4l1 .2l1 .3l1 .2l1 .1l1 .1l1 0l1-.1l1-.2l1-.2l1-.2l1-.2l1-.2l1-.1l1-.1l1 .1l1 .1l.5 .1"/><path d="M48 182.3l1-.3l1-.2l1-.3l1-.2l1-.2l1-.2l1-.3l1-.2l1-.3l1-.3l1-.3l1-.3l1-.2l1-.2l1-.1l1-.1l1-.1l1 0l1-.1l1-.1l1-.1l1-.2l1-.2l1-.3l1-.3l1-.3l1-.3l1-.3l1-.2l1-.2l1-.2l1-.2l1-.2l1-.2l1-.3l1-.3l1-.3l1-.3l1-.3l1-.3l1-.3l1-.2l1-.3l1-.2l1-.1l1-.2l1-.2l1-.1l1-.2l1-.2l1-.1l1-.2l1-.1l1-.1l1 0l1 0l1 0l1 .1l1 .1l1 0l1 .1l1 0l1-.1l1-.1l1-.1l1-.1l1 0l1-.1l1 .1l1 .1l1 .1l1 .2l1 .3l1 .2l1 .2l1 .2l1 .2l1 .1l1 .1l1 .1l1 .1l1 .1l1 .2l1 .1l1 .2l1 .1l1 .1l1 .1l1 0l1 0l1-.1l1-.1l1-.1l1 0l1-.1l1 0l1 .1l1 .1l1 .1l1 .2l1 .1l1 .1l1 0l1 0l1-.1l1-.1l1-.2l1-.1l1-.2l1-.2l1-.2l1-.2l1-.3l1-.5l1-.5l1-.5l1-.7l1-.7l1-.8l1-.8l1-1l1-1.2l1-1.2l1-1.4l1-1.4l1-1.5l1-1.6l1-1.7l1-2l1-2.3l1-2.4l1-2.6l1-2.9l1-3.3l1-3.8l1-3.9l1-4l1-3.9l1-4l1-4.1l1-3.9l1-3.6l1-3.1l1-3.1l1-2.8l1-2.6l1-2.2l1-1.9l1-1.6l1-.9l1-.7l1-.2l1 .4l1 .9l1 1.1l1 1.5l1 1.9l1 2l1 2.2l1 2.4l1 2.6l1 2.8l1 3.1l1 3.5l1 4.1l1 4.3l1 4.4l1 4.2l1 4.1l1 4.2l1 4.1l1 4.2l1 4.2l1 4.3l1 4.3l1 4.5l1 4.2l1 3.2l1 2.5l1 2.1l1 1.8l1 1.3l1 1.2l1 .8l1 .6l1 .3l1 .2l1 .1l1 .1l1 0l1 0l1 0l1 0l1-.1l1 0l1 0l1-.1l1-.1l1-.1l1-.1l1-.1l1-.1l1 0l1 .1l1 .1l1 .1l1 .3l1 .2l1 .4l1 .4l1 .5l1 .4l1 .4l1 .4l1 .2l1 .3l1 .2l1 .3l1 .3l1 .4l1 .5l1 .6l1 .6l1 .6l1 .5l1 .4l1 .4l1 .3l1 .2l1 .1l1 .2l1 .1l1 .2l1 .3l1 .4l1 .4l1 .4l1 .4l1 .3l1 .3l1 .2l1 .2l1 .1l1 .1l1 .1l1 .1l1 .1l1 .2l1 .2l1 .2l1 .2l1 0l1 0l1-.1l1-.2l1-.3l1-.3l1-.2l1-.2l1-.1l1 .1l1 .2l1 .3l1 .3l1 .4l1 .3l1 .3l1 .1l1 .1l1-.1l1 0l1-.1l1 0l1 0l1 .1l1 .1l1 .2l1 .2l1 .2l1 0l1-.1l1-.1l1-.3l1-.3l1-.3l1-.2l1-.1l1 0l1 .1l1 .3l1 .3l1 .3l1 .3l1 .1l1 .1l1 0l1-.1l1-.1l1-.2l1-.1l1 .1l1 .1l1 .2l1 .3l1 .4l1 .3l1 .2l1 .2l1 0l1-.1l1-.2l1-.2l1-.2l1-.1l1 0l1 .1l1 .1l1 .2l1 .3l1 .2l1 .1l1 0l1-.1l1-.1l1-.2l1-.2l1-.2l1 0l1 .1l1 .2l1 .3l1 .3l1 .4l1 .3l1 .1l1 .1l1-.1l1-.2l1-.2l1-.2l1-.2l1-.1l1 .1l1 .1l1 .3l1 .3l1 .3l1 .3l1 .2l1 .1l1 .1l1-.1l1 0l1 0l1 .1l1 .1l1 .3l1 .3l1 .3l1 .4l1 .2l1 .1l1-.1l1-.2l1-.3l1-.4l1-.5l1-.3l1-.3l1-.2l1 0l1 .2l1 .2l1 .3l1 .3l1 .2l1 .2l1 .1l1 0l1 0l1 .1l1 .1l1 .2l1 .2l1 .4l1 .3l1 .4l1 .3l1 .2l1 .1l1-.1l1-.2l1-.3l1-.4l1-.3l1-.3l1-.1l1 .1l1 .1l1 .3l1 .3l1 .3l1 .2l1 .1l1 0l1 0l1-.2l1-.1l1-.1l1-.1l1 .1l1 .2l1 .2l1 .3l1 .2l1 .3l1 .1l1 0l1-.1l1-.2l1-.2l1-.2l1-.1l1 0l1 .2l1 .3l1 .4l1 .5l1 .4l1 .4l1 .2l1 .2l1 0l1-.1l1-.1l1-.1l1 0l1 .1l1 .2l1 .2l1 .4l1 .3l1 .3l1 .3l1 .1l1 0l1-.1l1-.2l1-.2l1-.1l1-.1l1 .1l1 .2l1 .3l1 .4l1 .4l1 .4l.5 .1"/><path d="M48 182.3l1-.2l1-.2l1-.2l1-.1l1-.2l1-.2l1-.1l1-.2l1-.3l1-.2l1-.3l1-.2l1-.2l1-.1l1-.1l1-.1l1-.1l1-.1l1 0l1-.1l1-.2l1-.2l1-.2l1-.2l1-.2l1-.3l1-.2l1-.3l1-.2l1-.2l1-.2l1-.2l1-.2l1-.2l1-.2l1-.3l1-.2l1-.2l1-.3l1-.2l1-.2l1-.2l1-.1l1-.2l1-.2l1-.1l1-.2l1-.2l1-.2l1-.2l1-.2l1-.1l1-.2l1-.1l1 0l1-.1l1 0l1 .1l1 0l1 .1l1 .1l1 0l1 0l1 0l1 0l1-.1l1 0l1 0l1 0l1 .1l1 .1l1 .1l1 .2l1 .2l1 .1l1 .1l1 .1l1 .1l1 .1l1 .1l1 0l1 .1l1 .2l1 .2l1 .2l1 .2l1 .2l1 .2l1 .1l1 .1l1 .1l1 0l1 0l1-.1l1 0l1 0l1-.1l1 .1l1 0l1 0l1 0l1 .1l1-.1l1 0l1-.1l1-.2l1-.1l1-.2l1-.2l1-.2l1-.3l1-.3l1-.3l1-.4l1-.4l1-.6l1-.5l1-.7l1-.7l1-.8l1-.9l1-1.1l1-1.3l1-1.4l1-1.4l1-1.5l1-1.5l1-1.8l1-1.9l1-2.2l1-2.3l1-2.5l1-2.8l1-3.3l1-3.7l1-3.8l1-3.8l1-3.9l1-4l1-4l1-3.9l1-3.4l1-3.1l1-2.9l1-2.7l1-2.5l1-2.1l1-1.9l1-1.5l1-.9l1-.6l1-.3l1 .4l1 .8l1 1l1 1.5l1 1.8l1 1.9l1 2.1l1 2.4l1 2.5l1 2.7l1 2.9l1 3.4l1 3.9l1 4.1l1 4.1l1 3.9l1 4l1 4l1 4.1l1 4.1l1 4.2l1 4.2l1 4.3l1 4.4l1 3.9l1 2.8l1 2.2l1 2l1 1.5l1 1.1l1 1l1 .8l1 .5l1 .3l1 .2l1 .2l1 0l1 0l1 0l1-.1l1-.1l1-.1l1-.1l1-.1l1-.1l1 0l1 .1l1 0l1 .2l1 .1l1 .2l1 .1l1 .1l1 .1l1 .1l1 .1l1 .2l1 .3l1 .3l1 .5l1 .4l1 .5l1 .4l1 .3l1 .4l1 .2l1 .3l1 .3l1 .4l1 .3l1 .4l1 .5l1 .5l1 .6l1 .5l1 .6l1 .5l1 .4l1 .3l1 .3l1 .1l1 .2l1 .2l1 .1l1 .2l1 .3l1 .3l1 .4l1 .4l1 .3l1 .4l1 .3l1 .2l1 .1l1 0l1-.1l1-.1l1-.1l1-.1l1-.1l1 0l1 .1l1 .1l1 .2l1 .1l1 .2l1 0l1 .1l1-.1l1 0l1-.1l1 0l1 0l1 .1l1 .1l1 .2l1 .2l1 .2l1 .1l1 .1l1-.1l1-.1l1-.2l1-.2l1-.3l1-.2l1 0l1 0l1 .2l1 .2l1 .4l1 .4l1 .3l1 .3l1 .2l1 0l1 0l1-.1l1-.1l1-.2l1-.1l1-.1l1 .1l1 0l1 .2l1 .1l1 .2l1 .1l1 0l1-.1l1-.1l1-.1l1-.1l1-.1l1 0l1 .1l1 .2l1 .2l1 .3l1 .3l1 .2l1 .2l1 0l1-.1l1-.1l1-.3l1-.2l1-.2l1-.1l1 .1l1 .1l1 .2l1 .4l1 .3l1 .4l1 .3l1 .2l1 .1l1 0l1-.1l1-.1l1-.2l1-.1l1-.1l1 .1l1 0l1 .1l1 .2l1 .1l1 0l1 0l1-.1l1-.1l1-.1l1-.1l1-.1l1 .1l1 .1l1 .3l1 .4l1 .4l1 .4l1 .4l1 .3l1 .2l1 0l1 0l1-.2l1-.2l1-.2l1-.2l1-.1l1 0l1 .1l1 .2l1 .2l1 .2l1 .2l1 .1l1 0l1-.1l1-.1l1-.1l1-.2l1-.1l1 0l1 .1l1 .1l1 .2l1 .2l1 .2l1 .2l1 0l1 0l1-.1l1-.1l1-.2l1 0l1 0l1 .1l1 .3l1 .3l1 .5l1 .4l1 .4l1 .3l1 .2l1 0l1-.1l1-.2l1-.3l1-.3l1-.3l1-.1l1-.1l1 0l1 .1l1 .1l1 .2l1 .1l1 .1l1 0l1 0l1 0l1-.1l1 0l1 .1l1 .1l1 .2l1 .4l1 .3l1 .4l1 .3l1 .3l1 .1l1 0l1 0l1-.2l1-.2l1-.1l1-.1l1 .1l1 .1l1 .3l1 .4l1 .4l1 .4l1 .4l1 .2l1 .2l1 0l1-.1l1-.1l1-.1l1-.1l1 0l1 .1l1 .2l1 .2l1 .3l1 .4l1 .2l1 .3l1 .2l1 .1l.5 0"/><path d="M48 182.3l1-.2l1-.2l1-.2l1-.2l1-.2l1-.1l1-.2l1-.1l1-.1l1-.1l1-.2l1-.1l1-.1l1-.1l1-.1l1-.1l1-.2l1-.1l1-.1l1-.2l1-.2l1-.2l1-.2l1-.3l1-.2l1-.3l1-.2l1-.2l1-.2l1-.1l1-.2l1-.2l1-.2l1-.3l1-.2l1-.2l1-.3l1-.2l1-.2l1-.3l1-.1l1-.2l1-.2l1-.2l1-.2l1-.1l1-.2l1-.1l1-.2l1-.1l1 0l1-.1l1 0l1 0l1 0l1 0l1 0l1 0l1-.1l1-.1l1-.1l1-.1l1-.1l1-.1l1-.1l1 0l1 0l1 .1l1 .1l1 .2l1 .1l1 .1l1 .2l1 .1l1 .1l1 .1l1 .1l1 .1l1 .1l1 .1l1 .2l1 .2l1 .1l1 .2l1 .1l1 .2l1 0l1 .1l1 .1l1 .1l1 .1l1 .1l1 .1l1 .1l1 .2l1 .1l1 0l1 .1l1-.1l1 0l1-.1l1-.2l1-.1l1-.1l1-.2l1-.1l1 0l1-.1l1-.1l1-.1l1-.2l1-.3l1-.3l1-.5l1-.5l1-.6l1-.6l1-.7l1-.6l1-.7l1-.8l1-1l1-1.1l1-1.2l1-1.3l1-1.5l1-1.5l1-1.6l1-1.9l1-2l1-2.2l1-2.4l1-2.5l1-3l1-3.4l1-3.6l1-3.7l1-3.7l1-3.7l1-3.9l1-3.9l1-3.5l1-3.1l1-2.9l1-2.7l1-2.4l1-2.1l1-1.8l1-1.6l1-1l1-.6l1-.4l1 .2l1 .6l1 .9l1 1.2l1 1.6l1 1.8l1 2l1 2.2l1 2.5l1 2.6l1 2.9l1 3.2l1 3.7l1 4l1 4.1l1 4l1 3.8l1 3.9l1 4l1 4l1 4.1l1 4.1l1 4.1l1 4.4l1 4.1l1 3.2l1 2.4l1 2l1 1.6l1 1.2l1 1l1 .8l1 .5l1 .4l1 .2l1 .2l1 .2l1 0l1 0l1 0l1-.1l1-.1l1-.2l1-.2l1-.1l1-.2l1-.1l1 0l1 0l1 0l1 .1l1 .1l1 .1l1 .2l1 .2l1 .2l1 .3l1 .5l1 .5l1 .6l1 .5l1 .5l1 .4l1 .3l1 .2l1 .3l1 .2l1 .3l1 .3l1 .3l1 .4l1 .5l1 .4l1 .5l1 .5l1 .4l1 .3l1 .3l1 .3l1 .2l1 .2l1 .2l1 .2l1 .2l1 .2l1 .2l1 .2l1 .1l1 .1l1 .1l1 .1l1 0l1 0l1 .1l1 .2l1 .2l1 .3l1 .3l1 .3l1 .3l1 .3l1 .2l1 .1l1 0l1 0l1-.1l1-.1l1-.1l1 0l1-.1l1 0l1 .1l1 0l1 0l1 .1l1 0l1-.1l1 0l1 0l1 0l1 0l1 .1l1 .2l1 .1l1 .2l1 .1l1 0l1 0l1-.2l1-.2l1-.2l1-.2l1-.1l1-.1l1 0l1 .2l1 .2l1 .3l1 .2l1 .3l1 .2l1 .2l1 .1l1 0l1 0l1-.1l1 0l1 .1l1 0l1 .2l1 .1l1 .1l1 .2l1 .1l1 0l1 0l1 0l1 0l1 .1l1 .1l1 .1l1 .1l1 .2l1 .1l1 .1l1 0l1-.1l1-.2l1-.2l1-.4l1-.3l1-.2l1-.2l1 0l1 0l1 .2l1 .2l1 .3l1 .4l1 .2l1 .3l1 .2l1 .1l1 .1l1 .1l1 .1l1 .1l1 .2l1 .2l1 .1l1 .2l1 .1l1 0l1 0l1 0l1-.1l1 0l1 0l1 0l1 .2l1 .2l1 .2l1 .2l1 .2l1 .1l1 0l1-.1l1-.1l1-.3l1-.2l1-.3l1-.1l1-.1l1 0l1 .2l1 .1l1 .3l1 .2l1 .2l1 .1l1 .1l1 .1l1 0l1 0l1 .1l1 .1l1 .1l1 .1l1 .1l1 .1l1 .1l1 0l1 0l1-.1l1 0l1 0l1 0l1 .1l1 .2l1 .3l1 .4l1 .3l1 .3l1 .3l1 .1l1 0l1-.1l1-.2l1-.3l1-.3l1-.2l1-.2l1-.1l1 0l1 0l1 .1l1 .1l1 0l1 .1l1 0l1 0l1 .1l1 0l1 .2l1 .1l1 .3l1 .2l1 .3l1 .2l1 .1l1 .2l1 0l1 0l1 0l1 0l1 0l1 .2l1 .2l1 .3l1 .4l1 .4l1 .3l1 .3l1 .2l1 .1l1 0l1-.1l1-.2l1-.1l1-.2l1-.1l1 0l1 0l1 .2l1 .1l1 .2l1 .1l1 .2l1 .1l1 .2l1 .2l1 .2l1 .2l1 .4l1 .3l.5 .2"/><path d="M48 182.3l1-.3l1-.3l1-.2l1-.3l1-.2l1-.2l1-.3l1-.1l1-.2l1-.1l1-.1l1-.1l1 0l1-.1l1-.1l1 0l1-.1l1-.1l1 0l1-.1l1 0l1 0l1 0l1 0l1 0l1-.1l1 0l1-.1l1-.1l1-.2l1-.1l1-.1l1-.1l1-.1l1-.1l1 0l1 0l1 0l1 0l1 0l1 0l1-.1l1-.3l1-.3l1-.3l1-.3l1-.2l1-.2l1-.1l1-.1l1-.1l1 0l1 .1l1 0l1 0l1 0l1-.1l1 0l1 0l1 0l1 .1l1 0l1 .1l1 0l1 .1l1 0l1 .1l1 0l1 0l1 0l1 0l1 .1l1 0l1 .1l1 .1l1 .2l1 .1l1 .2l1 .1l1 .1l1 .2l1 0l1 .1l1 .1l1 0l1 .1l1 0l1 .1l1 .1l1 .1l1 .2l1 .1l1 .1l1 .1l1 0l1 .1l1 0l1 .1l1 0l1 .1l1 .1l1 .1l1 0l1 .1l1 0l1 0l1-.1l1-.1l1-.2l1-.2l1-.2l1-.2l1-.2l1-.2l1-.2l1-.3l1-.3l1-.4l1-.5l1-.6l1-.7l1-.7l1-.7l1-.8l1-1.1l1-1.2l1-1.3l1-1.4l1-1.6l1-1.6l1-1.9l1-2.1l1-2.3l1-2.6l1-2.7l1-3.1l1-3.7l1-4.2l1-4.1l1-4.1l1-4.2l1-4.3l1-3.9l1-3.5l1-3.2l1-3l1-2.7l1-2.4l1-2l1-1.6l1-.9l1-.6l1 0l1 .5l1 .9l1 1.4l1 1.8l1 2l1 2.3l1 2.5l1 2.8l1 3l1 3.4l1 4l1 4.4l1 4.4l1 4.3l1 4l1 4.1l1 4.2l1 4.2l1 4.4l1 4.3l1 4.6l1 4.3l1 3.1l1 2.3l1 1.9l1 1.5l1 1.2l1 1.1l1 .9l1 .6l1 .5l1 .4l1 .1l1 .1l1 0l1 0l1 0l1-.1l1 0l1-.1l1-.1l1-.1l1-.1l1-.1l1-.1l1 0l1 0l1 0l1 .1l1 .1l1 .1l1 .1l1 .2l1 .2l1 .3l1 .2l1 .4l1 .4l1 .3l1 .3l1 .3l1 .2l1 .1l1 .1l1 .2l1 .2l1 .3l1 .3l1 .4l1 .5l1 .4l1 .5l1 .5l1 .5l1 .4l1 .4l1 .3l1 .3l1 .3l1 .3l1 .3l1 .3l1 .3l1 .3l1 .3l1 .3l1 .2l1 .2l1 .1l1 .1l1 0l1 .1l1 0l1 .1l1 .1l1 0l1 .1l1 .1l1 0l1-.1l1 0l1-.1l1-.1l1-.2l1 0l1-.1l1 0l1 .1l1 .1l1 .2l1 .2l1 .1l1 .2l1 .1l1 .1l1 0l1 0l1 0l1 .1l1 .1l1 .1l1 .1l1 .2l1 .2l1 .1l1 .1l1 0l1 0l1-.1l1-.1l1-.1l1-.1l1 0l1 0l1 0l1 .1l1 .1l1 .1l1 .1l1 0l1 0l1 0l1-.1l1-.1l1 0l1 0l1 .1l1 .1l1 .2l1 .1l1 .2l1 .2l1 .1l1 0l1 0l1 0l1-.1l1-.1l1 0l1 0l1 .1l1 .1l1 .2l1 .1l1 .2l1 .1l1 0l1 0l1 0l1-.1l1 0l1 0l1 .1l1 .1l1 .2l1 .2l1 .2l1 .2l1 .2l1 .1l1 0l1 0l1 0l1-.1l1 0l1 0l1 0l1 .1l1 .1l1 .1l1 .1l1 0l1 0l1 0l1-.1l1-.1l1-.1l1-.1l1-.1l1 0l1 .1l1 .2l1 .2l1 .2l1 .2l1 .2l1 .2l1 .1l1 .1l1 0l1 .1l1 .1l1 .2l1 .2l1 .2l1 .3l1 .2l1 .2l1 .2l1 0l1 0l1-.1l1-.1l1-.2l1-.1l1-.1l1-.1l1 0l1 0l1 0l1 0l1-.1l1 0l1-.1l1-.1l1-.2l1-.1l1-.1l1 0l1 .1l1 .2l1 .2l1 .3l1 .3l1 .3l1 .2l1 .2l1 .2l1 .1l1 .1l1 .1l1 .1l1 .2l1 .2l1 .2l1 .2l1 .2l1 .1l1 .1l1 0l1 0l1-.2l1-.2l1-.1l1-.2l1-.1l1-.1l1 0l1 0l1 .1l1 .1l1 0l1 0l1 0l1 0l1 0l1-.1l1 .1l1 .1l1 .2l1 .3l1 .3l1 .3l1 .4l1 .3l1 .3l1 .2l1 .2l1 .1l1 .1l1 .1l1 .2l1 .1l1 .2l1 .3l1 .2l1 .3l1 .2l1 .1l1 .1l1 .1l1 0l1-.1l1 0l.5 0"/><path d="M48 182.3l1-.3l1-.2l1-.3l1-.2l1-.3l1-.2l1-.2l1-.1l1-.2l1-.1l1-.1l1 0l1 0l1 0l1-.1l1 0l1 0l1 .1l1 0l1 0l1 0l1-.1l1 0l1 0l1-.1l1-.1l1 0l1-.1l1-.1l1-.1l1-.1l1 0l1-.1l1 0l1 0l1 0l1 .1l1 .1l1 .1l1 .1l1 0l1 .1l1-.2l1-.2l1-.2l1-.3l1-.1l1-.2l1-.2l1-.1l1-.1l1 0l1 0l1-.1l1 0l1 0l1 0l1 0l1-.1l1 0l1 0l1 0l1 0l1 0l1-.1l1 0l1 0l1 0l1 0l1 0l1 .1l1 .1l1 .1l1 .1l1 .1l1 .2l1 .1l1 .2l1 .2l1 .2l1 .1l1 .2l1 .2l1 .1l1 .2l1 .1l1 .1l1 .1l1 0l1 .1l1 .1l1 0l1 0l1 .1l1 0l1 0l1 0l1 .1l1 0l1 0l1 .1l1 0l1 .1l1 0l1 0l1 0l1 0l1 0l1 0l1 0l1 0l1-.1l1-.1l1-.1l1-.1l1-.2l1-.2l1-.1l1-.2l1-.2l1-.3l1-.4l1-.4l1-.5l1-.6l1-.6l1-.6l1-.8l1-1l1-1.1l1-1.3l1-1.4l1-1.5l1-1.8l1-2l1-2.2l1-2.5l1-3l1-3.5l1-3.9l1-3.7l1-3.9l1-3.9l1-3.7l1-3.3l1-2.9l1-2.7l1-2.3l1-2l1-1.6l1-.8l1-.6l1 .1l1 .7l1 .9l1 1.5l1 1.8l1 2l1 2.3l1 2.7l1 2.8l1 3.5l1 4l1 4l1 3.9l1 3.8l1 3.8l1 3.8l1 3.9l1 3.9l1 4.2l1 3.9l1 2.6l1 2l1 1.6l1 1.1l1 1l1 .8l1 .6l1 .7l1 .6l1 .5l1 .3l1 .3l1 .1l1 0l1-.1l1-.1l1 0l1-.1l1-.1l1-.1l1-.1l1-.1l1-.2l1-.1l1-.1l1-.1l1-.1l1 0l1 .1l1 .1l1 .2l1 .2l1 .2l1 .2l1 .2l1 .2l1 .2l1 .3l1 .3l1 .4l1 .2l1 .3l1 .2l1 .1l1 .2l1 .3l1 .2l1 .3l1 .4l1 .4l1 .5l1 .4l1 .5l1 .5l1 .4l1 .5l1 .4l1 .3l1 .3l1 .3l1 .2l1 .2l1 .1l1 .1l1 .1l1 .1l1 .1l1 .2l1 .1l1 .1l1 .1l1 .1l1 .2l1 .1l1 .1l1 .1l1 .1l1 .1l1 .1l1 0l1 .1l1 .1l1 0l1 .1l1 .1l1 0l1 .1l1 .1l1 .1l1 .1l1 .1l1 0l1 .1l1 .1l1 0l1 .1l1 0l1 0l1 0l1 0l1 0l1-.1l1-.1l1 0l1-.1l1-.1l1-.1l1-.1l1 0l1 0l1 0l1 0l1 .1l1 .1l1 .2l1 .2l1 .2l1 .2l1 .2l1 .2l1 .2l1 .2l1 .1l1 .2l1 0l1 .1l1 0l1 0l1-.1l1-.1l1-.1l1-.2l1-.1l1-.1l1-.1l1-.1l1-.1l1 0l1 0l1 .1l1 0l1 .2l1 .1l1 .2l1 .2l1 .3l1 .2l1 .2l1 .2l1 .2l1 .1l1 .2l1 .1l1 0l1 .1l1 0l1 0l1-.1l1 0l1-.1l1 0l1-.1l1-.1l1 0l1-.1l1 0l1 0l1 0l1 0l1 0l1 .1l1 0l1 .1l1 .1l1 .1l1 .2l1 .1l1 .2l1 .2l1 .2l1 .2l1 .2l1 .2l1 .2l1 .2l1 .2l1 .1l1 .2l1 .1l1 0l1 .1l1 0l1 0l1-.1l1-.1l1-.1l1-.2l1-.1l1-.2l1-.1l1-.2l1-.1l1-.1l1 0l1 0l1 0l1 .1l1 .2l1 .2l1 .2l1 .2l1 .3l1 .3l1 .3l1 .2l1 .3l1 .2l1 .2l1 .1l1 .1l1 0l1 0l1-.1l1-.1l1-.1l1-.1l1-.1l1-.2l1-.1l1-.1l1-.1l1 0l1 0l1 0l1 .1l1 .1l1 .2l1 .1l1 .2l1 .2l1 .2l1 .2l1 .2l1 .2l1 .1l1 .2l1 .1l1 .1l1 .1l1 0l1 .1l1 0l1 0l1 0l1 0l1 0l1 0l1 0l1 0l1 0l1 .1l1 0l1 0l1 .1l1 .1l1 .1l1 .1l1 .1l1 .2l1 .1l1 .2l1 .2l1 .3l1 .3l1 .2l1 .3l1 .4l1 .3l1 .3l1 .3l1 .3l1 .2l1 .3l1 .2l1 .1l.5 .1"/></g></g>
<g mask="url(#rgt)" fill="none" stroke="#1a1a1a" stroke-width="0.7"><path d="M48 182.3l1-.4l1-.4l1-.3l1-.4l1-.3l1-.3l1-.4l1-.3l1-.4l1-.4l1-.5l1-.4l1-.4l1-.3l1-.2l1-.3l1-.2l1-.2l1-.3l1-.3l1-.3l1-.3l1-.2l1-.2l1-.3l1-.2l1-.2l1-.2l1-.3l1-.3l1-.4l1-.5l1-.5l1-.5l1-.5l1-.5l1-.4l1-.3l1-.3l1-.3l1-.3l1-.3l1-.2l1-.3l1-.3l1-.3l1-.2l1-.2l1-.1l1-.1l1 0l1 0l1 .1l1 0l1 0l1-.1l1 0l1-.1l1-.1l1 0l1 0l1 .1l1 .1l1 .1l1 .1l1 .1l1-.1l1 0l1-.1l1-.1l1-.1l1-.1l1 0l1 .1l1 .1l1 .2l1 .2l1 .3l1 .2l1 .2l1 .2l1 .1l1 .2l1 .2l1 .1l1 .2l1 .2l1 .2l1 .2l1 .1l1 0l1 0l1-.1l1-.1l1-.1l1-.1l1 0l1 0l1 0l1 .1l1 0l1 0l1 0l1-.2l1-.2l1-.3l1-.3l1-.4l1-.3l1-.3l1-.4l1-.5l1-.6l1-.8l1-.9l1-1l1-1.1l1-1.2l1-1.3l1-1.4l1-1.6l1-2l1-2.1l1-2.4l1-2.7l1-2.7l1-3l1-3.5l1-3.8l1-4.2l1-4.5l1-4.8l1-5.1l1-5.8l1-6.4l1-6.8l1-6.7l1-6.5l1-6.9l1-6.9l1-6.7l1-5.9l1-5l1-4.3l1-4l1-3.8l1-3.9l1-3.9l1-3.8l1-3.5l1-4l1-2.4l1 2l1 4.1l1 3.4l1 3.4l1 3.5l1 3.5l1 3.3l1 3.3l1 3.5l1 3.9l1 4.5l1 5.6l1 6.9l1 7.5l1 7.4l1 7.1l1 7l1 7.1l1 7.1l1 7.3l1 7.5l1 7.5l1 7.6l1 8l1 7.3l1 5.4l1 4.2l1 3.5l1 2.6l1 2l1 1.7l1 1.4l1 .9l1 .6l1 .5l1 .4l1 .2l1 .1l1-.1l1-.1l1 0l1-.2l1-.1l1-.1l1 0l1 0l1 0l1 .1l1 0l1 .1l1 0l1 0l1 .1l1 0l1 .2l1 .2l1 .2l1 .4l1 .5l1 .4l1 .5l1 .4l1 .4l1 .4l1 .3l1 .4l1 .5l1 .6l1 .7l1 .7l1 .7l1 .6l1 .5l1 .4l1 .3l1 .2l1 .2l1 .1l1 .2l1 .2l1 .4l1 .4l1 .4l1 .4l1 .4l1 .2l1 .2l1 .2l1 .1l1 .1l1 .2l1 .3l1 .3l1 .3l1 .3l1 .3l1 .2l1 .1l1 0l1-.1l1-.1l1 0l1 0l1 .1l1 .3l1 .3l1 .2l1 .3l1 .1l1-.1l1-.2l1-.3l1-.4l1-.5l1-.3l1-.2l1-.1l1 .1l1 .2l1 .3l1 .2l1 .3l1 .1l1 .1l1 .1l1 .1l1 .1l1 .2l1 .3l1 .3l1 .3l1 .2l1 .1l1 0l1-.2l1-.3l1-.3l1-.4l1-.2l1 0l1 .1l1 .3l1 .4l1 .4l1 .3l1 .2l1 .1l1-.1l1-.2l1-.2l1-.3l1-.1l1-.1l1 0l1 .2l1 .1l1 .2l1 .1l1 0l1 0l1-.1l1 0l1 0l1 .2l1 .2l1 .4l1 .4l1 .3l1 .3l1 .1l1 0l1-.2l1-.3l1-.4l1-.3l1-.2l1-.1l1 .2l1 .2l1 .4l1 .4l1 .3l1 .2l1 0l1 0l1-.2l1-.1l1-.1l1-.1l1 .1l1 .1l1 .2l1 .2l1 .1l1 0l1 0l1-.1l1-.1l1 0l1 .1l1 .3l1 .4l1 .5l1 .5l1 .5l1 .3l1 .1l1 0l1-.3l1-.4l1-.4l1-.5l1-.3l1-.2l1 0l1 .1l1 .2l1 .2l1 .1l1 .1l1 0l1 0l1 0l1 .1l1 .1l1 .3l1 .3l1 .4l1 .4l1 .3l1 .1l1 0l1-.1l1-.3l1-.2l1-.2l1 0l1 .1l1 .2l1 .4l1 .4l1 .3l1 .2l1 0l1-.2l1-.3l1-.4l1-.4l1-.3l1-.2l1 0l1 .1l1 .2l1 .2l1 .2l1 .2l1 .1l1 .1l1 .1l1 .2l1 .2l1 .4l1 .4l1 .5l1 .5l1 .3l1 .2l1 0l1-.2l1-.4l1-.5l1-.4l1-.4l1-.2l1 0l1 .2l1 .3l1 .4l1 .4l1 .3l1 .2l1 .1l1 0l1 0l1 0l1 .1l1 .2l1 .3l1 .4l1 .3l1 .3l1 .2l1 .1l1 .1l1-.1l1 0l1 .1l1 .2l1 .4l1 .5l1 .5l1 .6l1 .4l1 .3l1 0l.5 0"/><path d="M48 182.3l1-.3l1-.3l1-.3l1-.3l1-.3l1-.4l1-.3l1-.4l1-.3l1-.4l1-.3l1-.3l1-.3l1-.2l1-.2l1-.1l1-.2l1-.1l1-.2l1-.1l1-.2l1-.2l1-.3l1-.3l1-.3l1-.3l1-.3l1-.3l1-.3l1-.4l1-.3l1-.3l1-.3l1-.3l1-.3l1-.3l1-.4l1-.3l1-.4l1-.3l1-.4l1-.4l1-.3l1-.3l1-.2l1-.2l1-.1l1-.1l1-.1l1 0l1 0l1 .1l1 0l1 0l1 0l1-.1l1-.1l1-.1l1-.1l1-.2l1-.1l1-.1l1 0l1 0l1 0l1 0l1 .1l1 .1l1 .2l1 .1l1 .2l1 .1l1 .2l1 .1l1 .2l1 .1l1 .1l1 .1l1 .1l1 .1l1 .1l1 .1l1 .2l1 .1l1 .1l1 0l1 .1l1 0l1 0l1 .1l1 0l1 0l1 0l1 0l1 .1l1 .1l1 .1l1 .2l1 .1l1 .1l1 .1l1 .1l1 0l1-.1l1-.1l1-.2l1-.3l1-.3l1-.3l1-.4l1-.5l1-.6l1-.6l1-.7l1-.8l1-.9l1-.8l1-.9l1-1l1-1l1-1.3l1-1.5l1-1.8l1-1.9l1-2.2l1-2.3l1-2.4l1-2.7l1-3l1-3.3l1-3.6l1-3.8l1-4.1l1-4.8l1-5.4l1-5.7l1-5.8l1-5.5l1-5.8l1-5.9l1-5.7l1-5.3l1-4.6l1-4.4l1-4.1l1-3.7l1-3.1l1-2.8l1-2.2l1-1.3l1-.9l1-.4l1 .6l1 1.3l1 1.5l1 2.1l1 2.7l1 2.9l1 3.2l1 3.5l1 3.9l1 4.1l1 4.5l1 5.2l1 6l1 6.3l1 6.4l1 6l1 5.9l1 5.9l1 5.9l1 6l1 6.1l1 6.2l1 6.1l1 6.5l1 5.9l1 4.4l1 3.4l1 2.8l1 2.1l1 1.6l1 1.4l1 1l1 .7l1 .5l1 .4l1 .3l1 .3l1 .1l1 .1l1 0l1 0l1-.1l1-.2l1-.1l1-.2l1-.2l1-.1l1-.1l1 .1l1 .1l1 .2l1 .2l1 .2l1 .3l1 .2l1 .2l1 .3l1 .3l1 .3l1 .4l1 .3l1 .3l1 .3l1 .4l1 .3l1 .4l1 .5l1 .5l1 .5l1 .5l1 .6l1 .4l1 .5l1 .3l1 .3l1 .2l1 .1l1 .1l1 .1l1 .1l1 .1l1 .2l1 .2l1 .3l1 .3l1 .4l1 .4l1 .5l1 .4l1 .5l1 .3l1 .4l1 .2l1 .2l1 .2l1 .1l1 .1l1 0l1 0l1 0l1 0l1 0l1 0l1 0l1-.1l1 0l1-.1l1-.2l1-.2l1-.1l1-.2l1-.2l1-.1l1-.1l1 .1l1 .1l1 .2l1 .2l1 .3l1 .4l1 .3l1 .3l1 .3l1 .2l1 0l1 0l1 0l1-.2l1-.2l1-.2l1-.1l1-.1l1-.1l1 .1l1 .1l1 .2l1 .2l1 .3l1 .2l1 .2l1 .2l1 0l1 0l1-.1l1-.2l1-.1l1-.2l1-.2l1-.2l1 0l1 0l1 0l1 .2l1 .2l1 .3l1 .2l1 .2l1 .2l1 .2l1 .1l1 0l1 0l1 0l1 0l1-.1l1 0l1 0l1 .1l1 .1l1 .1l1 .2l1 .1l1 .2l1 .1l1 0l1 0l1-.1l1-.2l1-.1l1-.1l1-.2l1 0l1 0l1 .1l1 .1l1 .3l1 .3l1 .4l1 .3l1 .3l1 .3l1 .1l1 .1l1 0l1-.2l1-.2l1-.2l1-.2l1-.3l1-.1l1-.1l1 0l1 .1l1 .3l1 .3l1 .4l1 .3l1 .4l1 .4l1 .3l1 .2l1 .1l1 0l1-.1l1-.1l1-.1l1-.2l1-.1l1-.1l1-.1l1-.1l1 0l1 0l1 0l1-.1l1 0l1 0l1-.1l1 0l1-.1l1 0l1 0l1 .1l1 .2l1 .2l1 .4l1 .4l1 .5l1 .4l1 .5l1 .4l1 .3l1 .2l1 0l1-.1l1-.2l1-.3l1-.4l1-.4l1-.4l1-.4l1-.3l1-.1l1-.1l1 .1l1 .2l1 .2l1 .3l1 .4l1 .3l1 .3l1 .2l1 .2l1 .1l1 0l1 0l1 0l1 0l1 .1l1 0l1 .1l1 .2l1 .2l1 .2l1 .2l1 .2l1 .2l1 .1l1 .1l1 0l1-.1l1 0l1-.1l1 0l1 0l1 0l1 .1l1 .2l1 .3l1 .3l1 .3l1 .3l1 .3l1 .2l1 .1l1 .1l1 .1l1-.1l1 0l1-.1l1 0l1 0l1 .1l1 .2l1 .4l.5 .2"/><path d="M48 182.3l1-.3l1-.3l1-.2l1-.3l1-.3l1-.2l1-.3l1-.2l1-.2l1-.2l1-.3l1-.2l1-.2l1-.2l1-.2l1-.2l1-.2l1-.2l1-.2l1-.2l1-.2l1-.3l1-.2l1-.3l1-.2l1-.3l1-.3l1-.3l1-.3l1-.3l1-.3l1-.3l1-.3l1-.2l1-.3l1-.2l1-.3l1-.2l1-.2l1-.2l1-.3l1-.2l1-.3l1-.2l1-.2l1-.2l1-.2l1-.2l1-.2l1-.1l1-.1l1-.1l1 0l1-.1l1 0l1-.1l1 0l1-.1l1 0l1-.1l1 0l1 0l1 0l1 0l1 0l1 0l1 0l1 0l1 .1l1 0l1 .2l1 .1l1 .1l1 .2l1 .1l1 .2l1 .2l1 .2l1 .1l1 .2l1 .1l1 .2l1 .1l1 .1l1 .1l1 .1l1 .1l1 0l1 0l1 .1l1 0l1 .1l1 0l1 0l1 .1l1 0l1 .1l1 0l1 0l1 0l1 0l1-.1l1-.1l1-.1l1-.1l1-.1l1-.2l1-.2l1-.2l1-.2l1-.3l1-.4l1-.5l1-.6l1-.7l1-.7l1-.9l1-.8l1-1l1-1l1-1.2l1-1.4l1-1.7l1-1.8l1-2l1-2.1l1-2.2l1-2.5l1-2.7l1-3l1-3.3l1-3.5l1-3.8l1-4.4l1-5l1-5.2l1-5.3l1-5.2l1-5.4l1-5.4l1-5.3l1-4.8l1-4.3l1-4.1l1-3.8l1-3.4l1-2.9l1-2.6l1-2.1l1-1.3l1-.9l1-.3l1 .4l1 1.1l1 1.3l1 1.9l1 2.4l1 2.6l1 2.9l1 3.2l1 3.5l1 3.8l1 4.1l1 4.7l1 5.4l1 5.8l1 5.7l1 5.4l1 5.4l1 5.3l1 5.4l1 5.5l1 5.6l1 5.6l1 5.6l1 6l1 5.5l1 4.1l1 3.2l1 2.6l1 2.1l1 1.6l1 1.3l1 .9l1 .7l1 .4l1 .3l1 .3l1 .1l1 .1l1 .1l1 0l1 0l1-.1l1 0l1-.2l1-.1l1-.1l1 0l1-.1l1 .1l1 .1l1 .1l1 .2l1 .2l1 .2l1 .2l1 .2l1 .3l1 .3l1 .3l1 .4l1 .3l1 .3l1 .3l1 .3l1 .2l1 .3l1 .3l1 .4l1 .4l1 .4l1 .5l1 .5l1 .5l1 .5l1 .5l1 .5l1 .4l1 .5l1 .4l1 .4l1 .3l1 .3l1 .3l1 .3l1 .3l1 .2l1 .2l1 .2l1 .2l1 .1l1 .2l1 .2l1 .1l1 .1l1 .1l1 .1l1 .1l1 0l1 .1l1 0l1 0l1 0l1 0l1 0l1 0l1 .1l1 0l1 0l1 0l1 0l1 0l1 .1l1 0l1 0l1 .1l1 0l1 0l1 .1l1 0l1 .1l1 0l1 .1l1 .1l1 .1l1 .1l1 .1l1 .1l1 .1l1 .1l1 .1l1 .1l1 .1l1 .1l1 0l1 .1l1 .1l1 0l1 0l1 0l1 0l1 0l1 0l1-.1l1 0l1-.1l1 0l1-.1l1 0l1-.1l1 0l1 0l1 0l1 0l1 .1l1 0l1 .1l1 .1l1 .1l1 .2l1 .1l1 .2l1 .1l1 .2l1 .2l1 .1l1 .2l1 .2l1 .1l1 .1l1 .1l1 .1l1 .1l1 0l1 0l1 0l1 0l1 0l1-.1l1 0l1-.1l1-.1l1 0l1-.1l1-.1l1 0l1 0l1 0l1 0l1 0l1 .1l1 .1l1 .1l1 .1l1 .1l1 .2l1 .2l1 .2l1 .1l1 .2l1 .2l1 .2l1 .2l1 .1l1 .2l1 .1l1 .1l1 .1l1 .1l1 0l1 0l1 .1l1 0l1 0l1-.1l1 0l1 0l1-.1l1 0l1 0l1 0l1-.1l1 0l1 0l1 0l1 .1l1 0l1 0l1 .1l1 .1l1 0l1 .1l1 .1l1 .1l1 0l1 .1l1 .1l1 .1l1 .1l1 .1l1 .1l1 .1l1 .1l1 .1l1 0l1 .1l1 .1l1 .1l1 .1l1 .1l1 0l1 .1l1 .1l1 .1l1 .1l1 0l1 .1l1 0l1 .1l1 0l1 .1l1 0l1 0l1 0l1 0l1 0l1 0l1 0l1 0l1 0l1 0l1 0l1 .1l1 0l1 .1l1 0l1 .1l1 .1l1 .2l1 .1l1 .2l1 .2l1 .2l1 .2l1 .3l1 .2l1 .3l1 .2l1 .3l1 .2l1 .2l1 .2l1 .2l1 .2l1 .2l1 .1l1 .2l1 .1l1 .1l1 .1l1 .1l1 0l1 .1l1 0l1 .1l1 .1l.5 0"/><path d="M48 182.3l1-.3l1-.2l1-.3l1-.2l1-.3l1-.2l1-.2l1-.3l1-.2l1-.3l1-.2l1-.2l1-.1l1-.1l1-.1l1-.1l1-.1l1-.2l1-.2l1-.3l1-.3l1-.4l1-.3l1-.3l1-.2l1-.2l1-.1l1-.1l1-.1l1-.2l1-.2l1-.2l1-.3l1-.3l1-.3l1-.3l1-.3l1-.2l1-.2l1-.2l1-.1l1-.2l1-.2l1-.2l1-.3l1-.3l1-.3l1-.3l1-.3l1-.2l1-.1l1-.1l1 0l1-.1l1 0l1 0l1-.1l1 0l1 0l1 0l1 0l1 .1l1 .1l1 .1l1 .1l1 .1l1 0l1-.1l1 0l1-.1l1-.1l1-.1l1 .1l1 .1l1 .2l1 .3l1 .4l1 .3l1 .3l1 .3l1 .2l1 .1l1 .1l1 0l1 0l1 0l1 .1l1 0l1 .1l1 .2l1 0l1 .1l1 0l1 0l1-.1l1 0l1-.1l1 0l1 0l1 0l1 0l1 0l1-.1l1-.1l1-.1l1-.1l1-.2l1-.2l1-.1l1-.1l1-.1l1-.2l1-.3l1-.4l1-.6l1-.6l1-.8l1-.9l1-.9l1-1l1-1.1l1-1.3l1-1.4l1-1.5l1-1.6l1-1.7l1-1.8l1-2l1-2.3l1-2.6l1-2.8l1-3.1l1-3.3l1-3.8l1-4.3l1-4.6l1-4.6l1-4.5l1-4.7l1-4.8l1-4.7l1-4.3l1-3.9l1-3.6l1-3.4l1-3.1l1-2.6l1-2.3l1-1.9l1-1.2l1-.8l1-.4l1 .2l1 .9l1 1l1 1.6l1 2l1 2.3l1 2.5l1 2.8l1 3.1l1 3.4l1 3.5l1 4l1 4.7l1 4.9l1 4.9l1 4.7l1 4.6l1 4.7l1 4.7l1 4.8l1 4.9l1 5.1l1 5.1l1 5.4l1 5.1l1 3.9l1 3l1 2.4l1 1.9l1 1.4l1 1.2l1 .9l1 .5l1 .4l1 .3l1 .2l1 .1l1 0l1 0l1-.1l1 0l1-.1l1-.1l1-.1l1 0l1 0l1 0l1 .1l1 0l1 .1l1 .1l1 .2l1 .1l1 .2l1 .2l1 .3l1 .4l1 .5l1 .5l1 .6l1 .4l1 .3l1 .1l1 0l1 0l1 .1l1 .1l1 .2l1 .4l1 .5l1 .6l1 .7l1 .6l1 .7l1 .5l1 .4l1 .4l1 .3l1 .2l1 .2l1 .2l1 .3l1 .2l1 .3l1 .2l1 .2l1 .1l1 .2l1 .1l1 .2l1 .3l1 .3l1 .4l1 .5l1 .4l1 .4l1 .3l1 .1l1 0l1-.2l1-.2l1-.2l1-.2l1-.1l1 0l1 .2l1 .2l1 .2l1 .1l1 0l1-.1l1-.3l1-.3l1-.5l1-.3l1-.3l1-.1l1 .1l1 .3l1 .4l1 .4l1 .5l1 .3l1 .2l1 .1l1 0l1 0l1 0l1-.1l1 .1l1 0l1 .1l1 .1l1 0l1 0l1-.1l1-.1l1-.1l1 .1l1 .1l1 .3l1 .4l1 .4l1 .5l1 .3l1 .1l1 0l1-.2l1-.4l1-.5l1-.4l1-.4l1-.1l1 0l1 .2l1 .3l1 .3l1 .2l1 .1l1 0l1-.2l1-.3l1-.3l1-.2l1-.1l1 .1l1 .3l1 .4l1 .5l1 .4l1 .5l1 .3l1 .2l1 .1l1 0l1-.1l1 0l1 0l1 0l1 .1l1 0l1 0l1-.1l1-.1l1-.2l1-.2l1-.1l1 0l1 .2l1 .3l1 .5l1 .5l1 .4l1 .3l1 .1l1 0l1-.3l1-.5l1-.5l1-.4l1-.3l1-.1l1 0l1 .3l1 .4l1 .4l1 .4l1 .2l1 .1l1 0l1-.1l1-.1l1-.1l1 0l1 .2l1 .3l1 .4l1 .4l1 .4l1 .3l1 .1l1 .1l1-.1l1-.1l1-.1l1 0l1-.1l1 0l1 0l1 0l1-.1l1-.1l1-.3l1-.3l1-.2l1-.2l1 0l1 .2l1 .4l1 .5l1 .5l1 .5l1 .3l1 .2l1-.1l1-.3l1-.5l1-.5l1-.4l1-.2l1-.1l1 .2l1 .3l1 .5l1 .5l1 .4l1 .3l1 .2l1 .1l1-.1l1 0l1 0l1 0l1 .2l1 .3l1 .2l1 .3l1 .2l1 .1l1 0l1-.1l1-.2l1-.1l1-.1l1 0l1 0l1 .1l1 .1l1 .1l1 0l1-.2l1-.1l1-.2l1-.2l1 0l1 .2l1 .3l1 .6l1 .6l1 .8l1 .6l1 .5l1 .2l1 0l1-.2l1-.3l1-.3l1-.3l1-.1l1 .1l1 .4l1 .4l1 .6l1 .6l1 .6l.5 .2"/><path d="M48 182.3l1-.2l1-.2l1-.2l1-.2l1-.2l1-.3l1-.2l1-.2l1-.2l1-.2l1-.2l1-.2l1-.1l1-.2l1-.1l1-.1l1-.1l1-.1l1-.1l1-.1l1-.2l1-.2l1-.2l1-.2l1-.2l1-.3l1-.3l1-.3l1-.3l1-.3l1-.3l1-.3l1-.2l1-.3l1-.1l1-.2l1-.1l1-.1l1-.2l1-.1l1-.2l1-.1l1-.3l1-.2l1-.2l1-.3l1-.2l1-.2l1-.2l1-.2l1-.2l1-.1l1 0l1-.1l1-.1l1 0l1 0l1-.1l1 0l1 0l1 0l1 0l1-.1l1 0l1 0l1 0l1 0l1 0l1 .1l1 0l1 .2l1 .1l1 .2l1 .2l1 .2l1 .2l1 .2l1 .2l1 .2l1 .2l1 .2l1 .1l1 .1l1 .1l1 0l1 .1l1-.1l1 0l1 0l1 0l1 0l1 0l1 0l1 .1l1 0l1 .1l1 .2l1 .1l1 .1l1 0l1 .1l1 0l1-.1l1 0l1-.1l1-.2l1-.2l1-.2l1-.2l1-.2l1-.2l1-.3l1-.4l1-.5l1-.5l1-.5l1-.6l1-.6l1-.7l1-.7l1-.9l1-1.1l1-1.3l1-1.4l1-1.5l1-1.7l1-1.7l1-2l1-2.1l1-2.4l1-2.6l1-2.7l1-2.9l1-3.4l1-3.8l1-4.2l1-4.2l1-4l1-4.2l1-4.3l1-4.2l1-3.8l1-3.5l1-3.2l1-3l1-2.7l1-2.4l1-2l1-1.8l1-1.1l1-.7l1-.4l1 .2l1 .8l1 1l1 1.4l1 1.9l1 2.1l1 2.3l1 2.5l1 2.8l1 3l1 3.2l1 3.6l1 4.2l1 4.5l1 4.6l1 4.5l1 4.3l1 4.3l1 4.3l1 4.4l1 4.5l1 4.6l1 4.6l1 4.9l1 4.7l1 3.8l1 2.9l1 2.4l1 2l1 1.4l1 1.2l1 .9l1 .6l1 .3l1 .3l1 .1l1 .1l1-.1l1 0l1-.1l1-.2l1-.1l1-.2l1-.1l1-.2l1-.1l1-.1l1 .1l1 0l1 .2l1 .2l1 .2l1 .3l1 .2l1 .2l1 .3l1 .2l1 .3l1 .3l1 .4l1 .3l1 .3l1 .3l1 .2l1 .3l1 .3l1 .3l1 .4l1 .5l1 .4l1 .5l1 .4l1 .5l1 .4l1 .4l1 .3l1 .4l1 .2l1 .2l1 .2l1 .2l1 .1l1 .2l1 .1l1 .2l1 .1l1 .2l1 .2l1 .2l1 .2l1 .2l1 .2l1 .2l1 .1l1 .1l1 .2l1 .1l1 .1l1 .1l1 .1l1 .1l1 .1l1 .2l1 .1l1 .2l1 .2l1 .2l1 .2l1 .1l1 .1l1 0l1-.1l1-.1l1-.1l1-.2l1-.3l1-.3l1-.3l1-.2l1-.3l1-.2l1-.1l1 0l1 .1l1 .1l1 .2l1 .3l1 .3l1 .4l1 .4l1 .3l1 .4l1 .2l1 .3l1 .1l1 .1l1-.1l1 0l1-.1l1-.2l1-.1l1-.2l1-.1l1-.1l1 0l1 0l1 0l1 .1l1 .1l1 .2l1 .1l1 .1l1 .1l1 .1l1 .1l1 0l1 0l1 0l1-.1l1-.1l1 0l1-.1l1 0l1 0l1 0l1 0l1 .1l1 .2l1 .1l1 .2l1 .2l1 .1l1 .2l1 .1l1 .1l1 .2l1 0l1 .1l1 .1l1 0l1 .1l1 0l1 .1l1 .1l1 .1l1 .1l1 0l1 .1l1 .1l1 0l1 0l1 0l1 0l1-.1l1-.2l1-.1l1-.1l1-.2l1-.1l1 0l1 0l1 0l1 .2l1 .2l1 .3l1 .3l1 .4l1 .4l1 .4l1 .4l1 .4l1 .3l1 .2l1 .1l1 0l1 0l1-.2l1-.2l1-.3l1-.4l1-.3l1-.3l1-.3l1-.2l1-.1l1-.1l1 .1l1 .1l1 .2l1 .2l1 .3l1 .4l1 .3l1 .3l1 .2l1 .3l1 .1l1 .1l1 .1l1 0l1 0l1-.1l1 0l1-.1l1 0l1 0l1 0l1 0l1 .1l1 .1l1 .1l1 .1l1 .1l1 .2l1 0l1 .1l1 .1l1 0l1 0l1 0l1-.1l1 0l1 0l1 0l1 0l1 0l1 .1l1 .1l1 0l1 .2l1 .1l1 .1l1 .1l1 .1l1 .1l1 .1l1 0l1 .1l1 .1l1 .1l1 .1l1 .2l1 .2l1 .2l1 .3l1 .3l1 .3l1 .3l1 .4l1 .2l1 .3l1 .2l1 .1l1 .1l1 0l1-.1l1-.2l1-.2l1-.2l1-.2l1-.2l1-.1l1-.1l1 .1l1 .1l.5 .1"/><path d="M48 182.3l1-.2l1-.2l1-.2l1-.2l1-.2l1-.1l1-.2l1-.1l1-.1l1-.1l1-.2l1-.1l1-.1l1-.1l1-.1l1-.1l1-.2l1-.1l1-.1l1-.2l1-.2l1-.2l1-.2l1-.3l1-.2l1-.3l1-.2l1-.2l1-.2l1-.1l1-.2l1-.2l1-.2l1-.3l1-.2l1-.2l1-.3l1-.2l1-.2l1-.3l1-.1l1-.2l1-.2l1-.2l1-.2l1-.1l1-.2l1-.1l1-.2l1-.1l1 0l1-.1l1 0l1 0l1 0l1 0l1 0l1 0l1-.1l1-.1l1-.1l1-.1l1-.1l1-.1l1-.1l1 0l1 0l1 .1l1 .1l1 .2l1 .1l1 .1l1 .2l1 .1l1 .1l1 .1l1 .1l1 .1l1 .1l1 .1l1 .2l1 .2l1 .1l1 .2l1 .1l1 .2l1 0l1 .1l1 .1l1 .1l1 .1l1 .1l1 .1l1 .1l1 .2l1 .1l1 0l1 .1l1-.1l1 0l1-.1l1-.2l1-.1l1-.1l1-.2l1-.1l1 0l1-.1l1-.1l1-.1l1-.2l1-.3l1-.3l1-.5l1-.5l1-.6l1-.6l1-.7l1-.6l1-.7l1-.8l1-1l1-1.1l1-1.2l1-1.3l1-1.5l1-1.5l1-1.6l1-1.9l1-2l1-2.2l1-2.4l1-2.5l1-3l1-3.4l1-3.6l1-3.7l1-3.7l1-3.7l1-3.9l1-3.9l1-3.5l1-3.1l1-2.9l1-2.7l1-2.4l1-2.1l1-1.8l1-1.6l1-1l1-.6l1-.4l1 .2l1 .6l1 .9l1 1.2l1 1.6l1 1.8l1 2l1 2.2l1 2.5l1 2.6l1 2.9l1 3.2l1 3.7l1 4l1 4.1l1 4l1 3.8l1 3.9l1 4l1 4l1 4.1l1 4.1l1 4.1l1 4.4l1 4.1l1 3.2l1 2.4l1 2l1 1.6l1 1.2l1 1l1 .8l1 .5l1 .4l1 .2l1 .2l1 .2l1 0l1 0l1 0l1-.1l1-.1l1-.2l1-.2l1-.1l1-.2l1-.1l1 0l1 0l1 0l1 .1l1 .1l1 .1l1 .2l1 .2l1 .2l1 .3l1 .5l1 .5l1 .6l1 .5l1 .5l1 .4l1 .3l1 .2l1 .3l1 .2l1 .3l1 .3l1 .3l1 .4l1 .5l1 .4l1 .5l1 .5l1 .4l1 .3l1 .3l1 .3l1 .2l1 .2l1 .2l1 .2l1 .2l1 .2l1 .2l1 .2l1 .1l1 .1l1 .1l1 .1l1 0l1 0l1 .1l1 .2l1 .2l1 .3l1 .3l1 .3l1 .3l1 .3l1 .2l1 .1l1 0l1 0l1-.1l1-.1l1-.1l1 0l1-.1l1 0l1 .1l1 0l1 0l1 .1l1 0l1-.1l1 0l1 0l1 0l1 0l1 .1l1 .2l1 .1l1 .2l1 .1l1 0l1 0l1-.2l1-.2l1-.2l1-.2l1-.1l1-.1l1 0l1 .2l1 .2l1 .3l1 .2l1 .3l1 .2l1 .2l1 .1l1 0l1 0l1-.1l1 0l1 .1l1 0l1 .2l1 .1l1 .1l1 .2l1 .1l1 0l1 0l1 0l1 0l1 .1l1 .1l1 .1l1 .1l1 .2l1 .1l1 .1l1 0l1-.1l1-.2l1-.2l1-.4l1-.3l1-.2l1-.2l1 0l1 0l1 .2l1 .2l1 .3l1 .4l1 .2l1 .3l1 .2l1 .1l1 .1l1 .1l1 .1l1 .1l1 .2l1 .2l1 .1l1 .2l1 .1l1 0l1 0l1 0l1-.1l1 0l1 0l1 0l1 .2l1 .2l1 .2l1 .2l1 .2l1 .1l1 0l1-.1l1-.1l1-.3l1-.2l1-.3l1-.1l1-.1l1 0l1 .2l1 .1l1 .3l1 .2l1 .2l1 .1l1 .1l1 .1l1 0l1 0l1 .1l1 .1l1 .1l1 .1l1 .1l1 .1l1 .1l1 0l1 0l1-.1l1 0l1 0l1 0l1 .1l1 .2l1 .3l1 .4l1 .3l1 .3l1 .3l1 .1l1 0l1-.1l1-.2l1-.3l1-.3l1-.2l1-.2l1-.1l1 0l1 0l1 .1l1 .1l1 0l1 .1l1 0l1 0l1 .1l1 0l1 .2l1 .1l1 .3l1 .2l1 .3l1 .2l1 .1l1 .2l1 0l1 0l1 0l1 0l1 0l1 .2l1 .2l1 .3l1 .4l1 .4l1 .3l1 .3l1 .2l1 .1l1 0l1-.1l1-.2l1-.1l1-.2l1-.1l1 0l1 0l1 .2l1 .1l1 .2l1 .1l1 .2l1 .1l1 .2l1 .2l1 .2l1 .2l1 .4l1 .3l.5 .2"/></g>
<path d="M48 182.3l1-.1l1-.1l1-.1l1-.1l1-.1l1 0l1-.1l1 0l1 0l1 0l1 0l1 0l1 0l1 0l1 0l1 0l1 0l1 0l1 0l1 0l1 0l1 0l1 0l1 0l1 0l1 0l1 0l1 0l1 0l1 0l1 0l1 0l1 0l1 0l1 0l1 0l1 0l1 0l1 0l1 0l1 .1l1 0l1 0l1 0l1 0l1 0l1 0l1 0l1 0l1 0l1 0l1 0l1 0l1 .1l1 .1l1 .1l1 .1l1 .1l1 .2l1 .2l1 .2l1 .2l1 .2l1 .2l1 .2l1 .2l1 .2l1 .2l1 .2l1 .2l1 .2l1 .1l1 .1l1 .2l1 .1l1 .1l1 .2l1 .1l1 .1l1 .1l1 .2l1 .1l1 .1l1 .1l1 .1l1 .2l1 .1l1 .1l1 .1l1 .1l1 .1l1 .1l1 .2l1 .1l1 .1l1 .1l1 .1l1 .1l1 .1l1 .1l1 .2l1 .1l1 .1l1 .1l1 .1l1 .1l1 .1l1 .1l1 .2l1 .1l1 .1l1 .1l1 .1l1 .1l1 .1l1 .1l1 .1l1 .1l1 .1l1 .1l1 .1l1 .1l1 .1l1 .1l1 .1l1 .1l1 .1l1 .1l1 .1l1 .1l1 0l1 .1l1 .1l1 .1l1 .1l1 .1l1 .1l1 0l1 .1l1 .1l1 0l1 .1l1 .1l1 0l1 .1l1 0l1 .1l1 0l1 .1l1 0l1 .1l1 0l1 0l1 .1l1 0l1 .1l1 0l1 0l1 .1l1 0l1 .1l1 0l1 0l1 .1l1 0l1 0l1 .1l1 0l1 0l1 .1l1 0l1 0l1 .1l1 0l1 .1l1 0l1 0l1 .1l1 0l1 .1l1 0l1 .1l1 0l1 0l1 .1l1 0l1 .1l1 .1l1 0l1 .1l1 0l1 .1l1 .1l1 0l1 .1l1 .1l1 .1l1 0l1 .1l1 .1l1 0l1 .1l1 .1l1 .1l1 0l1 .1l1 .1l1 0l1 .1l1 .1l1 .1l1 0l1 .1l1 .1l1 .1l1 .1l1 0l1 .1l1 .1l1 .1l1 0l1 .1l1 .1l1 .1l1 .1l1 0l1 .1l1 .1" stroke="#888" stroke-width="1" fill="none" stroke-dasharray="0 11 4 3.5 14 3 19 3 8 3 15 3 12 3"/>
<line x1="48.5" y1="4" x2="48.5" y2="216.8" stroke="#3a3a3a" stroke-width="1"/>
<rect x="48" y="218" width="1" height="1" fill="#333"/>
<line x1="49.6" y1="218.5" x2="514.5" y2="218.5" stroke="#444" stroke-width="1"/>
<line x1="43.5" y1="218.5" x2="47.2" y2="218.5" stroke="#555" stroke-width="1"/>
<line x1="43.5" y1="200.5" x2="47.2" y2="200.5" stroke="#555" stroke-width="1"/>
<line x1="43.5" y1="182.5" x2="47.2" y2="182.5" stroke="#555" stroke-width="1"/>
<line x1="43.5" y1="165.5" x2="47.2" y2="165.5" stroke="#555" stroke-width="1"/>
<line x1="43.5" y1="147.5" x2="47.2" y2="147.5" stroke="#555" stroke-width="1"/>
<line x1="43.5" y1="129.5" x2="47.2" y2="129.5" stroke="#555" stroke-width="1"/>
<line x1="43.5" y1="111.5" x2="47.2" y2="111.5" stroke="#555" stroke-width="1"/>
<line x1="43.5" y1="93.5" x2="47.2" y2="93.5" stroke="#555" stroke-width="1"/>
<line x1="43.5" y1="76.5" x2="47.2" y2="76.5" stroke="#555" stroke-width="1"/>
<line x1="43.5" y1="58.5" x2="47.2" y2="58.5" stroke="#555" stroke-width="1"/>
<line x1="43.5" y1="40.5" x2="47.2" y2="40.5" stroke="#555" stroke-width="1"/>
<line x1="43.5" y1="22.5" x2="47.2" y2="22.5" stroke="#555" stroke-width="1"/>
<line x1="43.5" y1="4.5" x2="47.2" y2="4.5" stroke="#555" stroke-width="1"/>
<line x1="48.5" y1="220.5" x2="48.5" y2="223.5" stroke="#666" stroke-width="0.9"/>
<line x1="52.5" y1="220.5" x2="52.5" y2="223.5" stroke="#666" stroke-width="0.9"/>
<line x1="75.5" y1="220.5" x2="75.5" y2="223.5" stroke="#666" stroke-width="0.9"/>
<line x1="97.5" y1="220.5" x2="97.5" y2="223.5" stroke="#666" stroke-width="0.9"/>
<line x1="120.5" y1="220.5" x2="120.5" y2="223.5" stroke="#666" stroke-width="0.9"/>
<line x1="142.5" y1="220.5" x2="142.5" y2="223.5" stroke="#666" stroke-width="0.9"/>
<line x1="164.5" y1="220.5" x2="164.5" y2="223.5" stroke="#666" stroke-width="0.9"/>
<line x1="187.5" y1="220.5" x2="187.5" y2="223.5" stroke="#666" stroke-width="0.9"/>
<line x1="209.5" y1="220.5" x2="209.5" y2="223.5" stroke="#666" stroke-width="0.9"/>
<line x1="232.5" y1="220.5" x2="232.5" y2="223.5" stroke="#666" stroke-width="0.9"/>
<line x1="254.5" y1="220.5" x2="254.5" y2="223.5" stroke="#666" stroke-width="0.9"/>
<line x1="276.5" y1="220.5" x2="276.5" y2="223.5" stroke="#666" stroke-width="0.9"/>
<line x1="299.5" y1="220.5" x2="299.5" y2="223.5" stroke="#666" stroke-width="0.9"/>
<line x1="321.5" y1="220.5" x2="321.5" y2="223.5" stroke="#666" stroke-width="0.9"/>
<line x1="344.5" y1="220.5" x2="344.5" y2="223.5" stroke="#666" stroke-width="0.9"/>
<line x1="366.5" y1="220.5" x2="366.5" y2="223.5" stroke="#666" stroke-width="0.9"/>
<line x1="388.5" y1="220.5" x2="388.5" y2="223.5" stroke="#666" stroke-width="0.9"/>
<line x1="411.5" y1="220.5" x2="411.5" y2="223.5" stroke="#666" stroke-width="0.9"/>
<line x1="433.5" y1="220.5" x2="433.5" y2="223.5" stroke="#666" stroke-width="0.9"/>
<line x1="456.5" y1="220.5" x2="456.5" y2="223.5" stroke="#666" stroke-width="0.9"/>
<line x1="478.5" y1="220.5" x2="478.5" y2="223.5" stroke="#666" stroke-width="0.9"/>
<line x1="500.5" y1="220.5" x2="500.5" y2="223.5" stroke="#666" stroke-width="0.9"/>
<line x1="514.5" y1="220.5" x2="514.5" y2="223.5" stroke="#666" stroke-width="0.9"/>
<text x="42" y="220.5" text-anchor="end" class="tk">-0.0010</text>
<text x="42" y="202.7" text-anchor="end" class="tk">-0.0005</text>
<text x="42" y="184.9" text-anchor="end" class="tk">0.0000</text>
<text x="42" y="167.1" text-anchor="end" class="tk">0.0005</text>
<text x="42" y="149.3" text-anchor="end" class="tk">0.0010</text>
<text x="42" y="131.6" text-anchor="end" class="tk">0.0015</text>
<text x="42" y="113.8" text-anchor="end" class="tk">0.0020</text>
<text x="42" y="96.0" text-anchor="end" class="tk">0.0025</text>
<text x="42" y="78.2" text-anchor="end" class="tk">0.0030</text>
<text x="42" y="60.4" text-anchor="end" class="tk">0.0035</text>
<text x="42" y="42.7" text-anchor="end" class="tk">0.0040</text>
<text x="42" y="24.9" text-anchor="end" class="tk">0.0045</text>
<text x="42" y="7.1" text-anchor="end" class="tk">0.0050</text>
<text x="47.5" y="230" text-anchor="middle" class="tk">42.0</text>
<text x="74.4" y="230" text-anchor="middle" class="tk">45.0</text>
<text x="96.8" y="230" text-anchor="middle" class="tk">47.5</text>
<text x="119.2" y="230" text-anchor="middle" class="tk">50.0</text>
<text x="141.6" y="230" text-anchor="middle" class="tk">52.5</text>
<text x="164.0" y="230" text-anchor="middle" class="tk">55.0</text>
<text x="186.4" y="230" text-anchor="middle" class="tk">57.5</text>
<text x="208.8" y="230" text-anchor="middle" class="tk">60.0</text>
<text x="231.2" y="230" text-anchor="middle" class="tk">62.5</text>
<text x="253.6" y="230" text-anchor="middle" class="tk">65.0</text>
<text x="276.0" y="230" text-anchor="middle" class="tk">67.5</text>
<text x="298.4" y="230" text-anchor="middle" class="tk">70.0</text>
<text x="320.8" y="230" text-anchor="middle" class="tk">72.5</text>
<text x="343.2" y="230" text-anchor="middle" class="tk">75.0</text>
<text x="365.6" y="230" text-anchor="middle" class="tk">77.5</text>
<text x="388.0" y="230" text-anchor="middle" class="tk">80.0</text>
<text x="410.4" y="230" text-anchor="middle" class="tk">82.5</text>
<text x="432.8" y="230" text-anchor="middle" class="tk">85.0</text>
<text x="455.2" y="230" text-anchor="middle" class="tk">87.5</text>
<text x="477.6" y="230" text-anchor="middle" class="tk">90.0</text>
<text x="513.4" y="230" text-anchor="middle" class="tk">94.0</text>
<text x="186.8" y="13.5" class="lb">normal</text>
<text x="85.8" y="61.7" class="lb">D816Y</text>
<line x1="101.5" y1="66.2" x2="101.5" y2="74" stroke="#111" stroke-width="1.4"/>
<text x="146.1" y="94.8" class="lb">D816H</text>
<line x1="161.8" y1="96.8" x2="165.6" y2="100.6" stroke="#111" stroke-width="1.3"/>
<text x="261.8" y="124.7" class="lb">- D816V</text>
<text x="234" y="247.6" class="ti">Temperature (<tspan style="font-size:6.5px" dy="-4.2">o</tspan><tspan dy="4.2">C)</tspan></text>
<text transform="translate(10.9,191.3) rotate(-90)" class="ti" style="font-size:13px">Fluorescence -d(F2/F1)/dT</text>
</svg>
</body></html>
